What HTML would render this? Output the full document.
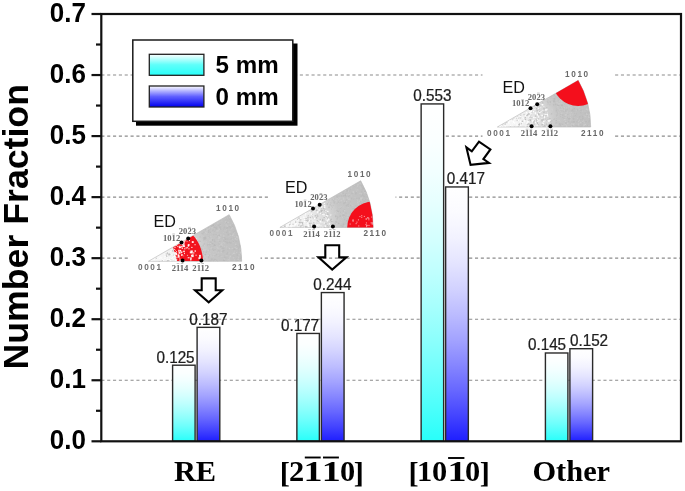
<!DOCTYPE html><html><head><meta charset="utf-8"><style>html,body{margin:0;padding:0;background:#fff;}svg{display:block;filter:blur(0.35px)}.s{font-family:"Liberation Sans",sans-serif}.r{font-family:"Liberation Serif",serif}</style></head><body>
<svg width="685" height="491" viewBox="0 0 685 491">
<defs><linearGradient id="gc" x1="0" y1="0" x2="0" y2="1"><stop offset="0.0" stop-color="rgb(255,255,255)"/><stop offset="0.1" stop-color="rgb(251,255,255)"/><stop offset="0.2" stop-color="rgb(242,255,255)"/><stop offset="0.3" stop-color="rgb(229,255,254)"/><stop offset="0.4" stop-color="rgb(212,255,254)"/><stop offset="0.5" stop-color="rgb(191,255,254)"/><stop offset="0.6" stop-color="rgb(167,255,253)"/><stop offset="0.7" stop-color="rgb(140,255,252)"/><stop offset="0.8" stop-color="rgb(110,255,252)"/><stop offset="0.9" stop-color="rgb(76,255,251)"/><stop offset="1.0" stop-color="rgb(40,255,250)"/></linearGradient><linearGradient id="gb" x1="0" y1="0" x2="0" y2="1"><stop offset="0.0" stop-color="rgb(255,255,255)"/><stop offset="0.1" stop-color="rgb(251,251,255)"/><stop offset="0.2" stop-color="rgb(242,242,255)"/><stop offset="0.3" stop-color="rgb(228,228,255)"/><stop offset="0.4" stop-color="rgb(210,210,255)"/><stop offset="0.5" stop-color="rgb(188,188,255)"/><stop offset="0.6" stop-color="rgb(163,163,255)"/><stop offset="0.7" stop-color="rgb(134,134,255)"/><stop offset="0.8" stop-color="rgb(103,103,255)"/><stop offset="0.9" stop-color="rgb(68,68,255)"/><stop offset="1.0" stop-color="rgb(30,30,255)"/></linearGradient><linearGradient id="lc" x1="0" y1="0" x2="0" y2="1"><stop offset="0" stop-color="#ffffff"/><stop offset="0.5" stop-color="#5ffffa"/><stop offset="1" stop-color="#28fffa"/></linearGradient><linearGradient id="lb" x1="0" y1="0" x2="0" y2="1"><stop offset="0" stop-color="#ffffff"/><stop offset="0.5" stop-color="#6060ff"/><stop offset="1" stop-color="#0000ee"/></linearGradient></defs>
<rect width="685" height="491" fill="#fff"/>
<line x1="101.35" y1="380.26" x2="680.0" y2="380.26" stroke="#8c8c8c" stroke-width="1.15" stroke-dasharray="3.1 2.738"/>
<line x1="101.35" y1="319.21" x2="680.0" y2="319.21" stroke="#8c8c8c" stroke-width="1.15" stroke-dasharray="3.1 2.738"/>
<line x1="101.35" y1="258.17" x2="680.0" y2="258.17" stroke="#8c8c8c" stroke-width="1.15" stroke-dasharray="3.1 2.738"/>
<line x1="101.35" y1="197.13" x2="680.0" y2="197.13" stroke="#8c8c8c" stroke-width="1.15" stroke-dasharray="3.1 2.738"/>
<line x1="101.35" y1="136.09" x2="680.0" y2="136.09" stroke="#8c8c8c" stroke-width="1.15" stroke-dasharray="3.1 2.738"/>
<line x1="101.35" y1="75.04" x2="680.0" y2="75.04" stroke="#8c8c8c" stroke-width="1.15" stroke-dasharray="3.1 2.738"/>
<rect x="128.5" y="203" width="132" height="72" fill="#fff"/>
<rect x="268" y="166" width="127.5" height="76" fill="#fff"/>
<rect x="482.5" y="66" width="131" height="76" fill="#fff"/>
<rect x="172.60" y="365.20" width="22.50" height="76.10" fill="url(#gc)" stroke="#2a2a2a" stroke-width="1.4"/>
<rect x="197.10" y="327.35" width="22.70" height="113.95" fill="url(#gb)" stroke="#2a2a2a" stroke-width="1.4"/>
<rect x="296.87" y="333.45" width="22.50" height="107.85" fill="url(#gc)" stroke="#2a2a2a" stroke-width="1.4"/>
<rect x="321.37" y="292.56" width="22.70" height="148.74" fill="url(#gb)" stroke="#2a2a2a" stroke-width="1.4"/>
<rect x="421.14" y="103.93" width="22.50" height="337.37" fill="url(#gc)" stroke="#2a2a2a" stroke-width="1.4"/>
<rect x="445.64" y="186.95" width="22.70" height="254.35" fill="url(#gb)" stroke="#2a2a2a" stroke-width="1.4"/>
<rect x="545.41" y="352.99" width="22.50" height="88.31" fill="url(#gc)" stroke="#2a2a2a" stroke-width="1.4"/>
<rect x="569.91" y="348.71" width="22.70" height="92.59" fill="url(#gb)" stroke="#2a2a2a" stroke-width="1.4"/>
<text class="s" transform="translate(175.50,362.50) scale(0.98,1)" font-size="15.6" text-anchor="middle" fill="#1e1e1e" stroke="#1e1e1e" stroke-width="0.25">0.125</text>
<text class="s" transform="translate(208.40,324.65) scale(0.98,1)" font-size="15.6" text-anchor="middle" fill="#1e1e1e" stroke="#1e1e1e" stroke-width="0.25">0.187</text>
<text class="s" transform="translate(300.00,330.75) scale(0.98,1)" font-size="15.6" text-anchor="middle" fill="#1e1e1e" stroke="#1e1e1e" stroke-width="0.25">0.177</text>
<text class="s" transform="translate(332.40,289.86) scale(0.98,1)" font-size="15.6" text-anchor="middle" fill="#1e1e1e" stroke="#1e1e1e" stroke-width="0.25">0.244</text>
<text class="s" transform="translate(432.35,101.23) scale(0.98,1)" font-size="15.6" text-anchor="middle" fill="#1e1e1e" stroke="#1e1e1e" stroke-width="0.25">0.553</text>
<text class="s" transform="translate(465.80,184.25) scale(0.98,1)" font-size="15.6" text-anchor="middle" fill="#1e1e1e" stroke="#1e1e1e" stroke-width="0.25">0.417</text>
<text class="s" transform="translate(547.00,350.29) scale(0.98,1)" font-size="15.6" text-anchor="middle" fill="#1e1e1e" stroke="#1e1e1e" stroke-width="0.25">0.145</text>
<text class="s" transform="translate(589.00,346.01) scale(0.98,1)" font-size="15.6" text-anchor="middle" fill="#1e1e1e" stroke="#1e1e1e" stroke-width="0.25">0.152</text>
<rect x="101.3" y="14.0" width="579.7" height="427.3" fill="none" stroke="#111" stroke-width="2.2"/>
<line x1="91.5" y1="441.30" x2="101.3" y2="441.30" stroke="#111" stroke-width="2.2"/>
<line x1="96" y1="410.78" x2="101.3" y2="410.78" stroke="#111" stroke-width="2.2"/>
<text class="s" transform="translate(85.9,448.90) scale(0.935,1)" font-size="27.8" font-weight="bold" text-anchor="end" fill="#000">0.0</text>
<line x1="91.5" y1="380.26" x2="101.3" y2="380.26" stroke="#111" stroke-width="2.2"/>
<line x1="96" y1="349.74" x2="101.3" y2="349.74" stroke="#111" stroke-width="2.2"/>
<text class="s" transform="translate(85.9,387.86) scale(0.935,1)" font-size="27.8" font-weight="bold" text-anchor="end" fill="#000">0.1</text>
<line x1="91.5" y1="319.21" x2="101.3" y2="319.21" stroke="#111" stroke-width="2.2"/>
<line x1="96" y1="288.69" x2="101.3" y2="288.69" stroke="#111" stroke-width="2.2"/>
<text class="s" transform="translate(85.9,326.81) scale(0.935,1)" font-size="27.8" font-weight="bold" text-anchor="end" fill="#000">0.2</text>
<line x1="91.5" y1="258.17" x2="101.3" y2="258.17" stroke="#111" stroke-width="2.2"/>
<line x1="96" y1="227.65" x2="101.3" y2="227.65" stroke="#111" stroke-width="2.2"/>
<text class="s" transform="translate(85.9,265.77) scale(0.935,1)" font-size="27.8" font-weight="bold" text-anchor="end" fill="#000">0.3</text>
<line x1="91.5" y1="197.13" x2="101.3" y2="197.13" stroke="#111" stroke-width="2.2"/>
<line x1="96" y1="166.61" x2="101.3" y2="166.61" stroke="#111" stroke-width="2.2"/>
<text class="s" transform="translate(85.9,204.73) scale(0.935,1)" font-size="27.8" font-weight="bold" text-anchor="end" fill="#000">0.4</text>
<line x1="91.5" y1="136.09" x2="101.3" y2="136.09" stroke="#111" stroke-width="2.2"/>
<line x1="96" y1="105.56" x2="101.3" y2="105.56" stroke="#111" stroke-width="2.2"/>
<text class="s" transform="translate(85.9,143.69) scale(0.935,1)" font-size="27.8" font-weight="bold" text-anchor="end" fill="#000">0.5</text>
<line x1="91.5" y1="75.04" x2="101.3" y2="75.04" stroke="#111" stroke-width="2.2"/>
<line x1="96" y1="44.52" x2="101.3" y2="44.52" stroke="#111" stroke-width="2.2"/>
<text class="s" transform="translate(85.9,82.64) scale(0.935,1)" font-size="27.8" font-weight="bold" text-anchor="end" fill="#000">0.6</text>
<line x1="91.5" y1="14.00" x2="101.3" y2="14.00" stroke="#111" stroke-width="2.2"/>
<text class="s" transform="translate(85.9,21.60) scale(0.935,1)" font-size="27.8" font-weight="bold" text-anchor="end" fill="#000">0.7</text>
<text class="s" transform="translate(27.7,226.8) rotate(-90)" x="0" y="0" font-size="35.7" font-weight="bold" text-anchor="middle" fill="#000">Number Fraction</text>
<text class="r" x="195" y="481.4" font-size="30.4" font-weight="bold" text-anchor="middle">RE</text>
<text class="r" x="284.8" y="482.7" font-size="30.4" font-weight="bold" text-anchor="middle">[</text>
<text class="r" x="296.5" y="481.4" font-size="30.4" font-weight="bold" text-anchor="middle">2</text>
<text class="r" transform="translate(313,481.4) scale(1.25,1)" font-size="30.4" font-weight="bold" text-anchor="middle">1</text>
<text class="r" transform="translate(331.2,481.4) scale(1.25,1)" font-size="30.4" font-weight="bold" text-anchor="middle">1</text>
<text class="r" x="347.5" y="481.4" font-size="30.4" font-weight="bold" text-anchor="middle">0</text>
<text class="r" x="358.7" y="482.7" font-size="30.4" font-weight="bold" text-anchor="middle">]</text>
<line x1="304.8" y1="457.5" x2="320.7" y2="457.5" stroke="#000" stroke-width="1.9"/>
<line x1="323" y1="457.5" x2="338.9" y2="457.5" stroke="#000" stroke-width="1.9"/>
<text class="r" x="413.5" y="482.7" font-size="30.4" font-weight="bold" text-anchor="middle">[</text>
<text class="r" x="424.5" y="481.4" font-size="30.4" font-weight="bold" text-anchor="middle">1</text>
<text class="r" x="439.7" y="481.4" font-size="30.4" font-weight="bold" text-anchor="middle">0</text>
<text class="r" transform="translate(457,481.4) scale(1.25,1)" font-size="30.4" font-weight="bold" text-anchor="middle">1</text>
<text class="r" x="472.7" y="481.4" font-size="30.4" font-weight="bold" text-anchor="middle">0</text>
<text class="r" x="484.7" y="482.7" font-size="30.4" font-weight="bold" text-anchor="middle">]</text>
<line x1="448.1" y1="458" x2="464.4" y2="458" stroke="#000" stroke-width="1.9"/>
<text class="r" x="571.3" y="481.4" font-size="30.4" font-weight="bold" text-anchor="middle">Other</text>
<rect x="136" y="43.5" width="161.5" height="82.2" fill="#000"/>
<rect x="132.8" y="40" width="160" height="81.3" fill="#fff" stroke="#1a1a1a" stroke-width="1.5"/>
<rect x="149.3" y="54.3" width="54.6" height="21" fill="url(#lc)" stroke="#222" stroke-width="1.3"/>
<rect x="149.3" y="86" width="54.6" height="21" fill="url(#lb)" stroke="#222" stroke-width="1.3"/>
<text class="s" transform="translate(215.6,73.3) scale(1.05,1)" font-size="23" font-weight="bold" word-spacing="0">5 mm</text>
<text class="s" transform="translate(215.6,104.8) scale(1.05,1)" font-size="23" font-weight="bold" word-spacing="0">0 mm</text>
<defs><radialGradient id="rg148" gradientUnits="userSpaceOnUse" cx="148.4" cy="261.3" r="93.3"><stop offset="0" stop-color="#fcfcfc"/><stop offset="0.32" stop-color="#eeeeee"/><stop offset="0.52" stop-color="#d8d8d8"/><stop offset="0.66" stop-color="#c6c6c6"/><stop offset="1" stop-color="#c0c0c0"/></radialGradient><clipPath id="cp148"><path d="M148.40,261.30 L241.70,261.30 A93.3,93.3 0 0 0 229.20,214.65 Z"/></clipPath></defs>
<path d="M148.40,261.30 L241.70,261.30 A93.3,93.3 0 0 0 229.20,214.65 Z" fill="url(#rg148)" stroke="#b4b4b4" stroke-width="0.6"/>
<g clip-path="url(#cp148)"><rect x="201.3" y="257.1" width="1.4" height="1.4" fill="#d0d0d0" opacity="0.6"/><rect x="232.8" y="257.1" width="1.4" height="1.4" fill="#d0d0d0" opacity="0.6"/><rect x="214.8" y="260.0" width="1.1" height="1.1" fill="#d0d0d0" opacity="0.6"/><rect x="192.3" y="248.3" width="0.8" height="0.8" fill="#bcbcbc" opacity="0.9"/><rect x="181.0" y="257.5" width="1.4" height="1.4" fill="#bcbcbc" opacity="0.9"/><rect x="170.5" y="254.3" width="0.8" height="0.8" fill="#bcbcbc" opacity="0.9"/><rect x="166.5" y="252.6" width="1.1" height="1.1" fill="#ffffff" opacity="0.9"/><rect x="214.0" y="241.1" width="1.4" height="1.4" fill="#b8b8b8" opacity="0.6"/><rect x="186.2" y="249.4" width="1.4" height="1.4" fill="#ffffff" opacity="0.9"/><rect x="175.5" y="250.7" width="1.4" height="1.4" fill="#ffffff" opacity="0.9"/><rect x="188.1" y="246.5" width="1.1" height="1.1" fill="#bcbcbc" opacity="0.9"/><rect x="204.8" y="231.7" width="1.1" height="1.1" fill="#d0d0d0" opacity="0.6"/><rect x="226.0" y="231.5" width="0.8" height="0.8" fill="#d0d0d0" opacity="0.6"/><rect x="197.8" y="248.2" width="1.1" height="1.1" fill="#bcbcbc" opacity="0.9"/><rect x="192.0" y="236.7" width="0.8" height="0.8" fill="#ffffff" opacity="0.9"/><rect x="185.7" y="254.5" width="1.1" height="1.1" fill="#ffffff" opacity="0.9"/><rect x="239.8" y="257.6" width="1.4" height="1.4" fill="#b8b8b8" opacity="0.6"/><rect x="234.5" y="247.0" width="1.4" height="1.4" fill="#d0d0d0" opacity="0.6"/><rect x="208.5" y="234.7" width="0.8" height="0.8" fill="#b8b8b8" opacity="0.6"/><rect x="236.3" y="239.0" width="1.4" height="1.4" fill="#d0d0d0" opacity="0.6"/><rect x="227.1" y="248.4" width="1.4" height="1.4" fill="#b8b8b8" opacity="0.6"/><rect x="232.0" y="248.7" width="1.1" height="1.1" fill="#b8b8b8" opacity="0.6"/><rect x="196.8" y="235.3" width="1.1" height="1.1" fill="#d0d0d0" opacity="0.6"/><rect x="180.3" y="260.3" width="1.1" height="1.1" fill="#ffffff" opacity="0.9"/><rect x="193.9" y="251.9" width="1.1" height="1.1" fill="#ffffff" opacity="0.9"/><rect x="208.4" y="243.6" width="0.8" height="0.8" fill="#b8b8b8" opacity="0.6"/><rect x="234.2" y="248.7" width="1.1" height="1.1" fill="#b8b8b8" opacity="0.6"/><rect x="224.0" y="246.0" width="0.8" height="0.8" fill="#d0d0d0" opacity="0.6"/><rect x="187.3" y="256.6" width="0.8" height="0.8" fill="#ffffff" opacity="0.9"/><rect x="233.1" y="253.2" width="1.1" height="1.1" fill="#d0d0d0" opacity="0.6"/><rect x="207.7" y="249.7" width="1.4" height="1.4" fill="#d0d0d0" opacity="0.6"/><rect x="178.2" y="246.9" width="1.4" height="1.4" fill="#bcbcbc" opacity="0.9"/><rect x="226.4" y="242.3" width="1.4" height="1.4" fill="#b8b8b8" opacity="0.6"/><rect x="205.6" y="249.2" width="0.8" height="0.8" fill="#d0d0d0" opacity="0.6"/><rect x="207.1" y="255.4" width="0.8" height="0.8" fill="#d0d0d0" opacity="0.6"/><rect x="177.8" y="251.7" width="0.8" height="0.8" fill="#ffffff" opacity="0.9"/><rect x="184.6" y="259.4" width="1.1" height="1.1" fill="#bcbcbc" opacity="0.9"/><rect x="173.0" y="258.6" width="1.1" height="1.1" fill="#ffffff" opacity="0.9"/><rect x="194.5" y="252.8" width="1.1" height="1.1" fill="#ffffff" opacity="0.9"/><rect x="179.1" y="253.3" width="1.1" height="1.1" fill="#ffffff" opacity="0.9"/><rect x="200.4" y="257.4" width="1.4" height="1.4" fill="#ffffff" opacity="0.9"/><rect x="192.0" y="241.1" width="0.8" height="0.8" fill="#ffffff" opacity="0.9"/><rect x="185.5" y="241.1" width="1.1" height="1.1" fill="#ffffff" opacity="0.9"/><rect x="217.2" y="260.3" width="1.4" height="1.4" fill="#d0d0d0" opacity="0.6"/><rect x="223.1" y="257.7" width="1.1" height="1.1" fill="#b8b8b8" opacity="0.6"/><rect x="235.8" y="244.8" width="0.8" height="0.8" fill="#b8b8b8" opacity="0.6"/><rect x="229.5" y="247.2" width="0.8" height="0.8" fill="#b8b8b8" opacity="0.6"/><rect x="224.8" y="229.3" width="0.8" height="0.8" fill="#b8b8b8" opacity="0.6"/><rect x="226.5" y="229.4" width="0.8" height="0.8" fill="#d0d0d0" opacity="0.6"/><rect x="209.2" y="236.8" width="0.8" height="0.8" fill="#b8b8b8" opacity="0.6"/><rect x="212.2" y="254.8" width="1.4" height="1.4" fill="#b8b8b8" opacity="0.6"/><rect x="203.4" y="231.9" width="1.1" height="1.1" fill="#b8b8b8" opacity="0.6"/><rect x="204.4" y="254.8" width="0.8" height="0.8" fill="#d0d0d0" opacity="0.6"/><rect x="200.9" y="247.7" width="1.4" height="1.4" fill="#b8b8b8" opacity="0.6"/><rect x="209.3" y="239.6" width="1.4" height="1.4" fill="#d0d0d0" opacity="0.6"/><rect x="215.8" y="226.5" width="1.4" height="1.4" fill="#b8b8b8" opacity="0.6"/><rect x="212.6" y="255.3" width="1.4" height="1.4" fill="#d0d0d0" opacity="0.6"/><rect x="221.3" y="220.6" width="1.1" height="1.1" fill="#d0d0d0" opacity="0.6"/><rect x="228.8" y="257.7" width="0.8" height="0.8" fill="#d0d0d0" opacity="0.6"/><rect x="181.6" y="258.7" width="1.1" height="1.1" fill="#bcbcbc" opacity="0.9"/><rect x="180.8" y="246.3" width="1.1" height="1.1" fill="#bcbcbc" opacity="0.9"/><rect x="201.4" y="245.7" width="0.8" height="0.8" fill="#d0d0d0" opacity="0.6"/><rect x="225.9" y="230.3" width="0.8" height="0.8" fill="#b8b8b8" opacity="0.6"/><rect x="236.2" y="241.0" width="0.8" height="0.8" fill="#b8b8b8" opacity="0.6"/><rect x="190.9" y="255.7" width="1.1" height="1.1" fill="#ffffff" opacity="0.9"/><rect x="228.7" y="247.5" width="1.4" height="1.4" fill="#d0d0d0" opacity="0.6"/><rect x="178.4" y="245.8" width="1.1" height="1.1" fill="#bcbcbc" opacity="0.9"/><rect x="217.5" y="229.9" width="1.4" height="1.4" fill="#d0d0d0" opacity="0.6"/><rect x="234.7" y="238.1" width="1.4" height="1.4" fill="#d0d0d0" opacity="0.6"/><rect x="208.2" y="231.9" width="0.8" height="0.8" fill="#b8b8b8" opacity="0.6"/><rect x="230.3" y="254.9" width="0.8" height="0.8" fill="#d0d0d0" opacity="0.6"/><rect x="224.5" y="238.5" width="1.1" height="1.1" fill="#b8b8b8" opacity="0.6"/><rect x="214.2" y="244.3" width="0.8" height="0.8" fill="#b8b8b8" opacity="0.6"/><rect x="170.5" y="259.1" width="0.8" height="0.8" fill="#bcbcbc" opacity="0.9"/><rect x="212.0" y="242.0" width="0.8" height="0.8" fill="#d0d0d0" opacity="0.6"/><rect x="218.9" y="242.2" width="1.4" height="1.4" fill="#d0d0d0" opacity="0.6"/><rect x="195.8" y="248.4" width="1.1" height="1.1" fill="#ffffff" opacity="0.9"/><rect x="193.1" y="248.7" width="1.1" height="1.1" fill="#bcbcbc" opacity="0.9"/><rect x="236.1" y="252.0" width="1.1" height="1.1" fill="#d0d0d0" opacity="0.6"/><rect x="180.1" y="253.8" width="0.8" height="0.8" fill="#bcbcbc" opacity="0.9"/><rect x="209.1" y="254.5" width="1.1" height="1.1" fill="#b8b8b8" opacity="0.6"/><rect x="236.5" y="254.2" width="1.4" height="1.4" fill="#b8b8b8" opacity="0.6"/><rect x="204.4" y="253.8" width="0.8" height="0.8" fill="#b8b8b8" opacity="0.6"/><rect x="186.8" y="240.4" width="1.1" height="1.1" fill="#bcbcbc" opacity="0.9"/><rect x="183.8" y="248.4" width="0.8" height="0.8" fill="#ffffff" opacity="0.9"/><rect x="207.5" y="245.0" width="1.1" height="1.1" fill="#d0d0d0" opacity="0.6"/><rect x="204.1" y="258.6" width="1.1" height="1.1" fill="#d0d0d0" opacity="0.6"/><rect x="216.0" y="245.4" width="0.8" height="0.8" fill="#d0d0d0" opacity="0.6"/><rect x="214.7" y="251.0" width="0.8" height="0.8" fill="#d0d0d0" opacity="0.6"/><rect x="237.2" y="250.6" width="0.8" height="0.8" fill="#d0d0d0" opacity="0.6"/><rect x="191.7" y="239.1" width="0.8" height="0.8" fill="#ffffff" opacity="0.9"/><rect x="181.2" y="253.9" width="1.4" height="1.4" fill="#bcbcbc" opacity="0.9"/><rect x="195.7" y="257.6" width="1.4" height="1.4" fill="#bcbcbc" opacity="0.9"/><rect x="226.4" y="257.6" width="0.8" height="0.8" fill="#b8b8b8" opacity="0.6"/><rect x="184.0" y="243.3" width="1.1" height="1.1" fill="#bcbcbc" opacity="0.9"/><rect x="216.3" y="231.0" width="0.8" height="0.8" fill="#b8b8b8" opacity="0.6"/><rect x="192.0" y="255.2" width="0.8" height="0.8" fill="#ffffff" opacity="0.9"/><rect x="200.5" y="245.8" width="1.1" height="1.1" fill="#b8b8b8" opacity="0.6"/><rect x="166.5" y="254.3" width="0.8" height="0.8" fill="#bcbcbc" opacity="0.9"/><rect x="195.9" y="256.8" width="1.1" height="1.1" fill="#bcbcbc" opacity="0.9"/><rect x="216.0" y="254.0" width="1.1" height="1.1" fill="#b8b8b8" opacity="0.6"/><rect x="187.1" y="254.2" width="0.8" height="0.8" fill="#bcbcbc" opacity="0.9"/><rect x="166.3" y="261.1" width="1.4" height="1.4" fill="#bcbcbc" opacity="0.9"/><rect x="187.8" y="251.3" width="1.1" height="1.1" fill="#ffffff" opacity="0.9"/><rect x="230.7" y="242.4" width="1.1" height="1.1" fill="#b8b8b8" opacity="0.6"/><rect x="225.2" y="218.5" width="1.1" height="1.1" fill="#b8b8b8" opacity="0.6"/><rect x="239.4" y="244.8" width="1.4" height="1.4" fill="#b8b8b8" opacity="0.6"/><rect x="178.7" y="244.0" width="0.8" height="0.8" fill="#bcbcbc" opacity="0.9"/><rect x="158.9" y="257.7" width="1.1" height="1.1" fill="#ffffff" opacity="0.9"/><rect x="169.0" y="253.8" width="1.1" height="1.1" fill="#bcbcbc" opacity="0.9"/><rect x="224.0" y="250.1" width="0.8" height="0.8" fill="#b8b8b8" opacity="0.6"/><rect x="168.2" y="259.4" width="1.1" height="1.1" fill="#ffffff" opacity="0.9"/><rect x="190.3" y="238.2" width="1.4" height="1.4" fill="#ffffff" opacity="0.9"/><rect x="163.9" y="253.6" width="0.8" height="0.8" fill="#ffffff" opacity="0.9"/><rect x="151.4" y="260.7" width="1.1" height="1.1" fill="#ffffff" opacity="0.9"/><rect x="223.3" y="251.5" width="0.8" height="0.8" fill="#d0d0d0" opacity="0.6"/><rect x="232.5" y="255.0" width="1.4" height="1.4" fill="#d0d0d0" opacity="0.6"/><rect x="162.2" y="259.1" width="0.8" height="0.8" fill="#ffffff" opacity="0.9"/><rect x="230.7" y="221.9" width="0.8" height="0.8" fill="#b8b8b8" opacity="0.6"/><rect x="219.1" y="226.2" width="1.1" height="1.1" fill="#b8b8b8" opacity="0.6"/><rect x="225.0" y="241.0" width="1.1" height="1.1" fill="#b8b8b8" opacity="0.6"/><rect x="223.2" y="259.6" width="1.4" height="1.4" fill="#b8b8b8" opacity="0.6"/><rect x="216.9" y="233.6" width="1.4" height="1.4" fill="#d0d0d0" opacity="0.6"/><rect x="213.6" y="243.7" width="0.8" height="0.8" fill="#b8b8b8" opacity="0.6"/><rect x="212.1" y="229.2" width="1.4" height="1.4" fill="#b8b8b8" opacity="0.6"/><rect x="223.1" y="258.0" width="0.8" height="0.8" fill="#d0d0d0" opacity="0.6"/><rect x="204.4" y="258.2" width="1.1" height="1.1" fill="#b8b8b8" opacity="0.6"/><rect x="218.4" y="237.5" width="1.4" height="1.4" fill="#d0d0d0" opacity="0.6"/><rect x="195.0" y="249.9" width="0.8" height="0.8" fill="#bcbcbc" opacity="0.9"/><rect x="212.0" y="243.0" width="1.4" height="1.4" fill="#b8b8b8" opacity="0.6"/><rect x="226.5" y="241.5" width="0.8" height="0.8" fill="#b8b8b8" opacity="0.6"/><rect x="190.1" y="243.9" width="0.8" height="0.8" fill="#bcbcbc" opacity="0.9"/><rect x="237.5" y="237.7" width="1.1" height="1.1" fill="#d0d0d0" opacity="0.6"/><rect x="236.4" y="248.0" width="0.8" height="0.8" fill="#b8b8b8" opacity="0.6"/><rect x="223.1" y="258.3" width="0.8" height="0.8" fill="#d0d0d0" opacity="0.6"/><rect x="218.8" y="234.6" width="1.4" height="1.4" fill="#b8b8b8" opacity="0.6"/><rect x="158.8" y="261.0" width="1.1" height="1.1" fill="#bcbcbc" opacity="0.9"/><rect x="177.6" y="258.0" width="1.1" height="1.1" fill="#ffffff" opacity="0.9"/><rect x="213.5" y="245.1" width="1.1" height="1.1" fill="#b8b8b8" opacity="0.6"/><rect x="237.6" y="234.9" width="1.1" height="1.1" fill="#b8b8b8" opacity="0.6"/><rect x="238.7" y="260.5" width="1.1" height="1.1" fill="#d0d0d0" opacity="0.6"/><rect x="206.0" y="228.3" width="1.1" height="1.1" fill="#d0d0d0" opacity="0.6"/><rect x="227.3" y="219.5" width="0.8" height="0.8" fill="#b8b8b8" opacity="0.6"/><rect x="182.2" y="251.8" width="1.1" height="1.1" fill="#ffffff" opacity="0.9"/><rect x="229.9" y="239.1" width="0.8" height="0.8" fill="#b8b8b8" opacity="0.6"/><rect x="188.4" y="241.0" width="1.1" height="1.1" fill="#ffffff" opacity="0.9"/><rect x="181.1" y="243.5" width="1.4" height="1.4" fill="#ffffff" opacity="0.9"/><rect x="199.5" y="257.5" width="1.1" height="1.1" fill="#ffffff" opacity="0.9"/><rect x="180.4" y="255.7" width="1.1" height="1.1" fill="#bcbcbc" opacity="0.9"/><rect x="233.7" y="255.9" width="0.8" height="0.8" fill="#b8b8b8" opacity="0.6"/><rect x="236.0" y="247.9" width="1.1" height="1.1" fill="#d0d0d0" opacity="0.6"/><rect x="200.7" y="235.7" width="0.8" height="0.8" fill="#d0d0d0" opacity="0.6"/><rect x="208.8" y="252.5" width="0.8" height="0.8" fill="#d0d0d0" opacity="0.6"/><rect x="168.3" y="254.1" width="1.4" height="1.4" fill="#bcbcbc" opacity="0.9"/><rect x="194.5" y="254.8" width="1.4" height="1.4" fill="#ffffff" opacity="0.9"/><rect x="223.6" y="228.5" width="1.1" height="1.1" fill="#b8b8b8" opacity="0.6"/><rect x="227.9" y="234.0" width="1.4" height="1.4" fill="#b8b8b8" opacity="0.6"/><rect x="227.5" y="259.2" width="1.4" height="1.4" fill="#d0d0d0" opacity="0.6"/><rect x="221.4" y="256.0" width="1.1" height="1.1" fill="#d0d0d0" opacity="0.6"/><rect x="233.8" y="236.0" width="0.8" height="0.8" fill="#d0d0d0" opacity="0.6"/><rect x="202.4" y="252.8" width="1.4" height="1.4" fill="#b8b8b8" opacity="0.6"/><rect x="222.1" y="245.4" width="0.8" height="0.8" fill="#d0d0d0" opacity="0.6"/><rect x="216.6" y="247.0" width="0.8" height="0.8" fill="#b8b8b8" opacity="0.6"/><rect x="173.1" y="254.7" width="1.1" height="1.1" fill="#bcbcbc" opacity="0.9"/><rect x="210.2" y="250.4" width="1.1" height="1.1" fill="#d0d0d0" opacity="0.6"/><rect x="216.9" y="252.5" width="0.8" height="0.8" fill="#d0d0d0" opacity="0.6"/><rect x="176.3" y="257.8" width="1.1" height="1.1" fill="#bcbcbc" opacity="0.9"/><rect x="190.3" y="260.9" width="1.1" height="1.1" fill="#ffffff" opacity="0.9"/><rect x="228.5" y="252.5" width="1.1" height="1.1" fill="#d0d0d0" opacity="0.6"/><rect x="171.4" y="257.9" width="1.1" height="1.1" fill="#ffffff" opacity="0.9"/><rect x="211.0" y="239.9" width="0.8" height="0.8" fill="#d0d0d0" opacity="0.6"/><rect x="235.0" y="243.6" width="1.4" height="1.4" fill="#d0d0d0" opacity="0.6"/><rect x="230.7" y="222.1" width="0.8" height="0.8" fill="#d0d0d0" opacity="0.6"/><rect x="204.4" y="237.6" width="1.1" height="1.1" fill="#b8b8b8" opacity="0.6"/><rect x="213.7" y="258.8" width="1.4" height="1.4" fill="#b8b8b8" opacity="0.6"/><rect x="239.6" y="249.4" width="0.8" height="0.8" fill="#d0d0d0" opacity="0.6"/><rect x="180.2" y="243.6" width="0.8" height="0.8" fill="#bcbcbc" opacity="0.9"/><rect x="223.2" y="234.9" width="1.1" height="1.1" fill="#d0d0d0" opacity="0.6"/><rect x="230.6" y="261.2" width="0.8" height="0.8" fill="#d0d0d0" opacity="0.6"/><rect x="232.8" y="231.6" width="1.1" height="1.1" fill="#b8b8b8" opacity="0.6"/><rect x="219.4" y="241.1" width="1.1" height="1.1" fill="#b8b8b8" opacity="0.6"/><rect x="179.6" y="260.1" width="1.4" height="1.4" fill="#bcbcbc" opacity="0.9"/><rect x="188.9" y="255.7" width="1.4" height="1.4" fill="#ffffff" opacity="0.9"/><rect x="207.7" y="227.2" width="1.1" height="1.1" fill="#b8b8b8" opacity="0.6"/><rect x="215.4" y="227.9" width="1.1" height="1.1" fill="#b8b8b8" opacity="0.6"/><rect x="217.4" y="260.2" width="1.1" height="1.1" fill="#b8b8b8" opacity="0.6"/><rect x="200.1" y="260.7" width="1.1" height="1.1" fill="#bcbcbc" opacity="0.9"/><rect x="223.4" y="258.1" width="0.8" height="0.8" fill="#b8b8b8" opacity="0.6"/><rect x="237.5" y="250.7" width="0.8" height="0.8" fill="#b8b8b8" opacity="0.6"/><rect x="226.1" y="246.4" width="1.1" height="1.1" fill="#d0d0d0" opacity="0.6"/><rect x="225.5" y="229.9" width="1.4" height="1.4" fill="#d0d0d0" opacity="0.6"/><rect x="213.7" y="254.4" width="0.8" height="0.8" fill="#d0d0d0" opacity="0.6"/><rect x="188.9" y="244.3" width="1.1" height="1.1" fill="#ffffff" opacity="0.9"/><rect x="218.3" y="238.2" width="0.8" height="0.8" fill="#d0d0d0" opacity="0.6"/><rect x="237.4" y="258.7" width="1.4" height="1.4" fill="#d0d0d0" opacity="0.6"/><rect x="206.6" y="254.8" width="1.4" height="1.4" fill="#d0d0d0" opacity="0.6"/><rect x="169.6" y="260.6" width="1.1" height="1.1" fill="#ffffff" opacity="0.9"/><rect x="226.1" y="248.4" width="0.8" height="0.8" fill="#b8b8b8" opacity="0.6"/><rect x="237.1" y="245.9" width="0.8" height="0.8" fill="#b8b8b8" opacity="0.6"/><rect x="214.0" y="244.9" width="1.1" height="1.1" fill="#b8b8b8" opacity="0.6"/><rect x="204.7" y="250.1" width="1.1" height="1.1" fill="#d0d0d0" opacity="0.6"/><rect x="179.2" y="260.0" width="0.8" height="0.8" fill="#ffffff" opacity="0.9"/><rect x="239.4" y="255.4" width="0.8" height="0.8" fill="#d0d0d0" opacity="0.6"/><rect x="229.1" y="248.1" width="1.1" height="1.1" fill="#d0d0d0" opacity="0.6"/><rect x="226.3" y="253.3" width="1.4" height="1.4" fill="#b8b8b8" opacity="0.6"/><rect x="188.6" y="253.5" width="1.1" height="1.1" fill="#ffffff" opacity="0.9"/><rect x="202.9" y="236.6" width="1.1" height="1.1" fill="#d0d0d0" opacity="0.6"/><rect x="165.8" y="260.7" width="0.8" height="0.8" fill="#ffffff" opacity="0.9"/><rect x="220.3" y="224.7" width="1.1" height="1.1" fill="#d0d0d0" opacity="0.6"/><rect x="195.8" y="235.4" width="0.8" height="0.8" fill="#d0d0d0" opacity="0.6"/><rect x="226.3" y="248.3" width="1.1" height="1.1" fill="#d0d0d0" opacity="0.6"/><rect x="223.8" y="237.0" width="1.4" height="1.4" fill="#b8b8b8" opacity="0.6"/><rect x="170.1" y="251.3" width="0.8" height="0.8" fill="#ffffff" opacity="0.9"/><rect x="228.5" y="217.6" width="1.1" height="1.1" fill="#b8b8b8" opacity="0.6"/><rect x="229.6" y="224.4" width="0.8" height="0.8" fill="#b8b8b8" opacity="0.6"/><rect x="184.8" y="245.0" width="1.4" height="1.4" fill="#ffffff" opacity="0.9"/><rect x="225.8" y="255.2" width="0.8" height="0.8" fill="#d0d0d0" opacity="0.6"/><rect x="200.2" y="251.4" width="1.4" height="1.4" fill="#d0d0d0" opacity="0.6"/><rect x="186.7" y="245.4" width="0.8" height="0.8" fill="#ffffff" opacity="0.9"/><rect x="221.2" y="242.5" width="1.4" height="1.4" fill="#d0d0d0" opacity="0.6"/><rect x="231.1" y="220.1" width="0.8" height="0.8" fill="#d0d0d0" opacity="0.6"/><rect x="175.4" y="259.9" width="1.1" height="1.1" fill="#bcbcbc" opacity="0.9"/><rect x="240.0" y="253.0" width="0.8" height="0.8" fill="#d0d0d0" opacity="0.6"/><rect x="217.4" y="235.9" width="1.4" height="1.4" fill="#b8b8b8" opacity="0.6"/><rect x="224.1" y="229.5" width="1.1" height="1.1" fill="#d0d0d0" opacity="0.6"/><rect x="217.3" y="247.7" width="1.4" height="1.4" fill="#d0d0d0" opacity="0.6"/><rect x="210.0" y="255.3" width="0.8" height="0.8" fill="#d0d0d0" opacity="0.6"/><rect x="232.1" y="235.1" width="1.1" height="1.1" fill="#d0d0d0" opacity="0.6"/><rect x="194.8" y="255.3" width="1.4" height="1.4" fill="#ffffff" opacity="0.9"/><rect x="227.4" y="233.2" width="0.8" height="0.8" fill="#d0d0d0" opacity="0.6"/><rect x="206.9" y="234.6" width="1.1" height="1.1" fill="#b8b8b8" opacity="0.6"/><rect x="166.9" y="258.4" width="0.8" height="0.8" fill="#ffffff" opacity="0.9"/><rect x="214.0" y="230.9" width="0.8" height="0.8" fill="#b8b8b8" opacity="0.6"/><rect x="199.6" y="236.4" width="1.1" height="1.1" fill="#b8b8b8" opacity="0.6"/><rect x="225.6" y="233.3" width="0.8" height="0.8" fill="#d0d0d0" opacity="0.6"/><rect x="216.7" y="238.3" width="0.8" height="0.8" fill="#d0d0d0" opacity="0.6"/><rect x="202.8" y="260.0" width="1.1" height="1.1" fill="#d0d0d0" opacity="0.6"/><rect x="219.3" y="224.5" width="0.8" height="0.8" fill="#b8b8b8" opacity="0.6"/><rect x="206.9" y="249.8" width="1.4" height="1.4" fill="#d0d0d0" opacity="0.6"/><rect x="186.9" y="244.3" width="1.4" height="1.4" fill="#ffffff" opacity="0.9"/><rect x="202.9" y="237.2" width="1.4" height="1.4" fill="#b8b8b8" opacity="0.6"/><rect x="222.9" y="257.7" width="0.8" height="0.8" fill="#d0d0d0" opacity="0.6"/><rect x="190.6" y="237.3" width="1.4" height="1.4" fill="#ffffff" opacity="0.9"/><rect x="238.3" y="246.5" width="1.4" height="1.4" fill="#b8b8b8" opacity="0.6"/><rect x="208.4" y="260.7" width="1.1" height="1.1" fill="#b8b8b8" opacity="0.6"/><rect x="205.4" y="249.0" width="0.8" height="0.8" fill="#d0d0d0" opacity="0.6"/><rect x="185.3" y="259.1" width="0.8" height="0.8" fill="#ffffff" opacity="0.9"/><rect x="233.5" y="240.3" width="0.8" height="0.8" fill="#d0d0d0" opacity="0.6"/><rect x="169.6" y="259.7" width="1.1" height="1.1" fill="#ffffff" opacity="0.9"/><rect x="220.6" y="247.1" width="1.4" height="1.4" fill="#d0d0d0" opacity="0.6"/><rect x="203.2" y="256.6" width="0.8" height="0.8" fill="#b8b8b8" opacity="0.6"/><rect x="178.2" y="253.5" width="0.8" height="0.8" fill="#ffffff" opacity="0.9"/><rect x="233.8" y="259.4" width="1.1" height="1.1" fill="#d0d0d0" opacity="0.6"/><rect x="217.1" y="237.5" width="0.8" height="0.8" fill="#b8b8b8" opacity="0.6"/><rect x="215.1" y="230.6" width="0.8" height="0.8" fill="#b8b8b8" opacity="0.6"/><rect x="230.2" y="233.7" width="1.4" height="1.4" fill="#b8b8b8" opacity="0.6"/><rect x="233.0" y="253.2" width="0.8" height="0.8" fill="#d0d0d0" opacity="0.6"/><rect x="238.5" y="253.9" width="1.1" height="1.1" fill="#d0d0d0" opacity="0.6"/><rect x="191.5" y="244.1" width="0.8" height="0.8" fill="#ffffff" opacity="0.9"/><rect x="212.9" y="234.3" width="0.8" height="0.8" fill="#b8b8b8" opacity="0.6"/><rect x="200.4" y="250.5" width="1.1" height="1.1" fill="#b8b8b8" opacity="0.6"/><rect x="221.3" y="249.5" width="1.1" height="1.1" fill="#d0d0d0" opacity="0.6"/><rect x="194.0" y="251.9" width="1.1" height="1.1" fill="#ffffff" opacity="0.9"/><rect x="210.2" y="260.5" width="1.4" height="1.4" fill="#b8b8b8" opacity="0.6"/><rect x="210.3" y="246.5" width="1.4" height="1.4" fill="#b8b8b8" opacity="0.6"/><rect x="211.3" y="255.4" width="1.1" height="1.1" fill="#d0d0d0" opacity="0.6"/><rect x="172.1" y="256.8" width="1.1" height="1.1" fill="#ffffff" opacity="0.9"/><rect x="208.2" y="244.9" width="0.8" height="0.8" fill="#d0d0d0" opacity="0.6"/><rect x="178.2" y="245.7" width="1.1" height="1.1" fill="#bcbcbc" opacity="0.9"/><rect x="215.1" y="259.4" width="1.4" height="1.4" fill="#b8b8b8" opacity="0.6"/><rect x="217.5" y="231.2" width="0.8" height="0.8" fill="#b8b8b8" opacity="0.6"/><rect x="234.8" y="226.5" width="0.8" height="0.8" fill="#d0d0d0" opacity="0.6"/><rect x="237.8" y="237.8" width="0.8" height="0.8" fill="#b8b8b8" opacity="0.6"/><rect x="227.1" y="252.1" width="1.1" height="1.1" fill="#b8b8b8" opacity="0.6"/><rect x="194.6" y="253.4" width="1.4" height="1.4" fill="#ffffff" opacity="0.9"/><rect x="232.4" y="255.0" width="1.4" height="1.4" fill="#b8b8b8" opacity="0.6"/><rect x="210.0" y="241.6" width="1.4" height="1.4" fill="#b8b8b8" opacity="0.6"/><rect x="201.1" y="260.3" width="0.8" height="0.8" fill="#d0d0d0" opacity="0.6"/><rect x="222.1" y="250.5" width="1.1" height="1.1" fill="#b8b8b8" opacity="0.6"/><rect x="183.5" y="246.0" width="0.8" height="0.8" fill="#bcbcbc" opacity="0.9"/><rect x="166.9" y="252.4" width="1.1" height="1.1" fill="#bcbcbc" opacity="0.9"/><rect x="212.0" y="229.6" width="0.8" height="0.8" fill="#d0d0d0" opacity="0.6"/><rect x="209.9" y="231.7" width="1.4" height="1.4" fill="#b8b8b8" opacity="0.6"/><rect x="190.1" y="237.5" width="1.4" height="1.4" fill="#ffffff" opacity="0.9"/><rect x="202.0" y="259.0" width="0.8" height="0.8" fill="#d0d0d0" opacity="0.6"/><rect x="228.8" y="259.3" width="1.4" height="1.4" fill="#d0d0d0" opacity="0.6"/><rect x="213.3" y="224.5" width="1.4" height="1.4" fill="#b8b8b8" opacity="0.6"/><rect x="230.3" y="228.2" width="1.4" height="1.4" fill="#d0d0d0" opacity="0.6"/><rect x="182.6" y="249.9" width="1.1" height="1.1" fill="#ffffff" opacity="0.9"/><rect x="204.7" y="259.9" width="1.1" height="1.1" fill="#d0d0d0" opacity="0.6"/><rect x="223.8" y="260.4" width="0.8" height="0.8" fill="#b8b8b8" opacity="0.6"/><rect x="197.9" y="247.4" width="1.4" height="1.4" fill="#ffffff" opacity="0.9"/><rect x="216.3" y="239.7" width="0.8" height="0.8" fill="#d0d0d0" opacity="0.6"/><rect x="233.0" y="254.3" width="0.8" height="0.8" fill="#b8b8b8" opacity="0.6"/><rect x="194.3" y="257.7" width="0.8" height="0.8" fill="#ffffff" opacity="0.9"/><rect x="181.8" y="249.2" width="1.1" height="1.1" fill="#ffffff" opacity="0.9"/><rect x="196.4" y="261.0" width="1.4" height="1.4" fill="#bcbcbc" opacity="0.9"/><rect x="232.3" y="234.3" width="1.4" height="1.4" fill="#d0d0d0" opacity="0.6"/><rect x="232.1" y="227.5" width="0.8" height="0.8" fill="#d0d0d0" opacity="0.6"/><rect x="150.3" y="261.2" width="0.8" height="0.8" fill="#ffffff" opacity="0.9"/><rect x="193.9" y="259.9" width="0.8" height="0.8" fill="#ffffff" opacity="0.9"/><rect x="209.4" y="228.5" width="0.8" height="0.8" fill="#d0d0d0" opacity="0.6"/><rect x="211.8" y="239.1" width="1.4" height="1.4" fill="#b8b8b8" opacity="0.6"/><rect x="232.2" y="253.6" width="1.1" height="1.1" fill="#d0d0d0" opacity="0.6"/><rect x="212.4" y="224.6" width="1.4" height="1.4" fill="#b8b8b8" opacity="0.6"/><rect x="227.3" y="261.0" width="1.1" height="1.1" fill="#b8b8b8" opacity="0.6"/><rect x="207.3" y="237.2" width="1.1" height="1.1" fill="#d0d0d0" opacity="0.6"/><rect x="240.7" y="248.6" width="1.4" height="1.4" fill="#d0d0d0" opacity="0.6"/><rect x="198.3" y="240.6" width="1.4" height="1.4" fill="#b8b8b8" opacity="0.6"/><rect x="196.3" y="260.0" width="1.4" height="1.4" fill="#bcbcbc" opacity="0.9"/><rect x="204.8" y="236.6" width="1.4" height="1.4" fill="#b8b8b8" opacity="0.6"/><rect x="193.2" y="237.6" width="0.8" height="0.8" fill="#ffffff" opacity="0.9"/><rect x="214.6" y="255.4" width="0.8" height="0.8" fill="#b8b8b8" opacity="0.6"/><rect x="190.3" y="257.8" width="1.1" height="1.1" fill="#ffffff" opacity="0.9"/><rect x="203.7" y="243.3" width="1.1" height="1.1" fill="#b8b8b8" opacity="0.6"/><rect x="217.7" y="235.0" width="1.4" height="1.4" fill="#b8b8b8" opacity="0.6"/><rect x="214.7" y="244.6" width="1.4" height="1.4" fill="#b8b8b8" opacity="0.6"/><rect x="232.5" y="241.7" width="1.4" height="1.4" fill="#d0d0d0" opacity="0.6"/><rect x="228.8" y="226.1" width="1.1" height="1.1" fill="#b8b8b8" opacity="0.6"/><rect x="171.5" y="249.4" width="0.8" height="0.8" fill="#ffffff" opacity="0.9"/><rect x="178.0" y="251.3" width="0.8" height="0.8" fill="#ffffff" opacity="0.9"/><rect x="183.5" y="260.8" width="0.8" height="0.8" fill="#ffffff" opacity="0.9"/><rect x="223.2" y="259.6" width="0.8" height="0.8" fill="#b8b8b8" opacity="0.6"/><rect x="171.2" y="254.0" width="1.1" height="1.1" fill="#ffffff" opacity="0.9"/><rect x="236.0" y="236.1" width="1.4" height="1.4" fill="#d0d0d0" opacity="0.6"/><rect x="225.5" y="221.3" width="1.1" height="1.1" fill="#d0d0d0" opacity="0.6"/><rect x="190.6" y="258.8" width="0.8" height="0.8" fill="#bcbcbc" opacity="0.9"/><rect x="230.6" y="227.1" width="0.8" height="0.8" fill="#b8b8b8" opacity="0.6"/><rect x="221.7" y="250.2" width="0.8" height="0.8" fill="#d0d0d0" opacity="0.6"/><rect x="226.7" y="233.7" width="1.1" height="1.1" fill="#d0d0d0" opacity="0.6"/><rect x="209.1" y="260.6" width="1.1" height="1.1" fill="#b8b8b8" opacity="0.6"/><rect x="167.3" y="253.3" width="1.1" height="1.1" fill="#bcbcbc" opacity="0.9"/><rect x="218.6" y="243.4" width="1.1" height="1.1" fill="#b8b8b8" opacity="0.6"/><rect x="164.4" y="257.8" width="1.1" height="1.1" fill="#ffffff" opacity="0.9"/><rect x="176.8" y="254.2" width="0.8" height="0.8" fill="#ffffff" opacity="0.9"/><rect x="187.5" y="242.4" width="0.8" height="0.8" fill="#bcbcbc" opacity="0.9"/><rect x="197.1" y="250.0" width="1.4" height="1.4" fill="#ffffff" opacity="0.9"/><rect x="219.4" y="221.4" width="0.8" height="0.8" fill="#d0d0d0" opacity="0.6"/><rect x="175.4" y="251.0" width="0.8" height="0.8" fill="#bcbcbc" opacity="0.9"/><rect x="211.4" y="226.8" width="1.4" height="1.4" fill="#d0d0d0" opacity="0.6"/><rect x="238.0" y="247.9" width="0.8" height="0.8" fill="#b8b8b8" opacity="0.6"/><rect x="193.1" y="257.4" width="1.4" height="1.4" fill="#bcbcbc" opacity="0.9"/><rect x="205.1" y="228.9" width="1.4" height="1.4" fill="#b8b8b8" opacity="0.6"/><rect x="221.1" y="247.6" width="1.1" height="1.1" fill="#b8b8b8" opacity="0.6"/><rect x="229.9" y="227.8" width="1.1" height="1.1" fill="#b8b8b8" opacity="0.6"/><rect x="163.1" y="259.7" width="1.1" height="1.1" fill="#ffffff" opacity="0.9"/><rect x="217.0" y="255.1" width="1.4" height="1.4" fill="#d0d0d0" opacity="0.6"/><rect x="209.3" y="243.9" width="1.4" height="1.4" fill="#b8b8b8" opacity="0.6"/><rect x="222.2" y="247.7" width="1.1" height="1.1" fill="#b8b8b8" opacity="0.6"/><rect x="232.9" y="241.0" width="1.4" height="1.4" fill="#b8b8b8" opacity="0.6"/><rect x="185.8" y="252.6" width="1.1" height="1.1" fill="#bcbcbc" opacity="0.9"/><rect x="180.6" y="253.4" width="1.4" height="1.4" fill="#ffffff" opacity="0.9"/><rect x="188.7" y="254.9" width="1.4" height="1.4" fill="#bcbcbc" opacity="0.9"/><rect x="216.5" y="234.2" width="0.8" height="0.8" fill="#b8b8b8" opacity="0.6"/><rect x="219.6" y="248.1" width="0.8" height="0.8" fill="#d0d0d0" opacity="0.6"/><rect x="183.8" y="241.5" width="1.4" height="1.4" fill="#bcbcbc" opacity="0.9"/><rect x="184.0" y="248.5" width="0.8" height="0.8" fill="#ffffff" opacity="0.9"/><rect x="233.0" y="223.9" width="1.4" height="1.4" fill="#d0d0d0" opacity="0.6"/><rect x="197.1" y="258.5" width="0.8" height="0.8" fill="#ffffff" opacity="0.9"/><rect x="233.6" y="240.2" width="0.8" height="0.8" fill="#d0d0d0" opacity="0.6"/><rect x="226.0" y="231.8" width="1.4" height="1.4" fill="#b8b8b8" opacity="0.6"/><rect x="199.2" y="260.7" width="1.1" height="1.1" fill="#bcbcbc" opacity="0.9"/><rect x="203.3" y="238.8" width="1.1" height="1.1" fill="#b8b8b8" opacity="0.6"/><rect x="215.8" y="237.5" width="0.8" height="0.8" fill="#b8b8b8" opacity="0.6"/><rect x="215.9" y="227.9" width="1.4" height="1.4" fill="#b8b8b8" opacity="0.6"/><rect x="229.1" y="231.3" width="1.4" height="1.4" fill="#d0d0d0" opacity="0.6"/><rect x="209.2" y="253.0" width="1.4" height="1.4" fill="#d0d0d0" opacity="0.6"/><rect x="203.8" y="237.2" width="1.4" height="1.4" fill="#b8b8b8" opacity="0.6"/><rect x="181.7" y="245.4" width="1.1" height="1.1" fill="#ffffff" opacity="0.9"/><rect x="220.3" y="245.7" width="1.4" height="1.4" fill="#b8b8b8" opacity="0.6"/><rect x="226.2" y="221.9" width="1.1" height="1.1" fill="#b8b8b8" opacity="0.6"/><rect x="204.7" y="246.5" width="0.8" height="0.8" fill="#d0d0d0" opacity="0.6"/><rect x="216.9" y="255.5" width="0.8" height="0.8" fill="#b8b8b8" opacity="0.6"/><rect x="176.7" y="252.5" width="1.4" height="1.4" fill="#ffffff" opacity="0.9"/><rect x="212.8" y="260.8" width="1.1" height="1.1" fill="#b8b8b8" opacity="0.6"/><rect x="201.0" y="232.8" width="0.8" height="0.8" fill="#b8b8b8" opacity="0.6"/><rect x="187.0" y="250.7" width="0.8" height="0.8" fill="#bcbcbc" opacity="0.9"/><rect x="217.5" y="237.3" width="1.1" height="1.1" fill="#d0d0d0" opacity="0.6"/><rect x="207.4" y="260.9" width="1.1" height="1.1" fill="#b8b8b8" opacity="0.6"/><rect x="217.8" y="235.7" width="1.4" height="1.4" fill="#d0d0d0" opacity="0.6"/><rect x="189.3" y="244.6" width="1.4" height="1.4" fill="#bcbcbc" opacity="0.9"/><rect x="229.9" y="216.4" width="1.1" height="1.1" fill="#d0d0d0" opacity="0.6"/><rect x="179.2" y="248.0" width="1.4" height="1.4" fill="#ffffff" opacity="0.9"/><rect x="217.9" y="233.8" width="0.8" height="0.8" fill="#d0d0d0" opacity="0.6"/><rect x="216.2" y="230.3" width="1.1" height="1.1" fill="#d0d0d0" opacity="0.6"/><rect x="196.9" y="247.0" width="0.8" height="0.8" fill="#bcbcbc" opacity="0.9"/><rect x="207.0" y="235.8" width="0.8" height="0.8" fill="#d0d0d0" opacity="0.6"/><rect x="205.1" y="253.7" width="1.1" height="1.1" fill="#b8b8b8" opacity="0.6"/><rect x="207.5" y="234.8" width="1.1" height="1.1" fill="#d0d0d0" opacity="0.6"/><rect x="222.8" y="248.7" width="1.1" height="1.1" fill="#d0d0d0" opacity="0.6"/><rect x="218.5" y="236.1" width="1.1" height="1.1" fill="#d0d0d0" opacity="0.6"/><rect x="198.7" y="251.0" width="0.8" height="0.8" fill="#bcbcbc" opacity="0.9"/><rect x="229.8" y="225.9" width="0.8" height="0.8" fill="#b8b8b8" opacity="0.6"/><rect x="200.7" y="244.8" width="1.4" height="1.4" fill="#d0d0d0" opacity="0.6"/><rect x="234.1" y="230.6" width="1.1" height="1.1" fill="#b8b8b8" opacity="0.6"/><rect x="212.4" y="230.6" width="0.8" height="0.8" fill="#b8b8b8" opacity="0.6"/><rect x="203.1" y="256.9" width="1.1" height="1.1" fill="#b8b8b8" opacity="0.6"/><rect x="182.5" y="244.1" width="1.4" height="1.4" fill="#bcbcbc" opacity="0.9"/><rect x="173.4" y="248.5" width="1.4" height="1.4" fill="#bcbcbc" opacity="0.9"/><rect x="233.4" y="252.5" width="1.4" height="1.4" fill="#d0d0d0" opacity="0.6"/><rect x="172.1" y="250.2" width="1.4" height="1.4" fill="#bcbcbc" opacity="0.9"/><rect x="217.2" y="251.7" width="0.8" height="0.8" fill="#b8b8b8" opacity="0.6"/><rect x="209.9" y="242.8" width="1.1" height="1.1" fill="#d0d0d0" opacity="0.6"/><rect x="182.7" y="252.3" width="1.1" height="1.1" fill="#ffffff" opacity="0.9"/><rect x="215.4" y="234.2" width="0.8" height="0.8" fill="#b8b8b8" opacity="0.6"/><rect x="209.5" y="242.8" width="1.4" height="1.4" fill="#d0d0d0" opacity="0.6"/><rect x="210.5" y="247.2" width="1.4" height="1.4" fill="#d0d0d0" opacity="0.6"/><rect x="218.8" y="237.0" width="0.8" height="0.8" fill="#d0d0d0" opacity="0.6"/><rect x="166.9" y="253.8" width="1.1" height="1.1" fill="#bcbcbc" opacity="0.9"/><rect x="176.1" y="254.1" width="0.8" height="0.8" fill="#ffffff" opacity="0.9"/><rect x="223.3" y="235.9" width="1.1" height="1.1" fill="#d0d0d0" opacity="0.6"/><rect x="222.9" y="247.8" width="1.4" height="1.4" fill="#b8b8b8" opacity="0.6"/><rect x="236.5" y="248.1" width="1.1" height="1.1" fill="#d0d0d0" opacity="0.6"/><rect x="211.4" y="232.2" width="1.1" height="1.1" fill="#d0d0d0" opacity="0.6"/><rect x="213.0" y="249.9" width="1.1" height="1.1" fill="#b8b8b8" opacity="0.6"/><rect x="202.9" y="255.5" width="1.1" height="1.1" fill="#b8b8b8" opacity="0.6"/><rect x="201.3" y="252.4" width="1.1" height="1.1" fill="#d0d0d0" opacity="0.6"/><rect x="240.3" y="257.1" width="0.8" height="0.8" fill="#d0d0d0" opacity="0.6"/><rect x="216.3" y="246.6" width="1.4" height="1.4" fill="#d0d0d0" opacity="0.6"/><rect x="199.5" y="261.1" width="0.8" height="0.8" fill="#bcbcbc" opacity="0.9"/><rect x="207.6" y="236.2" width="0.8" height="0.8" fill="#b8b8b8" opacity="0.6"/><rect x="232.9" y="233.3" width="1.4" height="1.4" fill="#d0d0d0" opacity="0.6"/><rect x="220.0" y="234.3" width="1.4" height="1.4" fill="#d0d0d0" opacity="0.6"/><rect x="165.9" y="255.3" width="1.4" height="1.4" fill="#bcbcbc" opacity="0.9"/><rect x="178.0" y="258.5" width="0.8" height="0.8" fill="#ffffff" opacity="0.9"/><rect x="174.5" y="247.4" width="0.8" height="0.8" fill="#ffffff" opacity="0.9"/><rect x="225.9" y="227.4" width="1.4" height="1.4" fill="#b8b8b8" opacity="0.6"/><rect x="234.6" y="252.9" width="0.8" height="0.8" fill="#d0d0d0" opacity="0.6"/><rect x="206.2" y="241.1" width="0.8" height="0.8" fill="#d0d0d0" opacity="0.6"/><rect x="209.6" y="233.1" width="1.1" height="1.1" fill="#b8b8b8" opacity="0.6"/><rect x="235.4" y="240.6" width="0.8" height="0.8" fill="#b8b8b8" opacity="0.6"/><rect x="210.8" y="225.6" width="1.4" height="1.4" fill="#b8b8b8" opacity="0.6"/><rect x="211.2" y="247.5" width="0.8" height="0.8" fill="#d0d0d0" opacity="0.6"/><rect x="205.6" y="232.3" width="1.4" height="1.4" fill="#d0d0d0" opacity="0.6"/><rect x="154.4" y="259.0" width="0.8" height="0.8" fill="#bcbcbc" opacity="0.9"/><rect x="234.3" y="251.4" width="0.8" height="0.8" fill="#d0d0d0" opacity="0.6"/><rect x="160.0" y="256.7" width="0.8" height="0.8" fill="#ffffff" opacity="0.9"/><rect x="219.7" y="223.9" width="1.1" height="1.1" fill="#b8b8b8" opacity="0.6"/><rect x="219.4" y="227.2" width="1.4" height="1.4" fill="#b8b8b8" opacity="0.6"/><rect x="196.8" y="246.8" width="1.1" height="1.1" fill="#ffffff" opacity="0.9"/><rect x="237.7" y="249.4" width="0.8" height="0.8" fill="#b8b8b8" opacity="0.6"/><rect x="158.4" y="261.2" width="1.4" height="1.4" fill="#bcbcbc" opacity="0.9"/><rect x="220.2" y="246.5" width="1.1" height="1.1" fill="#b8b8b8" opacity="0.6"/><rect x="182.6" y="244.7" width="1.1" height="1.1" fill="#bcbcbc" opacity="0.9"/><rect x="194.5" y="236.3" width="1.4" height="1.4" fill="#d0d0d0" opacity="0.6"/><rect x="224.9" y="255.5" width="0.8" height="0.8" fill="#d0d0d0" opacity="0.6"/><rect x="219.3" y="237.0" width="1.1" height="1.1" fill="#d0d0d0" opacity="0.6"/><rect x="228.4" y="242.0" width="1.1" height="1.1" fill="#b8b8b8" opacity="0.6"/><rect x="217.8" y="250.6" width="0.8" height="0.8" fill="#b8b8b8" opacity="0.6"/><rect x="217.1" y="230.6" width="1.4" height="1.4" fill="#d0d0d0" opacity="0.6"/><rect x="211.7" y="225.7" width="0.8" height="0.8" fill="#b8b8b8" opacity="0.6"/><rect x="198.9" y="249.8" width="0.8" height="0.8" fill="#ffffff" opacity="0.9"/><rect x="221.8" y="237.4" width="0.8" height="0.8" fill="#b8b8b8" opacity="0.6"/><rect x="198.1" y="261.3" width="1.1" height="1.1" fill="#ffffff" opacity="0.9"/><rect x="181.2" y="244.1" width="0.8" height="0.8" fill="#ffffff" opacity="0.9"/><rect x="179.7" y="245.6" width="1.4" height="1.4" fill="#ffffff" opacity="0.9"/><rect x="232.6" y="223.9" width="1.4" height="1.4" fill="#b8b8b8" opacity="0.6"/><rect x="236.1" y="245.2" width="0.8" height="0.8" fill="#b8b8b8" opacity="0.6"/><rect x="212.1" y="248.4" width="1.4" height="1.4" fill="#b8b8b8" opacity="0.6"/><rect x="191.3" y="247.2" width="1.4" height="1.4" fill="#ffffff" opacity="0.9"/><rect x="217.9" y="224.7" width="1.4" height="1.4" fill="#b8b8b8" opacity="0.6"/><rect x="229.0" y="241.5" width="0.8" height="0.8" fill="#b8b8b8" opacity="0.6"/><rect x="204.0" y="259.5" width="1.1" height="1.1" fill="#b8b8b8" opacity="0.6"/><rect x="227.4" y="221.8" width="1.4" height="1.4" fill="#d0d0d0" opacity="0.6"/><rect x="214.4" y="254.3" width="0.8" height="0.8" fill="#d0d0d0" opacity="0.6"/><rect x="185.4" y="247.1" width="1.1" height="1.1" fill="#bcbcbc" opacity="0.9"/><rect x="199.7" y="239.1" width="0.8" height="0.8" fill="#d0d0d0" opacity="0.6"/><rect x="235.0" y="238.4" width="0.8" height="0.8" fill="#d0d0d0" opacity="0.6"/><rect x="211.9" y="258.6" width="1.1" height="1.1" fill="#b8b8b8" opacity="0.6"/><rect x="201.2" y="246.6" width="0.8" height="0.8" fill="#d0d0d0" opacity="0.6"/><rect x="186.3" y="242.7" width="1.4" height="1.4" fill="#ffffff" opacity="0.9"/><rect x="218.0" y="251.7" width="1.1" height="1.1" fill="#d0d0d0" opacity="0.6"/><rect x="231.9" y="225.8" width="1.4" height="1.4" fill="#b8b8b8" opacity="0.6"/><rect x="195.4" y="260.4" width="0.8" height="0.8" fill="#bcbcbc" opacity="0.9"/><rect x="205.8" y="260.5" width="0.8" height="0.8" fill="#b8b8b8" opacity="0.6"/><rect x="233.0" y="240.6" width="0.8" height="0.8" fill="#b8b8b8" opacity="0.6"/><rect x="214.5" y="226.6" width="1.4" height="1.4" fill="#b8b8b8" opacity="0.6"/><rect x="193.7" y="247.5" width="1.4" height="1.4" fill="#ffffff" opacity="0.9"/><rect x="234.8" y="237.8" width="0.8" height="0.8" fill="#d0d0d0" opacity="0.6"/><rect x="181.0" y="243.2" width="1.4" height="1.4" fill="#ffffff" opacity="0.9"/><rect x="166.6" y="258.9" width="1.1" height="1.1" fill="#ffffff" opacity="0.9"/><rect x="217.8" y="260.3" width="0.8" height="0.8" fill="#d0d0d0" opacity="0.6"/><rect x="210.3" y="236.1" width="1.1" height="1.1" fill="#d0d0d0" opacity="0.6"/><rect x="181.2" y="247.6" width="0.8" height="0.8" fill="#bcbcbc" opacity="0.9"/><rect x="197.0" y="245.8" width="1.4" height="1.4" fill="#ffffff" opacity="0.9"/><rect x="201.0" y="254.2" width="0.8" height="0.8" fill="#d0d0d0" opacity="0.6"/><rect x="204.4" y="248.1" width="0.8" height="0.8" fill="#b8b8b8" opacity="0.6"/><rect x="233.9" y="239.9" width="0.8" height="0.8" fill="#b8b8b8" opacity="0.6"/><rect x="181.9" y="245.7" width="0.8" height="0.8" fill="#bcbcbc" opacity="0.9"/><rect x="226.0" y="222.3" width="0.8" height="0.8" fill="#b8b8b8" opacity="0.6"/><rect x="229.2" y="218.7" width="1.1" height="1.1" fill="#b8b8b8" opacity="0.6"/><rect x="220.3" y="243.9" width="1.1" height="1.1" fill="#d0d0d0" opacity="0.6"/><rect x="193.4" y="258.6" width="1.1" height="1.1" fill="#ffffff" opacity="0.9"/><rect x="192.3" y="260.0" width="1.4" height="1.4" fill="#ffffff" opacity="0.9"/><rect x="234.1" y="241.3" width="0.8" height="0.8" fill="#d0d0d0" opacity="0.6"/><rect x="208.1" y="256.4" width="1.1" height="1.1" fill="#b8b8b8" opacity="0.6"/><rect x="194.8" y="240.5" width="1.1" height="1.1" fill="#ffffff" opacity="0.9"/><rect x="195.2" y="237.3" width="0.8" height="0.8" fill="#d0d0d0" opacity="0.6"/><rect x="211.6" y="239.6" width="1.4" height="1.4" fill="#b8b8b8" opacity="0.6"/><rect x="211.6" y="231.7" width="0.8" height="0.8" fill="#d0d0d0" opacity="0.6"/><rect x="189.5" y="253.4" width="1.1" height="1.1" fill="#bcbcbc" opacity="0.9"/><rect x="238.0" y="256.7" width="1.1" height="1.1" fill="#d0d0d0" opacity="0.6"/><rect x="182.5" y="245.4" width="1.1" height="1.1" fill="#ffffff" opacity="0.9"/><rect x="221.0" y="244.2" width="1.4" height="1.4" fill="#d0d0d0" opacity="0.6"/><rect x="183.3" y="261.3" width="1.4" height="1.4" fill="#ffffff" opacity="0.9"/><rect x="204.4" y="260.1" width="1.1" height="1.1" fill="#d0d0d0" opacity="0.6"/><rect x="218.7" y="256.2" width="0.8" height="0.8" fill="#b8b8b8" opacity="0.6"/><rect x="193.0" y="257.2" width="1.4" height="1.4" fill="#ffffff" opacity="0.9"/><rect x="174.6" y="252.7" width="1.1" height="1.1" fill="#bcbcbc" opacity="0.9"/><rect x="187.4" y="258.5" width="1.4" height="1.4" fill="#bcbcbc" opacity="0.9"/><rect x="228.6" y="236.0" width="0.8" height="0.8" fill="#d0d0d0" opacity="0.6"/><rect x="223.2" y="240.4" width="1.4" height="1.4" fill="#b8b8b8" opacity="0.6"/><rect x="214.5" y="249.1" width="1.1" height="1.1" fill="#b8b8b8" opacity="0.6"/><rect x="232.3" y="239.2" width="0.8" height="0.8" fill="#d0d0d0" opacity="0.6"/><rect x="229.7" y="255.6" width="1.4" height="1.4" fill="#d0d0d0" opacity="0.6"/><rect x="184.9" y="244.3" width="1.1" height="1.1" fill="#ffffff" opacity="0.9"/><rect x="223.1" y="238.1" width="0.8" height="0.8" fill="#d0d0d0" opacity="0.6"/><rect x="227.1" y="217.5" width="0.8" height="0.8" fill="#d0d0d0" opacity="0.6"/><rect x="220.2" y="228.6" width="1.1" height="1.1" fill="#b8b8b8" opacity="0.6"/><rect x="231.4" y="235.5" width="0.8" height="0.8" fill="#d0d0d0" opacity="0.6"/><rect x="176.8" y="249.9" width="1.1" height="1.1" fill="#ffffff" opacity="0.9"/><rect x="213.7" y="242.4" width="0.8" height="0.8" fill="#d0d0d0" opacity="0.6"/><rect x="174.7" y="252.5" width="0.8" height="0.8" fill="#ffffff" opacity="0.9"/><rect x="190.9" y="241.9" width="0.8" height="0.8" fill="#ffffff" opacity="0.9"/><rect x="231.6" y="227.4" width="1.1" height="1.1" fill="#d0d0d0" opacity="0.6"/><rect x="217.4" y="239.8" width="1.4" height="1.4" fill="#d0d0d0" opacity="0.6"/><rect x="209.5" y="249.9" width="0.8" height="0.8" fill="#b8b8b8" opacity="0.6"/><rect x="168.2" y="260.0" width="1.1" height="1.1" fill="#bcbcbc" opacity="0.9"/><rect x="229.7" y="256.6" width="0.8" height="0.8" fill="#d0d0d0" opacity="0.6"/><rect x="181.3" y="250.8" width="0.8" height="0.8" fill="#ffffff" opacity="0.9"/><rect x="213.7" y="234.4" width="0.8" height="0.8" fill="#b8b8b8" opacity="0.6"/><rect x="160.4" y="257.2" width="1.4" height="1.4" fill="#ffffff" opacity="0.9"/><rect x="230.7" y="238.1" width="1.1" height="1.1" fill="#b8b8b8" opacity="0.6"/><rect x="169.3" y="257.3" width="1.1" height="1.1" fill="#ffffff" opacity="0.9"/><rect x="201.0" y="249.1" width="1.4" height="1.4" fill="#b8b8b8" opacity="0.6"/><rect x="229.5" y="224.4" width="1.4" height="1.4" fill="#d0d0d0" opacity="0.6"/><rect x="207.2" y="229.0" width="1.1" height="1.1" fill="#d0d0d0" opacity="0.6"/><rect x="205.7" y="241.6" width="1.1" height="1.1" fill="#d0d0d0" opacity="0.6"/><rect x="188.2" y="254.5" width="0.8" height="0.8" fill="#ffffff" opacity="0.9"/><rect x="161.8" y="260.3" width="1.1" height="1.1" fill="#bcbcbc" opacity="0.9"/><rect x="233.8" y="231.9" width="0.8" height="0.8" fill="#d0d0d0" opacity="0.6"/><rect x="222.4" y="250.9" width="1.4" height="1.4" fill="#b8b8b8" opacity="0.6"/><rect x="215.9" y="231.0" width="0.8" height="0.8" fill="#b8b8b8" opacity="0.6"/><rect x="193.4" y="248.7" width="1.1" height="1.1" fill="#ffffff" opacity="0.9"/><rect x="166.9" y="260.2" width="1.1" height="1.1" fill="#bcbcbc" opacity="0.9"/><rect x="179.2" y="251.4" width="1.4" height="1.4" fill="#bcbcbc" opacity="0.9"/><rect x="174.2" y="253.1" width="0.8" height="0.8" fill="#ffffff" opacity="0.9"/><rect x="208.1" y="231.5" width="1.1" height="1.1" fill="#b8b8b8" opacity="0.6"/><rect x="193.7" y="242.9" width="1.4" height="1.4" fill="#ffffff" opacity="0.9"/><rect x="229.6" y="234.5" width="1.4" height="1.4" fill="#d0d0d0" opacity="0.6"/><rect x="204.0" y="244.9" width="1.1" height="1.1" fill="#d0d0d0" opacity="0.6"/><rect x="213.9" y="239.5" width="1.1" height="1.1" fill="#b8b8b8" opacity="0.6"/><rect x="164.6" y="258.4" width="0.8" height="0.8" fill="#ffffff" opacity="0.9"/><rect x="203.5" y="243.9" width="0.8" height="0.8" fill="#b8b8b8" opacity="0.6"/><rect x="181.4" y="243.3" width="1.1" height="1.1" fill="#bcbcbc" opacity="0.9"/><rect x="213.1" y="251.6" width="0.8" height="0.8" fill="#d0d0d0" opacity="0.6"/><rect x="230.1" y="254.5" width="0.8" height="0.8" fill="#b8b8b8" opacity="0.6"/><rect x="200.2" y="242.7" width="1.4" height="1.4" fill="#d0d0d0" opacity="0.6"/><rect x="205.7" y="238.1" width="0.8" height="0.8" fill="#b8b8b8" opacity="0.6"/><rect x="235.4" y="229.1" width="0.8" height="0.8" fill="#d0d0d0" opacity="0.6"/><rect x="224.5" y="255.7" width="0.8" height="0.8" fill="#b8b8b8" opacity="0.6"/><rect x="226.6" y="225.4" width="1.4" height="1.4" fill="#d0d0d0" opacity="0.6"/><rect x="224.9" y="221.2" width="1.1" height="1.1" fill="#d0d0d0" opacity="0.6"/><rect x="218.5" y="237.2" width="1.4" height="1.4" fill="#d0d0d0" opacity="0.6"/><rect x="235.5" y="261.1" width="1.4" height="1.4" fill="#b8b8b8" opacity="0.6"/><rect x="206.0" y="229.5" width="1.4" height="1.4" fill="#d0d0d0" opacity="0.6"/><rect x="233.5" y="248.8" width="1.4" height="1.4" fill="#b8b8b8" opacity="0.6"/><rect x="204.3" y="247.8" width="1.1" height="1.1" fill="#d0d0d0" opacity="0.6"/><rect x="202.9" y="251.1" width="1.4" height="1.4" fill="#b8b8b8" opacity="0.6"/><rect x="205.4" y="251.6" width="1.4" height="1.4" fill="#b8b8b8" opacity="0.6"/><rect x="212.6" y="246.1" width="0.8" height="0.8" fill="#b8b8b8" opacity="0.6"/><rect x="229.8" y="242.4" width="1.1" height="1.1" fill="#b8b8b8" opacity="0.6"/><rect x="172.9" y="248.5" width="1.1" height="1.1" fill="#bcbcbc" opacity="0.9"/><rect x="220.6" y="252.1" width="1.1" height="1.1" fill="#d0d0d0" opacity="0.6"/><rect x="202.5" y="233.3" width="0.8" height="0.8" fill="#d0d0d0" opacity="0.6"/><rect x="190.6" y="239.9" width="1.1" height="1.1" fill="#bcbcbc" opacity="0.9"/><rect x="227.2" y="238.5" width="1.1" height="1.1" fill="#b8b8b8" opacity="0.6"/><rect x="211.2" y="237.7" width="1.1" height="1.1" fill="#d0d0d0" opacity="0.6"/><rect x="166.1" y="254.8" width="1.1" height="1.1" fill="#bcbcbc" opacity="0.9"/><rect x="222.3" y="240.5" width="0.8" height="0.8" fill="#d0d0d0" opacity="0.6"/><rect x="210.7" y="239.3" width="1.4" height="1.4" fill="#d0d0d0" opacity="0.6"/><rect x="187.9" y="252.4" width="1.1" height="1.1" fill="#ffffff" opacity="0.9"/><rect x="212.3" y="224.6" width="1.1" height="1.1" fill="#b8b8b8" opacity="0.6"/><rect x="228.9" y="257.4" width="1.1" height="1.1" fill="#d0d0d0" opacity="0.6"/><rect x="232.2" y="222.6" width="1.4" height="1.4" fill="#d0d0d0" opacity="0.6"/><rect x="223.1" y="249.7" width="1.1" height="1.1" fill="#b8b8b8" opacity="0.6"/><rect x="231.4" y="219.7" width="1.1" height="1.1" fill="#b8b8b8" opacity="0.6"/><rect x="209.9" y="233.3" width="0.8" height="0.8" fill="#b8b8b8" opacity="0.6"/><rect x="188.7" y="257.4" width="1.4" height="1.4" fill="#bcbcbc" opacity="0.9"/><rect x="177.5" y="252.3" width="1.4" height="1.4" fill="#bcbcbc" opacity="0.9"/><rect x="167.1" y="257.2" width="0.8" height="0.8" fill="#ffffff" opacity="0.9"/><rect x="225.9" y="261.1" width="1.1" height="1.1" fill="#d0d0d0" opacity="0.6"/><rect x="177.7" y="261.1" width="0.8" height="0.8" fill="#ffffff" opacity="0.9"/><rect x="211.5" y="242.5" width="1.1" height="1.1" fill="#b8b8b8" opacity="0.6"/><rect x="233.5" y="237.8" width="0.8" height="0.8" fill="#b8b8b8" opacity="0.6"/><rect x="208.1" y="257.5" width="0.8" height="0.8" fill="#b8b8b8" opacity="0.6"/><rect x="215.0" y="260.3" width="0.8" height="0.8" fill="#d0d0d0" opacity="0.6"/><rect x="209.7" y="233.1" width="1.4" height="1.4" fill="#d0d0d0" opacity="0.6"/><rect x="227.1" y="233.4" width="1.4" height="1.4" fill="#b8b8b8" opacity="0.6"/><rect x="197.7" y="241.9" width="1.1" height="1.1" fill="#d0d0d0" opacity="0.6"/><rect x="164.4" y="255.8" width="1.4" height="1.4" fill="#ffffff" opacity="0.9"/><rect x="187.1" y="248.2" width="0.8" height="0.8" fill="#ffffff" opacity="0.9"/><rect x="232.4" y="234.9" width="0.8" height="0.8" fill="#d0d0d0" opacity="0.6"/><rect x="221.2" y="251.7" width="0.8" height="0.8" fill="#d0d0d0" opacity="0.6"/><rect x="219.6" y="254.8" width="0.8" height="0.8" fill="#b8b8b8" opacity="0.6"/><rect x="231.6" y="248.0" width="1.4" height="1.4" fill="#d0d0d0" opacity="0.6"/><rect x="225.0" y="218.2" width="0.8" height="0.8" fill="#d0d0d0" opacity="0.6"/><rect x="202.6" y="239.9" width="0.8" height="0.8" fill="#d0d0d0" opacity="0.6"/><rect x="203.3" y="239.9" width="0.8" height="0.8" fill="#b8b8b8" opacity="0.6"/><rect x="194.2" y="257.1" width="1.1" height="1.1" fill="#ffffff" opacity="0.9"/><rect x="155.7" y="257.7" width="1.1" height="1.1" fill="#bcbcbc" opacity="0.9"/><rect x="178.8" y="252.6" width="1.1" height="1.1" fill="#ffffff" opacity="0.9"/><rect x="214.4" y="225.0" width="1.1" height="1.1" fill="#b8b8b8" opacity="0.6"/><rect x="203.2" y="254.2" width="0.8" height="0.8" fill="#d0d0d0" opacity="0.6"/><rect x="201.7" y="248.9" width="1.1" height="1.1" fill="#b8b8b8" opacity="0.6"/><rect x="202.7" y="256.9" width="1.4" height="1.4" fill="#d0d0d0" opacity="0.6"/><rect x="188.1" y="249.7" width="0.8" height="0.8" fill="#bcbcbc" opacity="0.9"/><rect x="206.7" y="235.5" width="0.8" height="0.8" fill="#d0d0d0" opacity="0.6"/><rect x="199.9" y="240.8" width="1.1" height="1.1" fill="#b8b8b8" opacity="0.6"/><rect x="218.6" y="250.3" width="1.1" height="1.1" fill="#b8b8b8" opacity="0.6"/><rect x="191.6" y="250.9" width="0.8" height="0.8" fill="#bcbcbc" opacity="0.9"/><rect x="237.1" y="232.7" width="1.1" height="1.1" fill="#b8b8b8" opacity="0.6"/><rect x="204.5" y="254.0" width="1.4" height="1.4" fill="#b8b8b8" opacity="0.6"/><rect x="178.9" y="248.6" width="1.4" height="1.4" fill="#ffffff" opacity="0.9"/><rect x="216.4" y="251.6" width="1.1" height="1.1" fill="#d0d0d0" opacity="0.6"/><rect x="227.2" y="255.3" width="0.8" height="0.8" fill="#d0d0d0" opacity="0.6"/><rect x="175.6" y="258.8" width="0.8" height="0.8" fill="#ffffff" opacity="0.9"/><rect x="224.2" y="257.0" width="1.4" height="1.4" fill="#b8b8b8" opacity="0.6"/><rect x="225.6" y="228.9" width="0.8" height="0.8" fill="#d0d0d0" opacity="0.6"/><rect x="200.1" y="255.1" width="0.8" height="0.8" fill="#bcbcbc" opacity="0.9"/><rect x="206.3" y="250.4" width="1.1" height="1.1" fill="#b8b8b8" opacity="0.6"/><rect x="227.3" y="223.1" width="0.8" height="0.8" fill="#b8b8b8" opacity="0.6"/><rect x="186.9" y="253.8" width="1.4" height="1.4" fill="#bcbcbc" opacity="0.9"/><rect x="236.8" y="260.1" width="1.4" height="1.4" fill="#b8b8b8" opacity="0.6"/><rect x="190.4" y="241.4" width="1.1" height="1.1" fill="#bcbcbc" opacity="0.9"/><rect x="177.2" y="256.9" width="1.1" height="1.1" fill="#bcbcbc" opacity="0.9"/><rect x="222.8" y="232.2" width="0.8" height="0.8" fill="#d0d0d0" opacity="0.6"/><rect x="219.3" y="245.0" width="1.1" height="1.1" fill="#d0d0d0" opacity="0.6"/><rect x="225.2" y="238.4" width="1.4" height="1.4" fill="#b8b8b8" opacity="0.6"/><rect x="184.2" y="244.5" width="1.4" height="1.4" fill="#ffffff" opacity="0.9"/><rect x="208.0" y="229.9" width="1.4" height="1.4" fill="#b8b8b8" opacity="0.6"/><rect x="203.5" y="261.3" width="1.4" height="1.4" fill="#d0d0d0" opacity="0.6"/><rect x="165.8" y="252.9" width="1.4" height="1.4" fill="#bcbcbc" opacity="0.9"/><rect x="234.7" y="229.2" width="0.8" height="0.8" fill="#b8b8b8" opacity="0.6"/><rect x="186.4" y="241.6" width="1.4" height="1.4" fill="#bcbcbc" opacity="0.9"/><rect x="204.2" y="238.4" width="1.4" height="1.4" fill="#b8b8b8" opacity="0.6"/><rect x="190.6" y="249.3" width="1.1" height="1.1" fill="#bcbcbc" opacity="0.9"/><rect x="202.1" y="232.9" width="1.4" height="1.4" fill="#b8b8b8" opacity="0.6"/><rect x="218.5" y="228.4" width="1.4" height="1.4" fill="#d0d0d0" opacity="0.6"/><rect x="168.7" y="253.5" width="1.1" height="1.1" fill="#bcbcbc" opacity="0.9"/><rect x="227.2" y="227.3" width="1.1" height="1.1" fill="#b8b8b8" opacity="0.6"/><rect x="166.6" y="254.3" width="1.4" height="1.4" fill="#ffffff" opacity="0.9"/><rect x="208.7" y="227.8" width="1.4" height="1.4" fill="#d0d0d0" opacity="0.6"/><rect x="190.1" y="238.3" width="0.8" height="0.8" fill="#ffffff" opacity="0.9"/><rect x="207.9" y="255.0" width="1.1" height="1.1" fill="#d0d0d0" opacity="0.6"/><rect x="223.2" y="241.8" width="1.1" height="1.1" fill="#d0d0d0" opacity="0.6"/><rect x="192.6" y="249.1" width="1.1" height="1.1" fill="#ffffff" opacity="0.9"/><rect x="218.2" y="234.6" width="0.8" height="0.8" fill="#b8b8b8" opacity="0.6"/><rect x="182.0" y="251.1" width="1.1" height="1.1" fill="#bcbcbc" opacity="0.9"/><rect x="179.7" y="254.2" width="0.8" height="0.8" fill="#bcbcbc" opacity="0.9"/><rect x="180.4" y="243.3" width="1.1" height="1.1" fill="#bcbcbc" opacity="0.9"/><rect x="179.6" y="256.5" width="1.1" height="1.1" fill="#ffffff" opacity="0.9"/><rect x="165.7" y="252.5" width="1.1" height="1.1" fill="#ffffff" opacity="0.9"/><rect x="224.4" y="243.1" width="0.8" height="0.8" fill="#d0d0d0" opacity="0.6"/><rect x="207.9" y="243.0" width="1.1" height="1.1" fill="#d0d0d0" opacity="0.6"/><rect x="173.4" y="261.2" width="1.1" height="1.1" fill="#ffffff" opacity="0.9"/><rect x="217.2" y="222.5" width="1.4" height="1.4" fill="#d0d0d0" opacity="0.6"/><rect x="214.1" y="225.3" width="1.1" height="1.1" fill="#d0d0d0" opacity="0.6"/><rect x="217.2" y="261.0" width="0.8" height="0.8" fill="#b8b8b8" opacity="0.6"/><rect x="213.6" y="226.5" width="1.4" height="1.4" fill="#b8b8b8" opacity="0.6"/><rect x="223.7" y="258.2" width="1.4" height="1.4" fill="#d0d0d0" opacity="0.6"/><rect x="222.7" y="226.4" width="1.1" height="1.1" fill="#d0d0d0" opacity="0.6"/><rect x="236.5" y="236.4" width="1.4" height="1.4" fill="#d0d0d0" opacity="0.6"/><rect x="223.4" y="226.5" width="1.4" height="1.4" fill="#b8b8b8" opacity="0.6"/><rect x="202.6" y="242.2" width="1.1" height="1.1" fill="#d0d0d0" opacity="0.6"/><rect x="202.7" y="245.2" width="1.1" height="1.1" fill="#b8b8b8" opacity="0.6"/><rect x="195.4" y="259.9" width="0.8" height="0.8" fill="#bcbcbc" opacity="0.9"/><rect x="215.6" y="230.5" width="1.4" height="1.4" fill="#d0d0d0" opacity="0.6"/><rect x="169.2" y="258.9" width="1.1" height="1.1" fill="#ffffff" opacity="0.9"/><rect x="185.0" y="255.5" width="1.4" height="1.4" fill="#bcbcbc" opacity="0.9"/><rect x="183.3" y="257.1" width="0.8" height="0.8" fill="#ffffff" opacity="0.9"/><rect x="240.2" y="257.0" width="0.8" height="0.8" fill="#b8b8b8" opacity="0.6"/><rect x="212.6" y="253.9" width="1.1" height="1.1" fill="#d0d0d0" opacity="0.6"/><rect x="225.5" y="224.3" width="1.4" height="1.4" fill="#d0d0d0" opacity="0.6"/><rect x="195.1" y="244.4" width="1.4" height="1.4" fill="#bcbcbc" opacity="0.9"/><rect x="236.4" y="258.4" width="0.8" height="0.8" fill="#b8b8b8" opacity="0.6"/><rect x="223.9" y="222.6" width="0.8" height="0.8" fill="#d0d0d0" opacity="0.6"/><rect x="153.9" y="258.8" width="1.4" height="1.4" fill="#ffffff" opacity="0.9"/><rect x="189.6" y="259.5" width="1.1" height="1.1" fill="#ffffff" opacity="0.9"/><rect x="207.1" y="244.4" width="1.4" height="1.4" fill="#b8b8b8" opacity="0.6"/><rect x="229.1" y="216.9" width="1.4" height="1.4" fill="#d0d0d0" opacity="0.6"/><rect x="226.4" y="230.3" width="1.1" height="1.1" fill="#b8b8b8" opacity="0.6"/><rect x="197.0" y="246.3" width="1.1" height="1.1" fill="#ffffff" opacity="0.9"/><rect x="222.5" y="249.6" width="1.1" height="1.1" fill="#b8b8b8" opacity="0.6"/><rect x="215.5" y="229.4" width="0.8" height="0.8" fill="#b8b8b8" opacity="0.6"/><rect x="210.7" y="258.5" width="1.4" height="1.4" fill="#b8b8b8" opacity="0.6"/><rect x="209.6" y="228.4" width="1.1" height="1.1" fill="#b8b8b8" opacity="0.6"/><rect x="217.0" y="246.9" width="0.8" height="0.8" fill="#d0d0d0" opacity="0.6"/><rect x="239.7" y="251.6" width="1.4" height="1.4" fill="#d0d0d0" opacity="0.6"/><rect x="234.3" y="249.8" width="0.8" height="0.8" fill="#d0d0d0" opacity="0.6"/><path d="M173.1,247.0 L193.1,235.5 C198.9,241.3 202.9,251.3 203.1,261.3 L177.2,261.3 C175.4,255.3 174.4,251.3 173.1,247.0 Z" fill="#f2141e"/><rect x="187.1" y="247.2" width="0.9" height="0.9" fill="#fff" opacity="0.9"/><rect x="188.5" y="248.1" width="0.9" height="1.3" fill="#fff" opacity="0.9"/><rect x="194.6" y="250.2" width="1.2" height="1.7" fill="#fff" opacity="0.9"/><rect x="176.8" y="242.4" width="1.5" height="2.1" fill="#fff" opacity="0.9"/><rect x="173.7" y="254.7" width="1.5" height="2.1" fill="#fff" opacity="0.9"/><rect x="184.1" y="252.8" width="0.9" height="1.3" fill="#fff" opacity="0.9"/><rect x="180.7" y="252.1" width="0.9" height="1.3" fill="#fff" opacity="0.9"/><rect x="186.6" y="240.7" width="0.9" height="0.9" fill="#fff" opacity="0.9"/><rect x="179.0" y="246.9" width="1.9" height="1.1" fill="#fff" opacity="0.9"/><rect x="191.0" y="254.8" width="1.5" height="1.5" fill="#fff" opacity="0.9"/><rect x="173.8" y="252.4" width="1.9" height="1.1" fill="#fff" opacity="0.9"/><rect x="187.7" y="257.2" width="1.9" height="1.1" fill="#fff" opacity="0.9"/><rect x="183.3" y="255.7" width="0.9" height="0.5" fill="#fff" opacity="0.9"/><rect x="178.5" y="251.9" width="1.9" height="1.9" fill="#fff" opacity="0.9"/><rect x="175.3" y="235.5" width="1.2" height="1.7" fill="#fff" opacity="0.9"/><rect x="174.4" y="246.7" width="1.2" height="1.2" fill="#fff" opacity="0.9"/><rect x="181.8" y="240.6" width="1.2" height="1.7" fill="#fff" opacity="0.9"/><rect x="175.6" y="236.3" width="1.5" height="2.1" fill="#fff" opacity="0.9"/><rect x="199.0" y="254.9" width="1.9" height="1.9" fill="#fff" opacity="0.9"/><rect x="175.2" y="252.5" width="1.9" height="2.7" fill="#fff" opacity="0.9"/><rect x="175.4" y="253.5" width="1.5" height="0.9" fill="#fff" opacity="0.9"/><rect x="178.8" y="246.2" width="1.5" height="2.1" fill="#fff" opacity="0.9"/><rect x="181.4" y="243.0" width="1.9" height="1.9" fill="#fff" opacity="0.9"/><rect x="179.4" y="245.6" width="0.9" height="0.5" fill="#fff" opacity="0.9"/><rect x="174.9" y="259.4" width="1.5" height="2.1" fill="#fff" opacity="0.9"/><rect x="177.5" y="256.4" width="0.9" height="1.3" fill="#fff" opacity="0.9"/><rect x="183.1" y="260.6" width="0.9" height="1.3" fill="#fff" opacity="0.9"/><rect x="188.0" y="245.4" width="1.2" height="0.7" fill="#fff" opacity="0.9"/><rect x="191.8" y="241.1" width="1.9" height="1.9" fill="#fff" opacity="0.9"/><rect x="182.9" y="244.3" width="1.9" height="2.7" fill="#fff" opacity="0.9"/><rect x="174.0" y="255.8" width="0.9" height="0.9" fill="#fff" opacity="0.9"/><rect x="191.1" y="246.9" width="1.5" height="0.9" fill="#fff" opacity="0.9"/><rect x="195.6" y="254.6" width="0.9" height="1.3" fill="#fff" opacity="0.9"/><rect x="182.7" y="241.2" width="1.9" height="2.7" fill="#fff" opacity="0.9"/><rect x="181.7" y="247.7" width="1.2" height="1.2" fill="#fff" opacity="0.9"/><rect x="173.7" y="248.9" width="1.5" height="0.9" fill="#fff" opacity="0.9"/><rect x="176.1" y="260.6" width="0.9" height="1.3" fill="#fff" opacity="0.9"/><rect x="178.7" y="242.1" width="1.2" height="1.7" fill="#fff" opacity="0.9"/><rect x="174.3" y="241.1" width="1.9" height="1.1" fill="#fff" opacity="0.9"/><rect x="192.5" y="252.4" width="1.9" height="1.1" fill="#fff" opacity="0.9"/><rect x="190.3" y="250.6" width="1.2" height="0.7" fill="#fff" opacity="0.9"/><rect x="181.0" y="254.5" width="1.2" height="1.2" fill="#fff" opacity="0.9"/><rect x="179.5" y="241.6" width="1.5" height="1.5" fill="#fff" opacity="0.9"/><rect x="179.9" y="246.5" width="1.5" height="0.9" fill="#fff" opacity="0.9"/><rect x="199.3" y="256.6" width="1.5" height="2.1" fill="#fff" opacity="0.9"/><rect x="174.1" y="258.4" width="0.9" height="0.5" fill="#fff" opacity="0.9"/><rect x="176.3" y="256.9" width="0.9" height="0.9" fill="#fff" opacity="0.9"/><rect x="183.6" y="237.4" width="1.5" height="0.9" fill="#fff" opacity="0.9"/><rect x="191.0" y="256.1" width="0.9" height="0.5" fill="#fff" opacity="0.9"/><rect x="177.4" y="245.8" width="0.9" height="1.3" fill="#fff" opacity="0.9"/><rect x="174.0" y="235.5" width="0.9" height="0.5" fill="#fff" opacity="0.9"/><rect x="173.5" y="255.5" width="0.9" height="1.3" fill="#fff" opacity="0.9"/><rect x="184.0" y="248.4" width="1.5" height="0.9" fill="#fff" opacity="0.9"/><rect x="181.5" y="236.2" width="0.9" height="0.9" fill="#fff" opacity="0.9"/><rect x="183.2" y="260.2" width="1.5" height="2.1" fill="#fff" opacity="0.9"/><rect x="183.3" y="250.6" width="1.5" height="1.5" fill="#fff" opacity="0.9"/><rect x="186.1" y="247.3" width="1.2" height="1.2" fill="#fff" opacity="0.9"/><rect x="196.2" y="238.4" width="0.9" height="0.5" fill="#fff" opacity="0.9"/><rect x="179.4" y="258.3" width="0.9" height="1.3" fill="#fff" opacity="0.9"/><rect x="174.9" y="243.3" width="1.9" height="2.7" fill="#fff" opacity="0.9"/><rect x="187.6" y="244.5" width="1.5" height="2.1" fill="#fff" opacity="0.9"/><rect x="189.8" y="251.4" width="1.9" height="1.9" fill="#fff" opacity="0.9"/><rect x="191.8" y="254.4" width="1.9" height="2.7" fill="#fff" opacity="0.9"/><rect x="183.8" y="246.0" width="1.2" height="0.7" fill="#fff" opacity="0.9"/><rect x="178.6" y="239.9" width="0.9" height="0.9" fill="#fff" opacity="0.9"/><rect x="184.8" y="239.7" width="0.9" height="0.9" fill="#fff" opacity="0.9"/><rect x="178.0" y="254.8" width="1.5" height="2.1" fill="#fff" opacity="0.9"/><rect x="176.0" y="251.0" width="0.9" height="0.9" fill="#fff" opacity="0.9"/><rect x="188.1" y="244.1" width="1.5" height="1.5" fill="#fff" opacity="0.9"/><rect x="181.2" y="245.9" width="1.5" height="1.5" fill="#fff" opacity="0.9"/><rect x="181.1" y="254.4" width="1.9" height="1.1" fill="#fff" opacity="0.9"/><rect x="179.5" y="250.3" width="1.5" height="0.9" fill="#fff" opacity="0.9"/><rect x="175.3" y="256.0" width="0.9" height="0.9" fill="#fff" opacity="0.9"/><rect x="184.8" y="247.6" width="0.9" height="0.5" fill="#fff" opacity="0.9"/><rect x="188.8" y="239.9" width="1.2" height="1.2" fill="#fff" opacity="0.9"/><rect x="183.3" y="251.2" width="0.9" height="0.5" fill="#fff" opacity="0.9"/><rect x="183.5" y="238.9" width="1.9" height="2.7" fill="#fff" opacity="0.9"/><rect x="180.9" y="251.4" width="1.5" height="1.5" fill="#fff" opacity="0.9"/><rect x="179.5" y="259.9" width="1.5" height="1.5" fill="#fff" opacity="0.9"/><rect x="194.6" y="244.0" width="0.9" height="1.3" fill="#fff" opacity="0.9"/><rect x="175.4" y="236.6" width="0.9" height="0.9" fill="#fff" opacity="0.9"/><rect x="180.0" y="249.9" width="1.2" height="1.7" fill="#fff" opacity="0.9"/><rect x="191.7" y="250.7" width="1.2" height="0.7" fill="#fff" opacity="0.9"/><rect x="175.1" y="250.0" width="0.9" height="0.5" fill="#fff" opacity="0.9"/><rect x="178.8" y="237.3" width="1.2" height="1.2" fill="#fff" opacity="0.9"/><rect x="180.0" y="242.6" width="1.2" height="1.7" fill="#fff" opacity="0.9"/><rect x="198.5" y="257.5" width="1.2" height="1.7" fill="#fff" opacity="0.9"/><rect x="176.4" y="258.8" width="0.9" height="0.9" fill="#fff" opacity="0.9"/><rect x="180.1" y="239.6" width="1.9" height="2.7" fill="#fff" opacity="0.9"/><rect x="186.1" y="238.7" width="1.2" height="0.7" fill="#fff" opacity="0.9"/><rect x="178.2" y="249.7" width="1.5" height="2.1" fill="#fff" opacity="0.9"/><rect x="190.2" y="257.3" width="1.5" height="2.1" fill="#fff" opacity="0.9"/><rect x="198.6" y="257.4" width="1.2" height="1.2" fill="#fff" opacity="0.9"/><rect x="182.1" y="244.3" width="1.2" height="1.2" fill="#fff" opacity="0.9"/><rect x="177.9" y="256.5" width="1.9" height="1.1" fill="#fff" opacity="0.9"/><rect x="174.6" y="252.2" width="1.2" height="1.7" fill="#fff" opacity="0.9"/><rect x="183.8" y="241.8" width="0.9" height="0.5" fill="#fff" opacity="0.9"/><rect x="187.9" y="238.8" width="0.9" height="0.5" fill="#fff" opacity="0.9"/><rect x="177.6" y="254.2" width="1.2" height="1.7" fill="#fff" opacity="0.9"/><rect x="186.9" y="254.9" width="1.2" height="0.7" fill="#fff" opacity="0.9"/><rect x="190.2" y="258.8" width="1.2" height="1.7" fill="#fff" opacity="0.9"/><rect x="190.8" y="250.6" width="1.9" height="2.7" fill="#fff" opacity="0.9"/></g>
<circle cx="181.5" cy="242.5" r="2.0" fill="#000"/>
<circle cx="188.2" cy="238.6" r="2.0" fill="#000"/>
<circle cx="182.6" cy="260.5" r="2.0" fill="#000"/>
<circle cx="201.4" cy="260.5" r="2.0" fill="#000"/>
<text class="s" x="150.3" y="269.9" font-size="8.2" font-weight="bold" letter-spacing="1.6" text-anchor="middle" fill="#707070">0001</text>
<text class="s" x="244.0" y="269.9" font-size="8.2" font-weight="bold" letter-spacing="1.6" text-anchor="middle" fill="#666">2110</text>
<text class="s" x="228.4" y="211.3" font-size="8.2" font-weight="bold" letter-spacing="1.6" text-anchor="middle" fill="#6a6a6a">1010</text>
<text class="r" x="180.0" y="270.7" font-size="8.6" font-weight="bold" text-anchor="middle" fill="#666">2114</text>
<text class="r" x="200.7" y="270.7" font-size="8.6" font-weight="bold" text-anchor="middle" fill="#666">2112</text>
<text class="r" x="171.6" y="240.7" font-size="8.6" font-weight="bold" text-anchor="middle" fill="#666">1012</text>
<text class="r" x="187.4" y="234.1" font-size="8.6" font-weight="bold" text-anchor="middle" fill="#666">2023</text>
<line x1="176.7" y1="263.5" x2="179.3" y2="263.5" stroke="#999" stroke-width="0.6"/>
<line x1="180.7" y1="263.5" x2="183.3" y2="263.5" stroke="#999" stroke-width="0.6"/>
<line x1="197.4" y1="263.5" x2="200.0" y2="263.5" stroke="#999" stroke-width="0.6"/>
<line x1="201.4" y1="263.5" x2="204.0" y2="263.5" stroke="#999" stroke-width="0.6"/>
<line x1="172.3" y1="234.0" x2="174.9" y2="234.0" stroke="#999" stroke-width="0.6"/>
<line x1="188.1" y1="227.4" x2="190.7" y2="227.4" stroke="#999" stroke-width="0.6"/>
<text class="s" transform="translate(153.6,227.1) scale(0.95,1)" font-size="17" fill="#111">ED</text>
<defs><radialGradient id="rg279" gradientUnits="userSpaceOnUse" cx="279.9" cy="227.4" r="93.3"><stop offset="0" stop-color="#fcfcfc"/><stop offset="0.32" stop-color="#eeeeee"/><stop offset="0.52" stop-color="#d8d8d8"/><stop offset="0.66" stop-color="#c6c6c6"/><stop offset="1" stop-color="#c0c0c0"/></radialGradient><clipPath id="cp279"><path d="M279.90,227.40 L373.20,227.40 A93.3,93.3 0 0 0 360.70,180.75 Z"/></clipPath></defs>
<path d="M279.90,227.40 L373.20,227.40 A93.3,93.3 0 0 0 360.70,180.75 Z" fill="url(#rg279)" stroke="#b4b4b4" stroke-width="0.6"/>
<g clip-path="url(#cp279)"><rect x="358.4" y="212.4" width="1.4" height="1.4" fill="#b8b8b8" opacity="0.6"/><rect x="328.5" y="204.5" width="1.1" height="1.1" fill="#d0d0d0" opacity="0.6"/><rect x="327.5" y="224.7" width="0.8" height="0.8" fill="#ffffff" opacity="0.9"/><rect x="343.0" y="209.2" width="0.8" height="0.8" fill="#d0d0d0" opacity="0.6"/><rect x="324.1" y="213.8" width="0.8" height="0.8" fill="#ffffff" opacity="0.9"/><rect x="336.1" y="221.6" width="1.1" height="1.1" fill="#b8b8b8" opacity="0.6"/><rect x="362.3" y="184.9" width="1.4" height="1.4" fill="#b8b8b8" opacity="0.6"/><rect x="338.9" y="197.7" width="0.8" height="0.8" fill="#d0d0d0" opacity="0.6"/><rect x="299.7" y="218.7" width="1.4" height="1.4" fill="#bcbcbc" opacity="0.9"/><rect x="356.8" y="218.1" width="0.8" height="0.8" fill="#d0d0d0" opacity="0.6"/><rect x="327.8" y="226.6" width="1.1" height="1.1" fill="#bcbcbc" opacity="0.9"/><rect x="309.4" y="218.3" width="0.8" height="0.8" fill="#ffffff" opacity="0.9"/><rect x="350.3" y="218.7" width="1.4" height="1.4" fill="#b8b8b8" opacity="0.6"/><rect x="340.7" y="199.6" width="0.8" height="0.8" fill="#d0d0d0" opacity="0.6"/><rect x="334.0" y="224.6" width="0.8" height="0.8" fill="#b8b8b8" opacity="0.6"/><rect x="350.6" y="195.3" width="1.1" height="1.1" fill="#d0d0d0" opacity="0.6"/><rect x="357.3" y="202.6" width="0.8" height="0.8" fill="#d0d0d0" opacity="0.6"/><rect x="368.3" y="208.0" width="1.1" height="1.1" fill="#d0d0d0" opacity="0.6"/><rect x="362.5" y="221.0" width="1.4" height="1.4" fill="#b8b8b8" opacity="0.6"/><rect x="315.6" y="220.9" width="0.8" height="0.8" fill="#ffffff" opacity="0.9"/><rect x="363.9" y="195.9" width="1.4" height="1.4" fill="#b8b8b8" opacity="0.6"/><rect x="365.2" y="189.9" width="1.1" height="1.1" fill="#d0d0d0" opacity="0.6"/><rect x="346.5" y="215.8" width="0.8" height="0.8" fill="#b8b8b8" opacity="0.6"/><rect x="353.9" y="219.7" width="1.4" height="1.4" fill="#d0d0d0" opacity="0.6"/><rect x="335.0" y="215.3" width="1.4" height="1.4" fill="#b8b8b8" opacity="0.6"/><rect x="334.8" y="222.7" width="1.1" height="1.1" fill="#b8b8b8" opacity="0.6"/><rect x="360.3" y="221.7" width="1.4" height="1.4" fill="#b8b8b8" opacity="0.6"/><rect x="362.0" y="193.7" width="1.4" height="1.4" fill="#b8b8b8" opacity="0.6"/><rect x="335.8" y="201.6" width="1.4" height="1.4" fill="#d0d0d0" opacity="0.6"/><rect x="367.8" y="202.3" width="1.4" height="1.4" fill="#d0d0d0" opacity="0.6"/><rect x="364.0" y="190.6" width="1.1" height="1.1" fill="#b8b8b8" opacity="0.6"/><rect x="365.1" y="216.6" width="1.4" height="1.4" fill="#d0d0d0" opacity="0.6"/><rect x="323.8" y="215.8" width="1.4" height="1.4" fill="#bcbcbc" opacity="0.9"/><rect x="299.6" y="220.3" width="1.1" height="1.1" fill="#bcbcbc" opacity="0.9"/><rect x="347.8" y="190.9" width="1.1" height="1.1" fill="#d0d0d0" opacity="0.6"/><rect x="305.8" y="218.2" width="1.1" height="1.1" fill="#bcbcbc" opacity="0.9"/><rect x="366.4" y="207.7" width="1.1" height="1.1" fill="#d0d0d0" opacity="0.6"/><rect x="345.1" y="226.8" width="0.8" height="0.8" fill="#b8b8b8" opacity="0.6"/><rect x="342.7" y="213.7" width="1.1" height="1.1" fill="#d0d0d0" opacity="0.6"/><rect x="333.6" y="221.4" width="1.1" height="1.1" fill="#d0d0d0" opacity="0.6"/><rect x="343.6" y="226.3" width="1.1" height="1.1" fill="#d0d0d0" opacity="0.6"/><rect x="325.2" y="210.0" width="1.1" height="1.1" fill="#ffffff" opacity="0.9"/><rect x="347.8" y="218.8" width="0.8" height="0.8" fill="#b8b8b8" opacity="0.6"/><rect x="297.2" y="219.5" width="0.8" height="0.8" fill="#ffffff" opacity="0.9"/><rect x="333.5" y="223.2" width="0.8" height="0.8" fill="#d0d0d0" opacity="0.6"/><rect x="363.5" y="199.8" width="1.1" height="1.1" fill="#d0d0d0" opacity="0.6"/><rect x="327.1" y="204.1" width="1.4" height="1.4" fill="#d0d0d0" opacity="0.6"/><rect x="364.6" y="220.2" width="1.4" height="1.4" fill="#d0d0d0" opacity="0.6"/><rect x="366.0" y="222.7" width="0.8" height="0.8" fill="#d0d0d0" opacity="0.6"/><rect x="363.1" y="216.4" width="1.1" height="1.1" fill="#b8b8b8" opacity="0.6"/><rect x="365.7" y="192.7" width="1.4" height="1.4" fill="#b8b8b8" opacity="0.6"/><rect x="311.6" y="214.2" width="1.1" height="1.1" fill="#bcbcbc" opacity="0.9"/><rect x="304.2" y="219.2" width="1.1" height="1.1" fill="#ffffff" opacity="0.9"/><rect x="330.0" y="219.3" width="1.4" height="1.4" fill="#bcbcbc" opacity="0.9"/><rect x="335.0" y="212.0" width="1.4" height="1.4" fill="#d0d0d0" opacity="0.6"/><rect x="352.9" y="208.1" width="1.4" height="1.4" fill="#b8b8b8" opacity="0.6"/><rect x="300.1" y="218.0" width="1.4" height="1.4" fill="#ffffff" opacity="0.9"/><rect x="336.4" y="218.1" width="1.4" height="1.4" fill="#b8b8b8" opacity="0.6"/><rect x="353.5" y="196.9" width="0.8" height="0.8" fill="#b8b8b8" opacity="0.6"/><rect x="344.7" y="227.2" width="1.1" height="1.1" fill="#d0d0d0" opacity="0.6"/><rect x="348.2" y="206.1" width="0.8" height="0.8" fill="#b8b8b8" opacity="0.6"/><rect x="316.9" y="215.6" width="1.1" height="1.1" fill="#bcbcbc" opacity="0.9"/><rect x="322.1" y="209.3" width="0.8" height="0.8" fill="#ffffff" opacity="0.9"/><rect x="366.9" y="196.7" width="1.4" height="1.4" fill="#b8b8b8" opacity="0.6"/><rect x="337.1" y="195.4" width="1.1" height="1.1" fill="#b8b8b8" opacity="0.6"/><rect x="328.9" y="223.2" width="1.4" height="1.4" fill="#ffffff" opacity="0.9"/><rect x="299.6" y="221.8" width="0.8" height="0.8" fill="#ffffff" opacity="0.9"/><rect x="363.7" y="224.7" width="1.1" height="1.1" fill="#b8b8b8" opacity="0.6"/><rect x="317.9" y="221.1" width="0.8" height="0.8" fill="#bcbcbc" opacity="0.9"/><rect x="364.4" y="191.0" width="1.1" height="1.1" fill="#b8b8b8" opacity="0.6"/><rect x="319.7" y="220.9" width="1.1" height="1.1" fill="#ffffff" opacity="0.9"/><rect x="331.4" y="215.4" width="0.8" height="0.8" fill="#b8b8b8" opacity="0.6"/><rect x="335.2" y="218.1" width="1.1" height="1.1" fill="#d0d0d0" opacity="0.6"/><rect x="317.4" y="208.1" width="1.1" height="1.1" fill="#ffffff" opacity="0.9"/><rect x="339.3" y="222.4" width="1.1" height="1.1" fill="#d0d0d0" opacity="0.6"/><rect x="327.2" y="213.8" width="1.4" height="1.4" fill="#bcbcbc" opacity="0.9"/><rect x="350.4" y="198.1" width="1.1" height="1.1" fill="#d0d0d0" opacity="0.6"/><rect x="357.2" y="211.2" width="1.1" height="1.1" fill="#b8b8b8" opacity="0.6"/><rect x="311.5" y="219.8" width="0.8" height="0.8" fill="#ffffff" opacity="0.9"/><rect x="361.0" y="202.6" width="1.1" height="1.1" fill="#b8b8b8" opacity="0.6"/><rect x="328.7" y="199.9" width="0.8" height="0.8" fill="#b8b8b8" opacity="0.6"/><rect x="307.4" y="218.4" width="1.1" height="1.1" fill="#bcbcbc" opacity="0.9"/><rect x="349.5" y="190.6" width="0.8" height="0.8" fill="#b8b8b8" opacity="0.6"/><rect x="366.7" y="197.5" width="1.4" height="1.4" fill="#d0d0d0" opacity="0.6"/><rect x="333.5" y="202.1" width="1.4" height="1.4" fill="#b8b8b8" opacity="0.6"/><rect x="336.9" y="212.1" width="1.1" height="1.1" fill="#d0d0d0" opacity="0.6"/><rect x="316.0" y="209.7" width="1.4" height="1.4" fill="#bcbcbc" opacity="0.9"/><rect x="333.0" y="199.4" width="1.1" height="1.1" fill="#d0d0d0" opacity="0.6"/><rect x="334.2" y="225.5" width="1.1" height="1.1" fill="#d0d0d0" opacity="0.6"/><rect x="284.9" y="225.9" width="0.8" height="0.8" fill="#bcbcbc" opacity="0.9"/><rect x="336.5" y="209.9" width="1.1" height="1.1" fill="#b8b8b8" opacity="0.6"/><rect x="349.3" y="194.2" width="0.8" height="0.8" fill="#d0d0d0" opacity="0.6"/><rect x="350.5" y="198.0" width="1.4" height="1.4" fill="#d0d0d0" opacity="0.6"/><rect x="329.5" y="226.5" width="1.4" height="1.4" fill="#ffffff" opacity="0.9"/><rect x="327.1" y="210.8" width="1.4" height="1.4" fill="#ffffff" opacity="0.9"/><rect x="362.2" y="195.2" width="1.4" height="1.4" fill="#b8b8b8" opacity="0.6"/><rect x="343.1" y="206.6" width="0.8" height="0.8" fill="#d0d0d0" opacity="0.6"/><rect x="333.4" y="211.0" width="0.8" height="0.8" fill="#d0d0d0" opacity="0.6"/><rect x="357.9" y="224.5" width="1.1" height="1.1" fill="#d0d0d0" opacity="0.6"/><rect x="338.0" y="202.8" width="1.1" height="1.1" fill="#d0d0d0" opacity="0.6"/><rect x="302.0" y="222.2" width="1.4" height="1.4" fill="#bcbcbc" opacity="0.9"/><rect x="296.0" y="222.7" width="1.1" height="1.1" fill="#ffffff" opacity="0.9"/><rect x="321.7" y="213.1" width="1.1" height="1.1" fill="#bcbcbc" opacity="0.9"/><rect x="347.4" y="219.2" width="1.4" height="1.4" fill="#b8b8b8" opacity="0.6"/><rect x="318.5" y="209.3" width="1.4" height="1.4" fill="#ffffff" opacity="0.9"/><rect x="294.9" y="220.9" width="0.8" height="0.8" fill="#bcbcbc" opacity="0.9"/><rect x="327.3" y="218.0" width="1.4" height="1.4" fill="#ffffff" opacity="0.9"/><rect x="307.8" y="225.8" width="1.1" height="1.1" fill="#ffffff" opacity="0.9"/><rect x="351.0" y="218.9" width="0.8" height="0.8" fill="#b8b8b8" opacity="0.6"/><rect x="370.0" y="211.7" width="1.1" height="1.1" fill="#d0d0d0" opacity="0.6"/><rect x="344.2" y="222.9" width="1.1" height="1.1" fill="#b8b8b8" opacity="0.6"/><rect x="362.9" y="199.6" width="0.8" height="0.8" fill="#d0d0d0" opacity="0.6"/><rect x="319.7" y="218.9" width="1.1" height="1.1" fill="#bcbcbc" opacity="0.9"/><rect x="302.9" y="215.7" width="0.8" height="0.8" fill="#ffffff" opacity="0.9"/><rect x="318.6" y="212.5" width="0.8" height="0.8" fill="#bcbcbc" opacity="0.9"/><rect x="318.5" y="211.3" width="1.1" height="1.1" fill="#bcbcbc" opacity="0.9"/><rect x="360.4" y="185.3" width="1.4" height="1.4" fill="#b8b8b8" opacity="0.6"/><rect x="291.4" y="225.2" width="1.1" height="1.1" fill="#ffffff" opacity="0.9"/><rect x="360.5" y="195.4" width="1.4" height="1.4" fill="#b8b8b8" opacity="0.6"/><rect x="345.9" y="204.9" width="1.4" height="1.4" fill="#b8b8b8" opacity="0.6"/><rect x="371.6" y="212.6" width="0.8" height="0.8" fill="#b8b8b8" opacity="0.6"/><rect x="355.6" y="210.4" width="0.8" height="0.8" fill="#b8b8b8" opacity="0.6"/><rect x="342.7" y="224.0" width="0.8" height="0.8" fill="#b8b8b8" opacity="0.6"/><rect x="330.3" y="202.3" width="1.1" height="1.1" fill="#b8b8b8" opacity="0.6"/><rect x="361.4" y="191.4" width="1.1" height="1.1" fill="#b8b8b8" opacity="0.6"/><rect x="363.1" y="187.7" width="1.4" height="1.4" fill="#b8b8b8" opacity="0.6"/><rect x="346.0" y="220.1" width="1.1" height="1.1" fill="#b8b8b8" opacity="0.6"/><rect x="369.8" y="218.3" width="1.1" height="1.1" fill="#b8b8b8" opacity="0.6"/><rect x="369.9" y="206.5" width="1.4" height="1.4" fill="#b8b8b8" opacity="0.6"/><rect x="313.3" y="210.5" width="1.1" height="1.1" fill="#ffffff" opacity="0.9"/><rect x="290.4" y="226.2" width="1.4" height="1.4" fill="#ffffff" opacity="0.9"/><rect x="294.0" y="221.0" width="0.8" height="0.8" fill="#ffffff" opacity="0.9"/><rect x="297.2" y="218.7" width="1.4" height="1.4" fill="#bcbcbc" opacity="0.9"/><rect x="365.0" y="212.2" width="1.4" height="1.4" fill="#b8b8b8" opacity="0.6"/><rect x="341.2" y="206.1" width="0.8" height="0.8" fill="#d0d0d0" opacity="0.6"/><rect x="321.4" y="219.6" width="0.8" height="0.8" fill="#ffffff" opacity="0.9"/><rect x="356.8" y="185.9" width="1.1" height="1.1" fill="#d0d0d0" opacity="0.6"/><rect x="347.4" y="204.0" width="1.4" height="1.4" fill="#b8b8b8" opacity="0.6"/><rect x="357.7" y="203.5" width="1.4" height="1.4" fill="#d0d0d0" opacity="0.6"/><rect x="342.5" y="214.1" width="1.4" height="1.4" fill="#b8b8b8" opacity="0.6"/><rect x="366.3" y="193.4" width="1.1" height="1.1" fill="#b8b8b8" opacity="0.6"/><rect x="343.8" y="222.6" width="1.1" height="1.1" fill="#b8b8b8" opacity="0.6"/><rect x="303.1" y="224.5" width="0.8" height="0.8" fill="#ffffff" opacity="0.9"/><rect x="344.8" y="200.7" width="0.8" height="0.8" fill="#b8b8b8" opacity="0.6"/><rect x="360.2" y="225.8" width="0.8" height="0.8" fill="#b8b8b8" opacity="0.6"/><rect x="321.6" y="227.4" width="1.1" height="1.1" fill="#ffffff" opacity="0.9"/><rect x="320.3" y="206.0" width="0.8" height="0.8" fill="#bcbcbc" opacity="0.9"/><rect x="298.7" y="221.8" width="1.4" height="1.4" fill="#bcbcbc" opacity="0.9"/><rect x="327.6" y="223.6" width="0.8" height="0.8" fill="#ffffff" opacity="0.9"/><rect x="364.0" y="192.1" width="1.4" height="1.4" fill="#d0d0d0" opacity="0.6"/><rect x="313.9" y="217.7" width="1.4" height="1.4" fill="#ffffff" opacity="0.9"/><rect x="307.7" y="215.2" width="1.1" height="1.1" fill="#bcbcbc" opacity="0.9"/><rect x="283.9" y="225.5" width="1.4" height="1.4" fill="#bcbcbc" opacity="0.9"/><rect x="306.0" y="219.5" width="1.4" height="1.4" fill="#bcbcbc" opacity="0.9"/><rect x="363.3" y="224.0" width="0.8" height="0.8" fill="#b8b8b8" opacity="0.6"/><rect x="351.0" y="210.1" width="1.4" height="1.4" fill="#d0d0d0" opacity="0.6"/><rect x="360.4" y="226.4" width="1.4" height="1.4" fill="#b8b8b8" opacity="0.6"/><rect x="342.9" y="223.4" width="1.4" height="1.4" fill="#b8b8b8" opacity="0.6"/><rect x="346.5" y="189.7" width="1.4" height="1.4" fill="#b8b8b8" opacity="0.6"/><rect x="347.7" y="214.7" width="0.8" height="0.8" fill="#d0d0d0" opacity="0.6"/><rect x="320.7" y="207.1" width="0.8" height="0.8" fill="#ffffff" opacity="0.9"/><rect x="328.1" y="219.5" width="1.1" height="1.1" fill="#ffffff" opacity="0.9"/><rect x="343.2" y="191.8" width="0.8" height="0.8" fill="#d0d0d0" opacity="0.6"/><rect x="305.4" y="225.9" width="1.4" height="1.4" fill="#bcbcbc" opacity="0.9"/><rect x="322.2" y="218.8" width="1.1" height="1.1" fill="#bcbcbc" opacity="0.9"/><rect x="350.2" y="219.6" width="1.4" height="1.4" fill="#b8b8b8" opacity="0.6"/><rect x="306.3" y="227.1" width="0.8" height="0.8" fill="#bcbcbc" opacity="0.9"/><rect x="295.2" y="221.7" width="1.1" height="1.1" fill="#bcbcbc" opacity="0.9"/><rect x="300.6" y="220.4" width="1.1" height="1.1" fill="#ffffff" opacity="0.9"/><rect x="357.6" y="217.1" width="1.1" height="1.1" fill="#b8b8b8" opacity="0.6"/><rect x="295.3" y="224.3" width="0.8" height="0.8" fill="#ffffff" opacity="0.9"/><rect x="366.9" y="196.4" width="1.1" height="1.1" fill="#b8b8b8" opacity="0.6"/><rect x="353.9" y="184.9" width="1.1" height="1.1" fill="#d0d0d0" opacity="0.6"/><rect x="325.4" y="217.4" width="0.8" height="0.8" fill="#ffffff" opacity="0.9"/><rect x="347.5" y="214.6" width="1.1" height="1.1" fill="#d0d0d0" opacity="0.6"/><rect x="361.2" y="217.2" width="1.1" height="1.1" fill="#b8b8b8" opacity="0.6"/><rect x="347.8" y="223.7" width="1.1" height="1.1" fill="#d0d0d0" opacity="0.6"/><rect x="334.0" y="225.6" width="0.8" height="0.8" fill="#b8b8b8" opacity="0.6"/><rect x="315.9" y="217.1" width="1.4" height="1.4" fill="#bcbcbc" opacity="0.9"/><rect x="320.9" y="206.1" width="1.4" height="1.4" fill="#bcbcbc" opacity="0.9"/><rect x="371.6" y="223.1" width="0.8" height="0.8" fill="#d0d0d0" opacity="0.6"/><rect x="352.4" y="191.1" width="1.4" height="1.4" fill="#d0d0d0" opacity="0.6"/><rect x="348.5" y="188.3" width="0.8" height="0.8" fill="#b8b8b8" opacity="0.6"/><rect x="352.7" y="221.0" width="1.4" height="1.4" fill="#d0d0d0" opacity="0.6"/><rect x="337.3" y="217.0" width="0.8" height="0.8" fill="#d0d0d0" opacity="0.6"/><rect x="361.9" y="198.8" width="1.4" height="1.4" fill="#b8b8b8" opacity="0.6"/><rect x="351.2" y="204.6" width="1.4" height="1.4" fill="#d0d0d0" opacity="0.6"/><rect x="303.7" y="222.5" width="0.8" height="0.8" fill="#ffffff" opacity="0.9"/><rect x="304.0" y="227.2" width="1.1" height="1.1" fill="#ffffff" opacity="0.9"/><rect x="344.6" y="201.7" width="1.4" height="1.4" fill="#b8b8b8" opacity="0.6"/><rect x="356.5" y="216.4" width="1.1" height="1.1" fill="#d0d0d0" opacity="0.6"/><rect x="309.0" y="222.7" width="1.1" height="1.1" fill="#bcbcbc" opacity="0.9"/><rect x="313.6" y="208.2" width="0.8" height="0.8" fill="#bcbcbc" opacity="0.9"/><rect x="342.3" y="216.8" width="0.8" height="0.8" fill="#d0d0d0" opacity="0.6"/><rect x="364.2" y="217.4" width="0.8" height="0.8" fill="#b8b8b8" opacity="0.6"/><rect x="355.5" y="216.3" width="0.8" height="0.8" fill="#b8b8b8" opacity="0.6"/><rect x="305.0" y="226.2" width="1.4" height="1.4" fill="#bcbcbc" opacity="0.9"/><rect x="331.5" y="220.2" width="0.8" height="0.8" fill="#ffffff" opacity="0.9"/><rect x="305.2" y="213.1" width="1.1" height="1.1" fill="#ffffff" opacity="0.9"/><rect x="306.4" y="219.0" width="0.8" height="0.8" fill="#ffffff" opacity="0.9"/><rect x="290.1" y="222.5" width="0.8" height="0.8" fill="#bcbcbc" opacity="0.9"/><rect x="333.3" y="211.8" width="0.8" height="0.8" fill="#d0d0d0" opacity="0.6"/><rect x="362.0" y="216.5" width="1.1" height="1.1" fill="#d0d0d0" opacity="0.6"/><rect x="348.1" y="193.9" width="0.8" height="0.8" fill="#d0d0d0" opacity="0.6"/><rect x="332.9" y="205.0" width="0.8" height="0.8" fill="#b8b8b8" opacity="0.6"/><rect x="360.8" y="193.2" width="1.1" height="1.1" fill="#d0d0d0" opacity="0.6"/><rect x="367.2" y="215.3" width="0.8" height="0.8" fill="#d0d0d0" opacity="0.6"/><rect x="348.7" y="195.2" width="0.8" height="0.8" fill="#d0d0d0" opacity="0.6"/><rect x="342.0" y="211.2" width="0.8" height="0.8" fill="#d0d0d0" opacity="0.6"/><rect x="358.5" y="223.5" width="0.8" height="0.8" fill="#d0d0d0" opacity="0.6"/><rect x="359.6" y="186.3" width="1.1" height="1.1" fill="#d0d0d0" opacity="0.6"/><rect x="312.0" y="226.3" width="1.1" height="1.1" fill="#ffffff" opacity="0.9"/><rect x="324.8" y="219.4" width="0.8" height="0.8" fill="#ffffff" opacity="0.9"/><rect x="320.6" y="210.7" width="1.4" height="1.4" fill="#bcbcbc" opacity="0.9"/><rect x="362.4" y="183.8" width="1.1" height="1.1" fill="#d0d0d0" opacity="0.6"/><rect x="367.1" y="202.8" width="0.8" height="0.8" fill="#b8b8b8" opacity="0.6"/><rect x="345.6" y="216.4" width="0.8" height="0.8" fill="#d0d0d0" opacity="0.6"/><rect x="322.4" y="205.0" width="1.1" height="1.1" fill="#bcbcbc" opacity="0.9"/><rect x="310.8" y="213.5" width="1.4" height="1.4" fill="#ffffff" opacity="0.9"/><rect x="319.7" y="213.0" width="1.1" height="1.1" fill="#ffffff" opacity="0.9"/><rect x="355.7" y="208.1" width="1.1" height="1.1" fill="#d0d0d0" opacity="0.6"/><rect x="289.1" y="224.1" width="1.4" height="1.4" fill="#bcbcbc" opacity="0.9"/><rect x="350.0" y="201.1" width="0.8" height="0.8" fill="#b8b8b8" opacity="0.6"/><rect x="323.5" y="215.7" width="1.4" height="1.4" fill="#ffffff" opacity="0.9"/><rect x="335.1" y="216.1" width="1.1" height="1.1" fill="#b8b8b8" opacity="0.6"/><rect x="364.7" y="210.9" width="1.4" height="1.4" fill="#d0d0d0" opacity="0.6"/><rect x="322.2" y="213.7" width="1.4" height="1.4" fill="#ffffff" opacity="0.9"/><rect x="323.4" y="226.6" width="1.1" height="1.1" fill="#bcbcbc" opacity="0.9"/><rect x="364.3" y="213.8" width="1.1" height="1.1" fill="#b8b8b8" opacity="0.6"/><rect x="368.3" y="208.5" width="1.4" height="1.4" fill="#d0d0d0" opacity="0.6"/><rect x="334.1" y="213.4" width="0.8" height="0.8" fill="#d0d0d0" opacity="0.6"/><rect x="338.6" y="195.6" width="1.1" height="1.1" fill="#b8b8b8" opacity="0.6"/><rect x="318.1" y="207.8" width="0.8" height="0.8" fill="#bcbcbc" opacity="0.9"/><rect x="316.2" y="206.4" width="1.1" height="1.1" fill="#ffffff" opacity="0.9"/><rect x="364.9" y="191.9" width="0.8" height="0.8" fill="#d0d0d0" opacity="0.6"/><rect x="331.2" y="208.7" width="0.8" height="0.8" fill="#b8b8b8" opacity="0.6"/><rect x="361.1" y="217.2" width="0.8" height="0.8" fill="#d0d0d0" opacity="0.6"/><rect x="359.8" y="201.1" width="1.1" height="1.1" fill="#b8b8b8" opacity="0.6"/><rect x="358.4" y="221.7" width="0.8" height="0.8" fill="#b8b8b8" opacity="0.6"/><rect x="327.6" y="216.8" width="0.8" height="0.8" fill="#bcbcbc" opacity="0.9"/><rect x="313.7" y="221.7" width="0.8" height="0.8" fill="#ffffff" opacity="0.9"/><rect x="340.5" y="224.9" width="1.1" height="1.1" fill="#b8b8b8" opacity="0.6"/><rect x="324.8" y="213.6" width="0.8" height="0.8" fill="#bcbcbc" opacity="0.9"/><rect x="370.3" y="214.6" width="1.4" height="1.4" fill="#d0d0d0" opacity="0.6"/><rect x="298.7" y="217.6" width="0.8" height="0.8" fill="#bcbcbc" opacity="0.9"/><rect x="368.5" y="224.1" width="0.8" height="0.8" fill="#b8b8b8" opacity="0.6"/><rect x="338.1" y="210.9" width="1.1" height="1.1" fill="#b8b8b8" opacity="0.6"/><rect x="352.6" y="207.4" width="0.8" height="0.8" fill="#d0d0d0" opacity="0.6"/><rect x="343.3" y="209.3" width="1.4" height="1.4" fill="#b8b8b8" opacity="0.6"/><rect x="357.4" y="184.7" width="0.8" height="0.8" fill="#d0d0d0" opacity="0.6"/><rect x="351.1" y="217.9" width="1.1" height="1.1" fill="#d0d0d0" opacity="0.6"/><rect x="356.8" y="217.0" width="0.8" height="0.8" fill="#d0d0d0" opacity="0.6"/><rect x="370.3" y="215.1" width="0.8" height="0.8" fill="#b8b8b8" opacity="0.6"/><rect x="300.8" y="219.6" width="0.8" height="0.8" fill="#bcbcbc" opacity="0.9"/><rect x="363.3" y="227.0" width="1.1" height="1.1" fill="#d0d0d0" opacity="0.6"/><rect x="351.3" y="188.3" width="0.8" height="0.8" fill="#d0d0d0" opacity="0.6"/><rect x="326.3" y="201.5" width="1.1" height="1.1" fill="#d0d0d0" opacity="0.6"/><rect x="368.2" y="201.6" width="1.1" height="1.1" fill="#b8b8b8" opacity="0.6"/><rect x="367.8" y="216.7" width="1.4" height="1.4" fill="#b8b8b8" opacity="0.6"/><rect x="335.5" y="212.7" width="1.1" height="1.1" fill="#d0d0d0" opacity="0.6"/><rect x="323.6" y="222.5" width="1.1" height="1.1" fill="#ffffff" opacity="0.9"/><rect x="339.5" y="197.6" width="1.4" height="1.4" fill="#d0d0d0" opacity="0.6"/><rect x="304.7" y="219.6" width="1.1" height="1.1" fill="#bcbcbc" opacity="0.9"/><rect x="331.8" y="207.3" width="1.1" height="1.1" fill="#d0d0d0" opacity="0.6"/><rect x="358.5" y="197.6" width="1.4" height="1.4" fill="#b8b8b8" opacity="0.6"/><rect x="316.6" y="220.2" width="1.4" height="1.4" fill="#bcbcbc" opacity="0.9"/><rect x="360.4" y="199.3" width="1.4" height="1.4" fill="#d0d0d0" opacity="0.6"/><rect x="346.0" y="199.3" width="1.1" height="1.1" fill="#b8b8b8" opacity="0.6"/><rect x="330.6" y="220.6" width="0.8" height="0.8" fill="#bcbcbc" opacity="0.9"/><rect x="357.0" y="189.4" width="1.4" height="1.4" fill="#d0d0d0" opacity="0.6"/><rect x="364.0" y="200.3" width="1.1" height="1.1" fill="#b8b8b8" opacity="0.6"/><rect x="328.6" y="225.6" width="0.8" height="0.8" fill="#bcbcbc" opacity="0.9"/><rect x="307.0" y="223.8" width="0.8" height="0.8" fill="#ffffff" opacity="0.9"/><rect x="324.6" y="209.9" width="0.8" height="0.8" fill="#ffffff" opacity="0.9"/><rect x="307.7" y="212.6" width="0.8" height="0.8" fill="#ffffff" opacity="0.9"/><rect x="331.9" y="212.8" width="1.1" height="1.1" fill="#d0d0d0" opacity="0.6"/><rect x="352.3" y="191.7" width="1.1" height="1.1" fill="#d0d0d0" opacity="0.6"/><rect x="306.8" y="225.1" width="0.8" height="0.8" fill="#ffffff" opacity="0.9"/><rect x="298.5" y="217.0" width="0.8" height="0.8" fill="#bcbcbc" opacity="0.9"/><rect x="358.3" y="213.2" width="1.1" height="1.1" fill="#d0d0d0" opacity="0.6"/><rect x="343.0" y="191.5" width="0.8" height="0.8" fill="#b8b8b8" opacity="0.6"/><rect x="363.3" y="208.6" width="1.1" height="1.1" fill="#b8b8b8" opacity="0.6"/><rect x="320.8" y="209.3" width="1.1" height="1.1" fill="#ffffff" opacity="0.9"/><rect x="351.0" y="220.3" width="1.4" height="1.4" fill="#d0d0d0" opacity="0.6"/><rect x="338.0" y="201.0" width="1.4" height="1.4" fill="#d0d0d0" opacity="0.6"/><rect x="352.6" y="205.2" width="0.8" height="0.8" fill="#d0d0d0" opacity="0.6"/><rect x="369.5" y="217.2" width="1.4" height="1.4" fill="#d0d0d0" opacity="0.6"/><rect x="358.0" y="206.4" width="1.4" height="1.4" fill="#b8b8b8" opacity="0.6"/><rect x="359.3" y="226.1" width="1.4" height="1.4" fill="#d0d0d0" opacity="0.6"/><rect x="346.3" y="220.0" width="1.4" height="1.4" fill="#b8b8b8" opacity="0.6"/><rect x="345.0" y="194.1" width="0.8" height="0.8" fill="#b8b8b8" opacity="0.6"/><rect x="362.9" y="185.2" width="0.8" height="0.8" fill="#d0d0d0" opacity="0.6"/><rect x="320.7" y="210.0" width="1.4" height="1.4" fill="#bcbcbc" opacity="0.9"/><rect x="363.5" y="190.5" width="1.1" height="1.1" fill="#d0d0d0" opacity="0.6"/><rect x="346.5" y="216.6" width="1.4" height="1.4" fill="#d0d0d0" opacity="0.6"/><rect x="329.7" y="218.8" width="0.8" height="0.8" fill="#ffffff" opacity="0.9"/><rect x="360.6" y="187.5" width="1.1" height="1.1" fill="#d0d0d0" opacity="0.6"/><rect x="328.3" y="206.3" width="1.4" height="1.4" fill="#b8b8b8" opacity="0.6"/><rect x="332.2" y="206.8" width="1.4" height="1.4" fill="#d0d0d0" opacity="0.6"/><rect x="303.9" y="218.8" width="1.4" height="1.4" fill="#ffffff" opacity="0.9"/><rect x="344.2" y="218.8" width="1.4" height="1.4" fill="#b8b8b8" opacity="0.6"/><rect x="336.3" y="200.4" width="1.4" height="1.4" fill="#d0d0d0" opacity="0.6"/><rect x="355.2" y="205.7" width="1.4" height="1.4" fill="#b8b8b8" opacity="0.6"/><rect x="353.2" y="223.4" width="1.1" height="1.1" fill="#d0d0d0" opacity="0.6"/><rect x="369.3" y="221.2" width="1.4" height="1.4" fill="#d0d0d0" opacity="0.6"/><rect x="340.3" y="207.1" width="1.1" height="1.1" fill="#b8b8b8" opacity="0.6"/><rect x="360.9" y="198.2" width="1.1" height="1.1" fill="#d0d0d0" opacity="0.6"/><rect x="306.6" y="221.8" width="0.8" height="0.8" fill="#bcbcbc" opacity="0.9"/><rect x="359.9" y="226.1" width="1.4" height="1.4" fill="#d0d0d0" opacity="0.6"/><rect x="310.3" y="226.3" width="0.8" height="0.8" fill="#bcbcbc" opacity="0.9"/><rect x="350.8" y="212.1" width="0.8" height="0.8" fill="#d0d0d0" opacity="0.6"/><rect x="359.5" y="209.4" width="1.1" height="1.1" fill="#d0d0d0" opacity="0.6"/><rect x="365.5" y="206.5" width="1.4" height="1.4" fill="#d0d0d0" opacity="0.6"/><rect x="323.9" y="209.4" width="1.4" height="1.4" fill="#bcbcbc" opacity="0.9"/><rect x="336.2" y="196.6" width="1.4" height="1.4" fill="#b8b8b8" opacity="0.6"/><rect x="359.5" y="210.8" width="0.8" height="0.8" fill="#b8b8b8" opacity="0.6"/><rect x="313.3" y="224.0" width="1.1" height="1.1" fill="#ffffff" opacity="0.9"/><rect x="362.7" y="212.5" width="0.8" height="0.8" fill="#d0d0d0" opacity="0.6"/><rect x="340.7" y="199.8" width="1.4" height="1.4" fill="#d0d0d0" opacity="0.6"/><rect x="364.9" y="213.0" width="0.8" height="0.8" fill="#b8b8b8" opacity="0.6"/><rect x="360.4" y="197.3" width="1.4" height="1.4" fill="#d0d0d0" opacity="0.6"/><rect x="356.0" y="190.5" width="1.4" height="1.4" fill="#d0d0d0" opacity="0.6"/><rect x="362.0" y="216.4" width="0.8" height="0.8" fill="#b8b8b8" opacity="0.6"/><rect x="369.6" y="211.9" width="1.1" height="1.1" fill="#b8b8b8" opacity="0.6"/><rect x="327.1" y="218.2" width="1.1" height="1.1" fill="#bcbcbc" opacity="0.9"/><rect x="337.8" y="218.7" width="0.8" height="0.8" fill="#d0d0d0" opacity="0.6"/><rect x="350.7" y="197.8" width="1.4" height="1.4" fill="#b8b8b8" opacity="0.6"/><rect x="320.8" y="206.0" width="0.8" height="0.8" fill="#bcbcbc" opacity="0.9"/><rect x="353.4" y="196.7" width="1.1" height="1.1" fill="#d0d0d0" opacity="0.6"/><rect x="354.0" y="212.4" width="1.1" height="1.1" fill="#d0d0d0" opacity="0.6"/><rect x="347.3" y="215.4" width="0.8" height="0.8" fill="#d0d0d0" opacity="0.6"/><rect x="357.3" y="190.6" width="0.8" height="0.8" fill="#b8b8b8" opacity="0.6"/><rect x="361.7" y="187.2" width="1.4" height="1.4" fill="#b8b8b8" opacity="0.6"/><rect x="298.3" y="218.4" width="1.4" height="1.4" fill="#bcbcbc" opacity="0.9"/><rect x="367.9" y="205.3" width="1.1" height="1.1" fill="#b8b8b8" opacity="0.6"/><rect x="366.4" y="217.7" width="1.1" height="1.1" fill="#d0d0d0" opacity="0.6"/><rect x="303.5" y="225.9" width="0.8" height="0.8" fill="#bcbcbc" opacity="0.9"/><rect x="294.5" y="224.5" width="1.4" height="1.4" fill="#ffffff" opacity="0.9"/><rect x="359.8" y="219.1" width="1.1" height="1.1" fill="#b8b8b8" opacity="0.6"/><rect x="330.3" y="214.5" width="1.1" height="1.1" fill="#ffffff" opacity="0.9"/><rect x="346.1" y="193.9" width="1.1" height="1.1" fill="#d0d0d0" opacity="0.6"/><rect x="329.5" y="204.1" width="1.4" height="1.4" fill="#b8b8b8" opacity="0.6"/><rect x="350.4" y="223.5" width="1.4" height="1.4" fill="#b8b8b8" opacity="0.6"/><rect x="368.2" y="224.2" width="1.1" height="1.1" fill="#d0d0d0" opacity="0.6"/><rect x="362.2" y="197.5" width="0.8" height="0.8" fill="#d0d0d0" opacity="0.6"/><rect x="340.7" y="195.3" width="1.4" height="1.4" fill="#b8b8b8" opacity="0.6"/><rect x="309.2" y="212.2" width="0.8" height="0.8" fill="#ffffff" opacity="0.9"/><rect x="350.3" y="226.5" width="0.8" height="0.8" fill="#d0d0d0" opacity="0.6"/><rect x="307.2" y="219.7" width="1.4" height="1.4" fill="#bcbcbc" opacity="0.9"/><rect x="335.2" y="220.9" width="1.4" height="1.4" fill="#b8b8b8" opacity="0.6"/><rect x="301.9" y="223.1" width="1.4" height="1.4" fill="#ffffff" opacity="0.9"/><rect x="333.5" y="206.5" width="1.1" height="1.1" fill="#d0d0d0" opacity="0.6"/><rect x="330.4" y="218.6" width="1.4" height="1.4" fill="#bcbcbc" opacity="0.9"/><rect x="340.3" y="202.3" width="0.8" height="0.8" fill="#b8b8b8" opacity="0.6"/><rect x="310.9" y="210.4" width="1.4" height="1.4" fill="#bcbcbc" opacity="0.9"/><rect x="317.7" y="227.1" width="1.4" height="1.4" fill="#bcbcbc" opacity="0.9"/><rect x="352.9" y="191.7" width="1.1" height="1.1" fill="#d0d0d0" opacity="0.6"/><rect x="301.1" y="221.7" width="1.4" height="1.4" fill="#bcbcbc" opacity="0.9"/><rect x="353.3" y="198.7" width="0.8" height="0.8" fill="#b8b8b8" opacity="0.6"/><rect x="366.2" y="201.4" width="0.8" height="0.8" fill="#d0d0d0" opacity="0.6"/><rect x="341.7" y="226.4" width="0.8" height="0.8" fill="#b8b8b8" opacity="0.6"/><rect x="326.9" y="220.6" width="1.1" height="1.1" fill="#ffffff" opacity="0.9"/><rect x="353.8" y="225.3" width="0.8" height="0.8" fill="#b8b8b8" opacity="0.6"/><rect x="368.2" y="219.7" width="0.8" height="0.8" fill="#b8b8b8" opacity="0.6"/><rect x="320.7" y="208.6" width="0.8" height="0.8" fill="#bcbcbc" opacity="0.9"/><rect x="368.1" y="218.0" width="1.4" height="1.4" fill="#b8b8b8" opacity="0.6"/><rect x="309.9" y="220.0" width="1.4" height="1.4" fill="#bcbcbc" opacity="0.9"/><rect x="324.0" y="206.7" width="1.4" height="1.4" fill="#ffffff" opacity="0.9"/><rect x="368.1" y="206.6" width="0.8" height="0.8" fill="#b8b8b8" opacity="0.6"/><rect x="364.5" y="201.9" width="1.1" height="1.1" fill="#d0d0d0" opacity="0.6"/><rect x="339.7" y="206.6" width="1.4" height="1.4" fill="#d0d0d0" opacity="0.6"/><rect x="360.9" y="216.9" width="0.8" height="0.8" fill="#d0d0d0" opacity="0.6"/><rect x="365.4" y="211.3" width="1.1" height="1.1" fill="#d0d0d0" opacity="0.6"/><rect x="317.2" y="223.1" width="0.8" height="0.8" fill="#ffffff" opacity="0.9"/><rect x="351.4" y="222.7" width="1.1" height="1.1" fill="#d0d0d0" opacity="0.6"/><rect x="342.8" y="212.6" width="1.4" height="1.4" fill="#d0d0d0" opacity="0.6"/><rect x="367.8" y="205.2" width="0.8" height="0.8" fill="#d0d0d0" opacity="0.6"/><rect x="344.2" y="210.2" width="0.8" height="0.8" fill="#d0d0d0" opacity="0.6"/><rect x="348.2" y="189.5" width="1.1" height="1.1" fill="#d0d0d0" opacity="0.6"/><rect x="358.6" y="213.4" width="1.4" height="1.4" fill="#b8b8b8" opacity="0.6"/><rect x="338.1" y="222.7" width="1.4" height="1.4" fill="#b8b8b8" opacity="0.6"/><rect x="297.4" y="219.8" width="1.1" height="1.1" fill="#ffffff" opacity="0.9"/><rect x="345.5" y="193.1" width="1.1" height="1.1" fill="#b8b8b8" opacity="0.6"/><rect x="353.1" y="221.4" width="1.4" height="1.4" fill="#b8b8b8" opacity="0.6"/><rect x="350.2" y="189.3" width="0.8" height="0.8" fill="#b8b8b8" opacity="0.6"/><rect x="355.0" y="211.5" width="1.1" height="1.1" fill="#b8b8b8" opacity="0.6"/><rect x="355.5" y="213.8" width="0.8" height="0.8" fill="#b8b8b8" opacity="0.6"/><rect x="338.8" y="221.8" width="0.8" height="0.8" fill="#d0d0d0" opacity="0.6"/><rect x="357.3" y="184.0" width="1.4" height="1.4" fill="#d0d0d0" opacity="0.6"/><rect x="342.4" y="210.8" width="1.1" height="1.1" fill="#b8b8b8" opacity="0.6"/><rect x="292.5" y="223.7" width="1.1" height="1.1" fill="#bcbcbc" opacity="0.9"/><rect x="343.4" y="216.2" width="1.1" height="1.1" fill="#b8b8b8" opacity="0.6"/><rect x="343.1" y="197.0" width="0.8" height="0.8" fill="#d0d0d0" opacity="0.6"/><rect x="336.9" y="216.4" width="1.4" height="1.4" fill="#b8b8b8" opacity="0.6"/><rect x="328.2" y="218.9" width="1.1" height="1.1" fill="#ffffff" opacity="0.9"/><rect x="357.4" y="226.5" width="0.8" height="0.8" fill="#d0d0d0" opacity="0.6"/><rect x="359.8" y="221.5" width="1.1" height="1.1" fill="#d0d0d0" opacity="0.6"/><rect x="302.1" y="224.3" width="1.4" height="1.4" fill="#bcbcbc" opacity="0.9"/><rect x="368.6" y="222.4" width="0.8" height="0.8" fill="#b8b8b8" opacity="0.6"/><rect x="369.4" y="223.2" width="0.8" height="0.8" fill="#d0d0d0" opacity="0.6"/><rect x="317.8" y="211.8" width="1.4" height="1.4" fill="#ffffff" opacity="0.9"/><rect x="305.5" y="214.8" width="0.8" height="0.8" fill="#bcbcbc" opacity="0.9"/><rect x="372.1" y="225.6" width="0.8" height="0.8" fill="#d0d0d0" opacity="0.6"/><rect x="298.1" y="224.3" width="1.4" height="1.4" fill="#bcbcbc" opacity="0.9"/><rect x="311.1" y="224.8" width="0.8" height="0.8" fill="#ffffff" opacity="0.9"/><rect x="329.1" y="201.0" width="0.8" height="0.8" fill="#d0d0d0" opacity="0.6"/><rect x="369.8" y="206.6" width="1.1" height="1.1" fill="#d0d0d0" opacity="0.6"/><rect x="340.2" y="211.8" width="0.8" height="0.8" fill="#b8b8b8" opacity="0.6"/><rect x="358.0" y="220.2" width="0.8" height="0.8" fill="#b8b8b8" opacity="0.6"/><rect x="358.6" y="200.6" width="1.4" height="1.4" fill="#d0d0d0" opacity="0.6"/><rect x="343.6" y="203.7" width="0.8" height="0.8" fill="#b8b8b8" opacity="0.6"/><rect x="341.7" y="196.6" width="0.8" height="0.8" fill="#d0d0d0" opacity="0.6"/><rect x="363.2" y="200.3" width="1.1" height="1.1" fill="#b8b8b8" opacity="0.6"/><rect x="346.4" y="222.3" width="0.8" height="0.8" fill="#b8b8b8" opacity="0.6"/><rect x="349.6" y="222.2" width="0.8" height="0.8" fill="#b8b8b8" opacity="0.6"/><rect x="314.7" y="215.1" width="1.4" height="1.4" fill="#bcbcbc" opacity="0.9"/><rect x="359.6" y="205.4" width="0.8" height="0.8" fill="#b8b8b8" opacity="0.6"/><rect x="332.2" y="207.1" width="0.8" height="0.8" fill="#b8b8b8" opacity="0.6"/><rect x="357.7" y="210.5" width="1.1" height="1.1" fill="#b8b8b8" opacity="0.6"/><rect x="365.2" y="198.9" width="1.1" height="1.1" fill="#b8b8b8" opacity="0.6"/><rect x="315.3" y="207.1" width="0.8" height="0.8" fill="#bcbcbc" opacity="0.9"/><rect x="355.2" y="192.9" width="1.4" height="1.4" fill="#b8b8b8" opacity="0.6"/><rect x="328.4" y="207.1" width="1.1" height="1.1" fill="#b8b8b8" opacity="0.6"/><rect x="331.6" y="211.4" width="1.4" height="1.4" fill="#d0d0d0" opacity="0.6"/><rect x="323.2" y="204.7" width="0.8" height="0.8" fill="#ffffff" opacity="0.9"/><rect x="364.8" y="225.3" width="1.1" height="1.1" fill="#b8b8b8" opacity="0.6"/><rect x="342.7" y="195.1" width="1.4" height="1.4" fill="#b8b8b8" opacity="0.6"/><rect x="358.2" y="227.2" width="1.4" height="1.4" fill="#b8b8b8" opacity="0.6"/><rect x="309.5" y="223.1" width="0.8" height="0.8" fill="#bcbcbc" opacity="0.9"/><rect x="335.0" y="200.0" width="1.1" height="1.1" fill="#d0d0d0" opacity="0.6"/><rect x="341.3" y="215.4" width="0.8" height="0.8" fill="#d0d0d0" opacity="0.6"/><rect x="358.7" y="218.5" width="1.4" height="1.4" fill="#d0d0d0" opacity="0.6"/><rect x="361.9" y="218.5" width="1.4" height="1.4" fill="#b8b8b8" opacity="0.6"/><rect x="370.8" y="206.7" width="1.4" height="1.4" fill="#b8b8b8" opacity="0.6"/><rect x="354.2" y="216.5" width="1.4" height="1.4" fill="#b8b8b8" opacity="0.6"/><rect x="331.8" y="199.2" width="1.1" height="1.1" fill="#b8b8b8" opacity="0.6"/><rect x="298.1" y="218.9" width="1.4" height="1.4" fill="#ffffff" opacity="0.9"/><rect x="345.0" y="195.7" width="1.4" height="1.4" fill="#b8b8b8" opacity="0.6"/><rect x="311.8" y="216.3" width="1.1" height="1.1" fill="#bcbcbc" opacity="0.9"/><rect x="325.8" y="214.9" width="1.1" height="1.1" fill="#ffffff" opacity="0.9"/><rect x="304.7" y="215.5" width="0.8" height="0.8" fill="#ffffff" opacity="0.9"/><rect x="344.7" y="195.4" width="0.8" height="0.8" fill="#b8b8b8" opacity="0.6"/><rect x="328.2" y="201.8" width="0.8" height="0.8" fill="#b8b8b8" opacity="0.6"/><rect x="349.0" y="198.4" width="1.4" height="1.4" fill="#d0d0d0" opacity="0.6"/><rect x="344.9" y="215.8" width="0.8" height="0.8" fill="#b8b8b8" opacity="0.6"/><rect x="319.6" y="208.3" width="0.8" height="0.8" fill="#ffffff" opacity="0.9"/><rect x="368.4" y="217.1" width="1.4" height="1.4" fill="#d0d0d0" opacity="0.6"/><rect x="372.8" y="224.3" width="1.1" height="1.1" fill="#b8b8b8" opacity="0.6"/><rect x="363.8" y="207.5" width="0.8" height="0.8" fill="#d0d0d0" opacity="0.6"/><rect x="343.0" y="217.0" width="0.8" height="0.8" fill="#b8b8b8" opacity="0.6"/><rect x="323.5" y="216.6" width="1.4" height="1.4" fill="#bcbcbc" opacity="0.9"/><rect x="369.2" y="219.9" width="1.4" height="1.4" fill="#d0d0d0" opacity="0.6"/><rect x="326.9" y="203.8" width="0.8" height="0.8" fill="#b8b8b8" opacity="0.6"/><rect x="336.4" y="197.4" width="1.4" height="1.4" fill="#d0d0d0" opacity="0.6"/><rect x="343.9" y="200.4" width="1.4" height="1.4" fill="#d0d0d0" opacity="0.6"/><rect x="334.5" y="224.7" width="1.1" height="1.1" fill="#b8b8b8" opacity="0.6"/><rect x="372.1" y="220.6" width="1.4" height="1.4" fill="#d0d0d0" opacity="0.6"/><rect x="331.1" y="211.4" width="0.8" height="0.8" fill="#d0d0d0" opacity="0.6"/><rect x="295.6" y="225.7" width="0.8" height="0.8" fill="#bcbcbc" opacity="0.9"/><rect x="341.7" y="215.3" width="1.4" height="1.4" fill="#b8b8b8" opacity="0.6"/><rect x="337.1" y="197.1" width="0.8" height="0.8" fill="#b8b8b8" opacity="0.6"/><rect x="361.3" y="197.6" width="1.1" height="1.1" fill="#d0d0d0" opacity="0.6"/><rect x="320.1" y="221.2" width="1.4" height="1.4" fill="#ffffff" opacity="0.9"/><rect x="371.9" y="224.3" width="0.8" height="0.8" fill="#d0d0d0" opacity="0.6"/><rect x="303.8" y="220.8" width="1.4" height="1.4" fill="#ffffff" opacity="0.9"/><rect x="360.1" y="198.1" width="1.4" height="1.4" fill="#d0d0d0" opacity="0.6"/><rect x="309.4" y="224.4" width="1.4" height="1.4" fill="#bcbcbc" opacity="0.9"/><rect x="283.8" y="227.3" width="1.1" height="1.1" fill="#ffffff" opacity="0.9"/><rect x="324.0" y="205.1" width="1.4" height="1.4" fill="#ffffff" opacity="0.9"/><rect x="333.5" y="200.0" width="1.4" height="1.4" fill="#b8b8b8" opacity="0.6"/><rect x="317.8" y="215.7" width="0.8" height="0.8" fill="#bcbcbc" opacity="0.9"/><rect x="323.8" y="222.5" width="0.8" height="0.8" fill="#ffffff" opacity="0.9"/><rect x="364.3" y="204.1" width="1.1" height="1.1" fill="#b8b8b8" opacity="0.6"/><rect x="330.1" y="198.7" width="0.8" height="0.8" fill="#d0d0d0" opacity="0.6"/><rect x="353.9" y="185.6" width="0.8" height="0.8" fill="#b8b8b8" opacity="0.6"/><rect x="364.9" y="203.9" width="1.1" height="1.1" fill="#d0d0d0" opacity="0.6"/><rect x="346.5" y="191.1" width="0.8" height="0.8" fill="#b8b8b8" opacity="0.6"/><rect x="349.3" y="202.7" width="0.8" height="0.8" fill="#d0d0d0" opacity="0.6"/><rect x="336.2" y="223.5" width="1.1" height="1.1" fill="#d0d0d0" opacity="0.6"/><rect x="314.9" y="224.5" width="0.8" height="0.8" fill="#ffffff" opacity="0.9"/><rect x="363.0" y="222.0" width="1.1" height="1.1" fill="#b8b8b8" opacity="0.6"/><rect x="347.6" y="206.9" width="1.1" height="1.1" fill="#d0d0d0" opacity="0.6"/><rect x="354.9" y="197.4" width="0.8" height="0.8" fill="#d0d0d0" opacity="0.6"/><rect x="321.8" y="209.9" width="0.8" height="0.8" fill="#bcbcbc" opacity="0.9"/><rect x="331.2" y="205.4" width="1.1" height="1.1" fill="#b8b8b8" opacity="0.6"/><rect x="339.1" y="212.3" width="0.8" height="0.8" fill="#d0d0d0" opacity="0.6"/><rect x="349.1" y="195.1" width="1.1" height="1.1" fill="#b8b8b8" opacity="0.6"/><rect x="325.5" y="226.5" width="0.8" height="0.8" fill="#ffffff" opacity="0.9"/><rect x="323.6" y="208.7" width="0.8" height="0.8" fill="#ffffff" opacity="0.9"/><rect x="304.1" y="217.3" width="0.8" height="0.8" fill="#ffffff" opacity="0.9"/><rect x="369.5" y="215.9" width="0.8" height="0.8" fill="#d0d0d0" opacity="0.6"/><rect x="334.1" y="198.7" width="0.8" height="0.8" fill="#b8b8b8" opacity="0.6"/><rect x="340.8" y="222.1" width="0.8" height="0.8" fill="#d0d0d0" opacity="0.6"/><rect x="365.9" y="192.6" width="1.4" height="1.4" fill="#d0d0d0" opacity="0.6"/><rect x="353.6" y="225.1" width="1.4" height="1.4" fill="#d0d0d0" opacity="0.6"/><rect x="299.5" y="221.9" width="1.4" height="1.4" fill="#bcbcbc" opacity="0.9"/><rect x="346.3" y="221.5" width="1.4" height="1.4" fill="#d0d0d0" opacity="0.6"/><rect x="326.0" y="216.2" width="0.8" height="0.8" fill="#bcbcbc" opacity="0.9"/><rect x="285.4" y="226.8" width="1.1" height="1.1" fill="#ffffff" opacity="0.9"/><rect x="337.2" y="210.9" width="1.1" height="1.1" fill="#b8b8b8" opacity="0.6"/><rect x="333.4" y="219.9" width="1.4" height="1.4" fill="#d0d0d0" opacity="0.6"/><rect x="297.6" y="223.5" width="1.1" height="1.1" fill="#ffffff" opacity="0.9"/><rect x="307.1" y="226.6" width="0.8" height="0.8" fill="#bcbcbc" opacity="0.9"/><rect x="369.3" y="222.7" width="1.4" height="1.4" fill="#b8b8b8" opacity="0.6"/><rect x="326.8" y="225.0" width="1.1" height="1.1" fill="#bcbcbc" opacity="0.9"/><rect x="342.3" y="225.3" width="1.4" height="1.4" fill="#b8b8b8" opacity="0.6"/><rect x="343.9" y="222.7" width="1.1" height="1.1" fill="#d0d0d0" opacity="0.6"/><rect x="355.7" y="226.4" width="0.8" height="0.8" fill="#b8b8b8" opacity="0.6"/><rect x="372.1" y="225.2" width="1.4" height="1.4" fill="#b8b8b8" opacity="0.6"/><rect x="303.2" y="217.0" width="0.8" height="0.8" fill="#ffffff" opacity="0.9"/><rect x="346.1" y="201.1" width="1.1" height="1.1" fill="#d0d0d0" opacity="0.6"/><rect x="363.0" y="209.4" width="1.1" height="1.1" fill="#d0d0d0" opacity="0.6"/><rect x="341.4" y="221.6" width="0.8" height="0.8" fill="#d0d0d0" opacity="0.6"/><rect x="351.4" y="192.6" width="1.4" height="1.4" fill="#b8b8b8" opacity="0.6"/><rect x="354.9" y="217.1" width="0.8" height="0.8" fill="#d0d0d0" opacity="0.6"/><rect x="333.9" y="207.6" width="0.8" height="0.8" fill="#d0d0d0" opacity="0.6"/><rect x="367.0" y="223.6" width="1.1" height="1.1" fill="#b8b8b8" opacity="0.6"/><rect x="326.7" y="203.3" width="1.4" height="1.4" fill="#b8b8b8" opacity="0.6"/><rect x="342.4" y="192.6" width="1.4" height="1.4" fill="#b8b8b8" opacity="0.6"/><rect x="362.1" y="203.8" width="1.1" height="1.1" fill="#b8b8b8" opacity="0.6"/><rect x="343.7" y="216.0" width="1.1" height="1.1" fill="#d0d0d0" opacity="0.6"/><rect x="340.5" y="192.8" width="1.4" height="1.4" fill="#d0d0d0" opacity="0.6"/><rect x="343.8" y="210.1" width="1.1" height="1.1" fill="#d0d0d0" opacity="0.6"/><rect x="352.0" y="225.8" width="1.1" height="1.1" fill="#d0d0d0" opacity="0.6"/><rect x="356.3" y="197.9" width="1.1" height="1.1" fill="#b8b8b8" opacity="0.6"/><rect x="321.1" y="205.7" width="1.4" height="1.4" fill="#ffffff" opacity="0.9"/><rect x="347.9" y="216.9" width="1.4" height="1.4" fill="#d0d0d0" opacity="0.6"/><rect x="326.5" y="219.5" width="1.4" height="1.4" fill="#ffffff" opacity="0.9"/><rect x="341.5" y="215.7" width="1.1" height="1.1" fill="#d0d0d0" opacity="0.6"/><rect x="306.8" y="222.3" width="1.4" height="1.4" fill="#ffffff" opacity="0.9"/><rect x="321.3" y="209.4" width="1.4" height="1.4" fill="#bcbcbc" opacity="0.9"/><rect x="326.2" y="218.4" width="0.8" height="0.8" fill="#ffffff" opacity="0.9"/><rect x="302.5" y="223.1" width="0.8" height="0.8" fill="#ffffff" opacity="0.9"/><rect x="344.9" y="194.7" width="1.1" height="1.1" fill="#b8b8b8" opacity="0.6"/><rect x="323.9" y="219.6" width="0.8" height="0.8" fill="#bcbcbc" opacity="0.9"/><rect x="359.6" y="219.6" width="0.8" height="0.8" fill="#d0d0d0" opacity="0.6"/><rect x="326.8" y="215.2" width="1.4" height="1.4" fill="#ffffff" opacity="0.9"/><rect x="332.9" y="215.5" width="1.1" height="1.1" fill="#d0d0d0" opacity="0.6"/><rect x="316.6" y="224.4" width="1.4" height="1.4" fill="#ffffff" opacity="0.9"/><rect x="316.6" y="222.0" width="1.4" height="1.4" fill="#bcbcbc" opacity="0.9"/><rect x="328.4" y="204.2" width="0.8" height="0.8" fill="#d0d0d0" opacity="0.6"/><rect x="317.5" y="211.3" width="1.1" height="1.1" fill="#ffffff" opacity="0.9"/><rect x="310.7" y="223.0" width="1.4" height="1.4" fill="#ffffff" opacity="0.9"/><rect x="351.2" y="217.8" width="0.8" height="0.8" fill="#d0d0d0" opacity="0.6"/><rect x="316.8" y="211.4" width="1.4" height="1.4" fill="#ffffff" opacity="0.9"/><rect x="360.1" y="213.3" width="1.4" height="1.4" fill="#d0d0d0" opacity="0.6"/><rect x="358.4" y="218.9" width="1.4" height="1.4" fill="#b8b8b8" opacity="0.6"/><rect x="352.0" y="216.2" width="0.8" height="0.8" fill="#b8b8b8" opacity="0.6"/><rect x="365.2" y="216.6" width="1.1" height="1.1" fill="#b8b8b8" opacity="0.6"/><rect x="349.6" y="215.5" width="0.8" height="0.8" fill="#b8b8b8" opacity="0.6"/><rect x="340.4" y="198.5" width="0.8" height="0.8" fill="#b8b8b8" opacity="0.6"/><rect x="312.3" y="223.8" width="1.1" height="1.1" fill="#bcbcbc" opacity="0.9"/><rect x="369.2" y="226.7" width="0.8" height="0.8" fill="#d0d0d0" opacity="0.6"/><rect x="371.8" y="215.8" width="1.1" height="1.1" fill="#d0d0d0" opacity="0.6"/><rect x="350.0" y="213.4" width="0.8" height="0.8" fill="#b8b8b8" opacity="0.6"/><rect x="348.2" y="216.4" width="1.1" height="1.1" fill="#b8b8b8" opacity="0.6"/><rect x="336.0" y="195.5" width="0.8" height="0.8" fill="#b8b8b8" opacity="0.6"/><rect x="340.2" y="207.8" width="0.8" height="0.8" fill="#b8b8b8" opacity="0.6"/><rect x="362.0" y="203.2" width="1.1" height="1.1" fill="#d0d0d0" opacity="0.6"/><rect x="359.4" y="182.7" width="1.4" height="1.4" fill="#d0d0d0" opacity="0.6"/><rect x="372.8" y="223.0" width="1.1" height="1.1" fill="#b8b8b8" opacity="0.6"/><rect x="357.5" y="224.7" width="0.8" height="0.8" fill="#d0d0d0" opacity="0.6"/><rect x="286.2" y="226.0" width="1.1" height="1.1" fill="#ffffff" opacity="0.9"/><rect x="355.2" y="206.5" width="1.4" height="1.4" fill="#d0d0d0" opacity="0.6"/><rect x="344.4" y="210.4" width="1.1" height="1.1" fill="#d0d0d0" opacity="0.6"/><rect x="348.1" y="219.5" width="1.1" height="1.1" fill="#d0d0d0" opacity="0.6"/><rect x="331.2" y="210.3" width="1.4" height="1.4" fill="#d0d0d0" opacity="0.6"/><rect x="357.1" y="201.5" width="1.4" height="1.4" fill="#d0d0d0" opacity="0.6"/><rect x="309.6" y="216.8" width="1.4" height="1.4" fill="#bcbcbc" opacity="0.9"/><rect x="312.4" y="215.4" width="0.8" height="0.8" fill="#ffffff" opacity="0.9"/><rect x="332.8" y="198.4" width="1.1" height="1.1" fill="#d0d0d0" opacity="0.6"/><rect x="284.8" y="224.6" width="0.8" height="0.8" fill="#bcbcbc" opacity="0.9"/><rect x="340.8" y="214.3" width="0.8" height="0.8" fill="#d0d0d0" opacity="0.6"/><rect x="357.9" y="220.7" width="1.1" height="1.1" fill="#b8b8b8" opacity="0.6"/><rect x="302.0" y="223.0" width="1.1" height="1.1" fill="#bcbcbc" opacity="0.9"/><rect x="354.0" y="207.7" width="1.1" height="1.1" fill="#b8b8b8" opacity="0.6"/><rect x="348.5" y="225.0" width="0.8" height="0.8" fill="#b8b8b8" opacity="0.6"/><rect x="324.7" y="211.7" width="0.8" height="0.8" fill="#bcbcbc" opacity="0.9"/><rect x="357.0" y="199.7" width="1.1" height="1.1" fill="#d0d0d0" opacity="0.6"/><rect x="343.3" y="202.4" width="1.4" height="1.4" fill="#b8b8b8" opacity="0.6"/><rect x="313.7" y="221.9" width="1.4" height="1.4" fill="#ffffff" opacity="0.9"/><rect x="364.2" y="190.5" width="1.4" height="1.4" fill="#b8b8b8" opacity="0.6"/><rect x="350.7" y="198.4" width="1.1" height="1.1" fill="#b8b8b8" opacity="0.6"/><rect x="359.4" y="212.1" width="1.1" height="1.1" fill="#b8b8b8" opacity="0.6"/><rect x="317.7" y="226.2" width="0.8" height="0.8" fill="#ffffff" opacity="0.9"/><rect x="350.1" y="204.9" width="1.4" height="1.4" fill="#b8b8b8" opacity="0.6"/><rect x="358.7" y="216.3" width="0.8" height="0.8" fill="#d0d0d0" opacity="0.6"/><rect x="361.7" y="204.5" width="0.8" height="0.8" fill="#b8b8b8" opacity="0.6"/><rect x="324.6" y="225.4" width="1.4" height="1.4" fill="#ffffff" opacity="0.9"/><rect x="325.3" y="223.1" width="1.1" height="1.1" fill="#bcbcbc" opacity="0.9"/><rect x="334.2" y="226.7" width="1.1" height="1.1" fill="#d0d0d0" opacity="0.6"/><rect x="368.9" y="226.4" width="1.4" height="1.4" fill="#d0d0d0" opacity="0.6"/><rect x="316.7" y="221.7" width="1.1" height="1.1" fill="#ffffff" opacity="0.9"/><rect x="359.8" y="223.7" width="0.8" height="0.8" fill="#b8b8b8" opacity="0.6"/><rect x="336.5" y="202.3" width="1.1" height="1.1" fill="#b8b8b8" opacity="0.6"/><rect x="286.8" y="227.2" width="1.1" height="1.1" fill="#ffffff" opacity="0.9"/><rect x="304.9" y="214.3" width="1.4" height="1.4" fill="#ffffff" opacity="0.9"/><rect x="344.6" y="195.1" width="1.1" height="1.1" fill="#b8b8b8" opacity="0.6"/><rect x="338.1" y="202.0" width="1.1" height="1.1" fill="#b8b8b8" opacity="0.6"/><rect x="369.7" y="217.0" width="1.1" height="1.1" fill="#b8b8b8" opacity="0.6"/><rect x="364.2" y="216.4" width="1.4" height="1.4" fill="#d0d0d0" opacity="0.6"/><rect x="299.8" y="226.4" width="1.1" height="1.1" fill="#bcbcbc" opacity="0.9"/><rect x="334.5" y="212.5" width="1.4" height="1.4" fill="#d0d0d0" opacity="0.6"/><rect x="347.8" y="198.6" width="1.4" height="1.4" fill="#d0d0d0" opacity="0.6"/><rect x="321.9" y="219.7" width="1.4" height="1.4" fill="#bcbcbc" opacity="0.9"/><rect x="369.7" y="220.0" width="0.8" height="0.8" fill="#d0d0d0" opacity="0.6"/><rect x="314.9" y="207.9" width="0.8" height="0.8" fill="#bcbcbc" opacity="0.9"/><rect x="318.5" y="212.1" width="1.1" height="1.1" fill="#bcbcbc" opacity="0.9"/><rect x="367.6" y="215.2" width="1.1" height="1.1" fill="#b8b8b8" opacity="0.6"/><rect x="343.4" y="214.7" width="1.4" height="1.4" fill="#b8b8b8" opacity="0.6"/><rect x="327.7" y="205.9" width="1.1" height="1.1" fill="#d0d0d0" opacity="0.6"/><rect x="361.4" y="203.2" width="1.4" height="1.4" fill="#b8b8b8" opacity="0.6"/><rect x="362.4" y="195.7" width="0.8" height="0.8" fill="#d0d0d0" opacity="0.6"/><rect x="359.3" y="192.7" width="1.4" height="1.4" fill="#d0d0d0" opacity="0.6"/><rect x="337.7" y="200.4" width="1.4" height="1.4" fill="#b8b8b8" opacity="0.6"/><rect x="320.4" y="225.3" width="1.1" height="1.1" fill="#ffffff" opacity="0.9"/><rect x="367.0" y="212.8" width="1.4" height="1.4" fill="#b8b8b8" opacity="0.6"/><rect x="337.8" y="222.9" width="0.8" height="0.8" fill="#b8b8b8" opacity="0.6"/><rect x="365.1" y="220.2" width="1.4" height="1.4" fill="#b8b8b8" opacity="0.6"/><rect x="339.6" y="211.3" width="0.8" height="0.8" fill="#d0d0d0" opacity="0.6"/><rect x="369.4" y="218.0" width="0.8" height="0.8" fill="#b8b8b8" opacity="0.6"/><rect x="354.8" y="223.4" width="1.1" height="1.1" fill="#d0d0d0" opacity="0.6"/><rect x="361.3" y="214.2" width="1.4" height="1.4" fill="#b8b8b8" opacity="0.6"/><rect x="370.0" y="219.3" width="1.1" height="1.1" fill="#d0d0d0" opacity="0.6"/><rect x="344.5" y="225.2" width="1.4" height="1.4" fill="#d0d0d0" opacity="0.6"/><rect x="331.1" y="220.6" width="1.4" height="1.4" fill="#bcbcbc" opacity="0.9"/><rect x="301.7" y="220.7" width="0.8" height="0.8" fill="#ffffff" opacity="0.9"/><rect x="321.8" y="221.8" width="0.8" height="0.8" fill="#ffffff" opacity="0.9"/><rect x="319.7" y="227.4" width="1.1" height="1.1" fill="#ffffff" opacity="0.9"/><rect x="321.1" y="207.0" width="1.1" height="1.1" fill="#ffffff" opacity="0.9"/><rect x="324.0" y="227.2" width="1.1" height="1.1" fill="#bcbcbc" opacity="0.9"/><rect x="340.6" y="211.5" width="0.8" height="0.8" fill="#b8b8b8" opacity="0.6"/><rect x="322.5" y="226.6" width="1.1" height="1.1" fill="#ffffff" opacity="0.9"/><rect x="368.0" y="209.0" width="1.1" height="1.1" fill="#d0d0d0" opacity="0.6"/><rect x="346.8" y="197.3" width="1.4" height="1.4" fill="#d0d0d0" opacity="0.6"/><rect x="336.7" y="203.2" width="1.1" height="1.1" fill="#d0d0d0" opacity="0.6"/><rect x="355.4" y="188.6" width="1.1" height="1.1" fill="#d0d0d0" opacity="0.6"/><rect x="300.4" y="225.1" width="1.4" height="1.4" fill="#bcbcbc" opacity="0.9"/><rect x="369.7" y="202.9" width="0.8" height="0.8" fill="#d0d0d0" opacity="0.6"/><rect x="330.7" y="202.2" width="0.8" height="0.8" fill="#d0d0d0" opacity="0.6"/><rect x="349.8" y="203.4" width="0.8" height="0.8" fill="#d0d0d0" opacity="0.6"/><rect x="313.2" y="222.1" width="1.4" height="1.4" fill="#bcbcbc" opacity="0.9"/><rect x="369.8" y="220.7" width="1.1" height="1.1" fill="#b8b8b8" opacity="0.6"/><rect x="355.6" y="226.5" width="1.1" height="1.1" fill="#b8b8b8" opacity="0.6"/><rect x="346.7" y="219.3" width="0.8" height="0.8" fill="#d0d0d0" opacity="0.6"/><rect x="355.4" y="216.0" width="1.1" height="1.1" fill="#d0d0d0" opacity="0.6"/><rect x="342.8" y="199.1" width="0.8" height="0.8" fill="#d0d0d0" opacity="0.6"/><rect x="344.7" y="190.2" width="1.1" height="1.1" fill="#d0d0d0" opacity="0.6"/><rect x="357.8" y="212.2" width="0.8" height="0.8" fill="#b8b8b8" opacity="0.6"/><rect x="348.8" y="199.3" width="0.8" height="0.8" fill="#d0d0d0" opacity="0.6"/><rect x="341.4" y="211.4" width="1.1" height="1.1" fill="#d0d0d0" opacity="0.6"/><rect x="341.0" y="220.1" width="0.8" height="0.8" fill="#d0d0d0" opacity="0.6"/><rect x="347.9" y="195.7" width="1.1" height="1.1" fill="#b8b8b8" opacity="0.6"/><rect x="342.9" y="198.0" width="1.4" height="1.4" fill="#d0d0d0" opacity="0.6"/><rect x="336.0" y="199.8" width="0.8" height="0.8" fill="#d0d0d0" opacity="0.6"/><rect x="335.2" y="209.1" width="1.1" height="1.1" fill="#d0d0d0" opacity="0.6"/><rect x="345.5" y="212.5" width="1.1" height="1.1" fill="#b8b8b8" opacity="0.6"/><rect x="323.5" y="214.2" width="1.1" height="1.1" fill="#ffffff" opacity="0.9"/><rect x="348.6" y="202.5" width="1.1" height="1.1" fill="#b8b8b8" opacity="0.6"/><rect x="336.9" y="203.3" width="0.8" height="0.8" fill="#b8b8b8" opacity="0.6"/><rect x="310.3" y="222.6" width="1.4" height="1.4" fill="#bcbcbc" opacity="0.9"/><rect x="362.4" y="211.5" width="1.1" height="1.1" fill="#d0d0d0" opacity="0.6"/><rect x="294.7" y="223.4" width="1.4" height="1.4" fill="#ffffff" opacity="0.9"/><rect x="307.8" y="224.5" width="1.4" height="1.4" fill="#ffffff" opacity="0.9"/><rect x="323.8" y="203.0" width="1.1" height="1.1" fill="#ffffff" opacity="0.9"/><rect x="321.3" y="207.9" width="0.8" height="0.8" fill="#bcbcbc" opacity="0.9"/><rect x="368.4" y="201.5" width="1.4" height="1.4" fill="#d0d0d0" opacity="0.6"/><rect x="344.8" y="195.9" width="0.8" height="0.8" fill="#d0d0d0" opacity="0.6"/><rect x="350.0" y="219.5" width="1.4" height="1.4" fill="#b8b8b8" opacity="0.6"/><rect x="355.8" y="215.8" width="1.4" height="1.4" fill="#d0d0d0" opacity="0.6"/><rect x="327.1" y="212.5" width="1.1" height="1.1" fill="#bcbcbc" opacity="0.9"/><rect x="351.8" y="207.8" width="0.8" height="0.8" fill="#b8b8b8" opacity="0.6"/><rect x="345.1" y="219.5" width="0.8" height="0.8" fill="#d0d0d0" opacity="0.6"/><rect x="364.0" y="214.5" width="1.1" height="1.1" fill="#d0d0d0" opacity="0.6"/><rect x="333.4" y="200.4" width="1.1" height="1.1" fill="#b8b8b8" opacity="0.6"/><rect x="351.5" y="218.3" width="1.1" height="1.1" fill="#b8b8b8" opacity="0.6"/><rect x="323.0" y="207.8" width="1.4" height="1.4" fill="#bcbcbc" opacity="0.9"/><rect x="312.8" y="217.7" width="0.8" height="0.8" fill="#bcbcbc" opacity="0.9"/><rect x="349.5" y="224.5" width="1.4" height="1.4" fill="#d0d0d0" opacity="0.6"/><rect x="324.9" y="212.3" width="0.8" height="0.8" fill="#ffffff" opacity="0.9"/><rect x="316.6" y="214.4" width="1.1" height="1.1" fill="#bcbcbc" opacity="0.9"/><rect x="309.1" y="220.0" width="1.4" height="1.4" fill="#ffffff" opacity="0.9"/><rect x="333.8" y="200.1" width="1.1" height="1.1" fill="#d0d0d0" opacity="0.6"/><rect x="339.5" y="215.5" width="1.4" height="1.4" fill="#b8b8b8" opacity="0.6"/><rect x="371.1" y="213.7" width="1.4" height="1.4" fill="#b8b8b8" opacity="0.6"/><rect x="346.6" y="220.8" width="0.8" height="0.8" fill="#b8b8b8" opacity="0.6"/><rect x="351.3" y="186.5" width="1.1" height="1.1" fill="#d0d0d0" opacity="0.6"/><rect x="304.9" y="218.1" width="0.8" height="0.8" fill="#bcbcbc" opacity="0.9"/><rect x="361.8" y="189.2" width="1.1" height="1.1" fill="#b8b8b8" opacity="0.6"/><rect x="342.2" y="216.5" width="1.4" height="1.4" fill="#d0d0d0" opacity="0.6"/><rect x="355.3" y="191.8" width="1.4" height="1.4" fill="#b8b8b8" opacity="0.6"/><rect x="318.3" y="224.3" width="1.4" height="1.4" fill="#ffffff" opacity="0.9"/><rect x="337.9" y="199.2" width="1.4" height="1.4" fill="#d0d0d0" opacity="0.6"/><rect x="358.4" y="218.2" width="1.1" height="1.1" fill="#b8b8b8" opacity="0.6"/><rect x="330.0" y="225.2" width="0.8" height="0.8" fill="#ffffff" opacity="0.9"/><rect x="289.9" y="225.1" width="1.1" height="1.1" fill="#ffffff" opacity="0.9"/><rect x="338.5" y="207.3" width="0.8" height="0.8" fill="#d0d0d0" opacity="0.6"/><rect x="368.6" y="208.4" width="0.8" height="0.8" fill="#d0d0d0" opacity="0.6"/><rect x="307.3" y="216.7" width="1.4" height="1.4" fill="#bcbcbc" opacity="0.9"/><rect x="307.2" y="220.9" width="0.8" height="0.8" fill="#bcbcbc" opacity="0.9"/><circle cx="373.20" cy="227.40" r="26" fill="#f40f1c"/><rect x="352.5" y="219.2" width="1.1" height="1.1" fill="#fff" opacity="0.55"/><rect x="371.7" y="222.5" width="1.1" height="1.1" fill="#fff" opacity="0.55"/><rect x="371.7" y="223.7" width="1.1" height="1.1" fill="#fff" opacity="0.55"/><rect x="363.8" y="215.9" width="1.1" height="1.1" fill="#fff" opacity="0.55"/><rect x="365.6" y="218.6" width="1.1" height="1.1" fill="#fff" opacity="0.55"/><rect x="370.6" y="222.3" width="1.1" height="1.1" fill="#fff" opacity="0.55"/><rect x="365.9" y="222.4" width="1.1" height="1.1" fill="#fff" opacity="0.55"/><rect x="365.4" y="224.0" width="1.1" height="1.1" fill="#fff" opacity="0.55"/><rect x="365.7" y="218.3" width="1.1" height="1.1" fill="#fff" opacity="0.55"/><rect x="367.1" y="217.3" width="1.1" height="1.1" fill="#fff" opacity="0.55"/><rect x="359.4" y="216.0" width="1.1" height="1.1" fill="#fff" opacity="0.55"/><rect x="368.3" y="217.8" width="1.1" height="1.1" fill="#fff" opacity="0.55"/><rect x="352.6" y="220.5" width="1.1" height="1.1" fill="#fff" opacity="0.55"/><rect x="366.6" y="224.8" width="1.1" height="1.1" fill="#fff" opacity="0.55"/><rect x="356.4" y="221.6" width="1.1" height="1.1" fill="#fff" opacity="0.55"/><rect x="371.2" y="216.5" width="1.1" height="1.1" fill="#fff" opacity="0.55"/><rect x="361.2" y="215.1" width="1.1" height="1.1" fill="#fff" opacity="0.55"/><rect x="368.3" y="219.2" width="1.1" height="1.1" fill="#fff" opacity="0.55"/><rect x="357.9" y="219.3" width="1.1" height="1.1" fill="#fff" opacity="0.55"/><rect x="366.1" y="225.1" width="1.1" height="1.1" fill="#fff" opacity="0.55"/><rect x="361.2" y="216.8" width="1.1" height="1.1" fill="#fff" opacity="0.55"/><rect x="355.6" y="223.1" width="1.1" height="1.1" fill="#fff" opacity="0.55"/><rect x="371.8" y="222.4" width="1.1" height="1.1" fill="#fff" opacity="0.55"/><rect x="358.2" y="225.4" width="1.1" height="1.1" fill="#fff" opacity="0.55"/><rect x="352.4" y="220.2" width="1.1" height="1.1" fill="#fff" opacity="0.55"/><rect x="373.1" y="218.7" width="1.1" height="1.1" fill="#fff" opacity="0.55"/><rect x="367.5" y="217.2" width="1.1" height="1.1" fill="#fff" opacity="0.55"/><rect x="349.6" y="223.5" width="1.1" height="1.1" fill="#fff" opacity="0.55"/><rect x="366.0" y="226.2" width="1.1" height="1.1" fill="#fff" opacity="0.55"/><rect x="368.4" y="224.9" width="1.1" height="1.1" fill="#fff" opacity="0.55"/></g>
<circle cx="313.0" cy="208.6" r="2.0" fill="#000"/>
<circle cx="319.7" cy="204.7" r="2.0" fill="#000"/>
<circle cx="314.1" cy="226.6" r="2.0" fill="#000"/>
<circle cx="332.9" cy="226.6" r="2.0" fill="#000"/>
<text class="s" x="281.8" y="236.0" font-size="8.2" font-weight="bold" letter-spacing="1.6" text-anchor="middle" fill="#707070">0001</text>
<text class="s" x="375.5" y="236.0" font-size="8.2" font-weight="bold" letter-spacing="1.6" text-anchor="middle" fill="#666">2110</text>
<text class="s" x="359.9" y="177.4" font-size="8.2" font-weight="bold" letter-spacing="1.6" text-anchor="middle" fill="#6a6a6a">1010</text>
<text class="r" x="311.5" y="236.8" font-size="8.6" font-weight="bold" text-anchor="middle" fill="#666">2114</text>
<text class="r" x="332.2" y="236.8" font-size="8.6" font-weight="bold" text-anchor="middle" fill="#666">2112</text>
<text class="r" x="303.1" y="206.8" font-size="8.6" font-weight="bold" text-anchor="middle" fill="#666">1012</text>
<text class="r" x="318.9" y="200.2" font-size="8.6" font-weight="bold" text-anchor="middle" fill="#666">2023</text>
<line x1="308.2" y1="229.6" x2="310.8" y2="229.6" stroke="#999" stroke-width="0.6"/>
<line x1="312.2" y1="229.6" x2="314.8" y2="229.6" stroke="#999" stroke-width="0.6"/>
<line x1="328.9" y1="229.6" x2="331.5" y2="229.6" stroke="#999" stroke-width="0.6"/>
<line x1="332.9" y1="229.6" x2="335.5" y2="229.6" stroke="#999" stroke-width="0.6"/>
<line x1="303.8" y1="200.1" x2="306.4" y2="200.1" stroke="#999" stroke-width="0.6"/>
<line x1="319.6" y1="193.5" x2="322.2" y2="193.5" stroke="#999" stroke-width="0.6"/>
<text class="s" transform="translate(285.1,193.2) scale(0.95,1)" font-size="17" fill="#111">ED</text>
<defs><radialGradient id="rg497" gradientUnits="userSpaceOnUse" cx="497.4" cy="127.0" r="93.3"><stop offset="0" stop-color="#fcfcfc"/><stop offset="0.32" stop-color="#eeeeee"/><stop offset="0.52" stop-color="#d8d8d8"/><stop offset="0.66" stop-color="#c6c6c6"/><stop offset="1" stop-color="#c0c0c0"/></radialGradient><clipPath id="cp497"><path d="M497.40,127.00 L590.70,127.00 A93.3,93.3 0 0 0 578.20,80.35 Z"/></clipPath></defs>
<path d="M497.40,127.00 L590.70,127.00 A93.3,93.3 0 0 0 578.20,80.35 Z" fill="url(#rg497)" stroke="#b4b4b4" stroke-width="0.6"/>
<g clip-path="url(#cp497)"><rect x="560.6" y="113.2" width="0.8" height="0.8" fill="#d0d0d0" opacity="0.6"/><rect x="576.3" y="92.9" width="1.4" height="1.4" fill="#d0d0d0" opacity="0.6"/><rect x="548.8" y="109.4" width="1.1" height="1.1" fill="#d0d0d0" opacity="0.6"/><rect x="569.8" y="107.4" width="1.1" height="1.1" fill="#d0d0d0" opacity="0.6"/><rect x="578.1" y="108.5" width="0.8" height="0.8" fill="#d0d0d0" opacity="0.6"/><rect x="507.6" y="126.5" width="0.8" height="0.8" fill="#bcbcbc" opacity="0.9"/><rect x="581.0" y="105.1" width="1.1" height="1.1" fill="#b8b8b8" opacity="0.6"/><rect x="578.8" y="101.2" width="1.4" height="1.4" fill="#d0d0d0" opacity="0.6"/><rect x="583.9" y="97.5" width="1.1" height="1.1" fill="#b8b8b8" opacity="0.6"/><rect x="520.3" y="120.3" width="1.1" height="1.1" fill="#ffffff" opacity="0.9"/><rect x="524.9" y="117.1" width="1.1" height="1.1" fill="#bcbcbc" opacity="0.9"/><rect x="576.8" y="101.3" width="0.8" height="0.8" fill="#b8b8b8" opacity="0.6"/><rect x="556.3" y="102.0" width="1.1" height="1.1" fill="#d0d0d0" opacity="0.6"/><rect x="579.6" y="97.2" width="1.1" height="1.1" fill="#b8b8b8" opacity="0.6"/><rect x="502.2" y="125.8" width="0.8" height="0.8" fill="#ffffff" opacity="0.9"/><rect x="561.2" y="123.5" width="1.4" height="1.4" fill="#b8b8b8" opacity="0.6"/><rect x="569.6" y="114.3" width="1.4" height="1.4" fill="#d0d0d0" opacity="0.6"/><rect x="580.3" y="109.4" width="1.4" height="1.4" fill="#b8b8b8" opacity="0.6"/><rect x="571.3" y="110.1" width="1.4" height="1.4" fill="#b8b8b8" opacity="0.6"/><rect x="568.3" y="121.6" width="1.4" height="1.4" fill="#d0d0d0" opacity="0.6"/><rect x="568.8" y="106.5" width="1.4" height="1.4" fill="#d0d0d0" opacity="0.6"/><rect x="573.3" y="121.1" width="1.4" height="1.4" fill="#b8b8b8" opacity="0.6"/><rect x="518.3" y="117.8" width="0.8" height="0.8" fill="#bcbcbc" opacity="0.9"/><rect x="534.9" y="121.8" width="1.4" height="1.4" fill="#ffffff" opacity="0.9"/><rect x="538.8" y="111.0" width="1.4" height="1.4" fill="#bcbcbc" opacity="0.9"/><rect x="575.1" y="101.1" width="0.8" height="0.8" fill="#b8b8b8" opacity="0.6"/><rect x="569.7" y="87.6" width="0.8" height="0.8" fill="#d0d0d0" opacity="0.6"/><rect x="574.6" y="85.0" width="0.8" height="0.8" fill="#b8b8b8" opacity="0.6"/><rect x="534.8" y="115.7" width="1.1" height="1.1" fill="#bcbcbc" opacity="0.9"/><rect x="510.0" y="125.2" width="1.1" height="1.1" fill="#ffffff" opacity="0.9"/><rect x="526.9" y="113.1" width="0.8" height="0.8" fill="#ffffff" opacity="0.9"/><rect x="558.5" y="94.8" width="0.8" height="0.8" fill="#d0d0d0" opacity="0.6"/><rect x="521.8" y="122.1" width="1.1" height="1.1" fill="#ffffff" opacity="0.9"/><rect x="514.2" y="118.7" width="1.1" height="1.1" fill="#ffffff" opacity="0.9"/><rect x="529.5" y="112.3" width="0.8" height="0.8" fill="#ffffff" opacity="0.9"/><rect x="579.8" y="89.8" width="0.8" height="0.8" fill="#b8b8b8" opacity="0.6"/><rect x="516.7" y="117.0" width="1.1" height="1.1" fill="#ffffff" opacity="0.9"/><rect x="572.5" y="94.8" width="1.4" height="1.4" fill="#b8b8b8" opacity="0.6"/><rect x="570.4" y="85.9" width="0.8" height="0.8" fill="#b8b8b8" opacity="0.6"/><rect x="546.3" y="108.7" width="1.4" height="1.4" fill="#ffffff" opacity="0.9"/><rect x="572.0" y="109.2" width="1.1" height="1.1" fill="#b8b8b8" opacity="0.6"/><rect x="535.3" y="114.4" width="1.1" height="1.1" fill="#bcbcbc" opacity="0.9"/><rect x="540.3" y="110.6" width="1.4" height="1.4" fill="#bcbcbc" opacity="0.9"/><rect x="538.8" y="120.3" width="0.8" height="0.8" fill="#ffffff" opacity="0.9"/><rect x="526.3" y="122.7" width="1.4" height="1.4" fill="#ffffff" opacity="0.9"/><rect x="581.4" y="120.0" width="0.8" height="0.8" fill="#d0d0d0" opacity="0.6"/><rect x="556.3" y="121.4" width="0.8" height="0.8" fill="#d0d0d0" opacity="0.6"/><rect x="578.3" y="123.1" width="1.4" height="1.4" fill="#d0d0d0" opacity="0.6"/><rect x="529.5" y="119.2" width="0.8" height="0.8" fill="#bcbcbc" opacity="0.9"/><rect x="555.4" y="113.1" width="0.8" height="0.8" fill="#d0d0d0" opacity="0.6"/><rect x="537.3" y="114.3" width="1.1" height="1.1" fill="#bcbcbc" opacity="0.9"/><rect x="576.8" y="104.3" width="1.4" height="1.4" fill="#b8b8b8" opacity="0.6"/><rect x="584.7" y="123.9" width="1.1" height="1.1" fill="#d0d0d0" opacity="0.6"/><rect x="577.1" y="118.0" width="1.1" height="1.1" fill="#d0d0d0" opacity="0.6"/><rect x="533.6" y="109.1" width="1.1" height="1.1" fill="#ffffff" opacity="0.9"/><rect x="570.9" y="123.5" width="0.8" height="0.8" fill="#d0d0d0" opacity="0.6"/><rect x="560.6" y="96.3" width="1.1" height="1.1" fill="#d0d0d0" opacity="0.6"/><rect x="555.6" y="119.9" width="1.4" height="1.4" fill="#b8b8b8" opacity="0.6"/><rect x="533.4" y="118.7" width="0.8" height="0.8" fill="#ffffff" opacity="0.9"/><rect x="549.6" y="102.5" width="1.1" height="1.1" fill="#d0d0d0" opacity="0.6"/><rect x="528.4" y="116.3" width="1.4" height="1.4" fill="#ffffff" opacity="0.9"/><rect x="555.6" y="122.2" width="1.1" height="1.1" fill="#b8b8b8" opacity="0.6"/><rect x="546.1" y="115.4" width="1.1" height="1.1" fill="#ffffff" opacity="0.9"/><rect x="577.4" y="92.6" width="1.4" height="1.4" fill="#d0d0d0" opacity="0.6"/><rect x="588.8" y="120.3" width="1.1" height="1.1" fill="#b8b8b8" opacity="0.6"/><rect x="582.5" y="108.3" width="0.8" height="0.8" fill="#d0d0d0" opacity="0.6"/><rect x="563.4" y="109.4" width="0.8" height="0.8" fill="#d0d0d0" opacity="0.6"/><rect x="508.9" y="120.4" width="1.4" height="1.4" fill="#ffffff" opacity="0.9"/><rect x="574.8" y="95.8" width="0.8" height="0.8" fill="#b8b8b8" opacity="0.6"/><rect x="589.1" y="112.0" width="0.8" height="0.8" fill="#d0d0d0" opacity="0.6"/><rect x="560.7" y="95.2" width="1.1" height="1.1" fill="#b8b8b8" opacity="0.6"/><rect x="553.7" y="123.8" width="0.8" height="0.8" fill="#d0d0d0" opacity="0.6"/><rect x="526.6" y="114.9" width="1.1" height="1.1" fill="#bcbcbc" opacity="0.9"/><rect x="564.0" y="104.1" width="0.8" height="0.8" fill="#b8b8b8" opacity="0.6"/><rect x="566.2" y="106.9" width="1.1" height="1.1" fill="#d0d0d0" opacity="0.6"/><rect x="547.6" y="98.0" width="1.4" height="1.4" fill="#d0d0d0" opacity="0.6"/><rect x="585.7" y="100.2" width="0.8" height="0.8" fill="#b8b8b8" opacity="0.6"/><rect x="581.5" y="124.5" width="1.1" height="1.1" fill="#b8b8b8" opacity="0.6"/><rect x="584.7" y="116.1" width="1.1" height="1.1" fill="#d0d0d0" opacity="0.6"/><rect x="563.2" y="108.2" width="0.8" height="0.8" fill="#b8b8b8" opacity="0.6"/><rect x="536.0" y="122.8" width="0.8" height="0.8" fill="#ffffff" opacity="0.9"/><rect x="578.7" y="89.8" width="1.1" height="1.1" fill="#d0d0d0" opacity="0.6"/><rect x="532.0" y="121.1" width="1.1" height="1.1" fill="#ffffff" opacity="0.9"/><rect x="516.3" y="122.1" width="0.8" height="0.8" fill="#bcbcbc" opacity="0.9"/><rect x="552.4" y="105.0" width="1.1" height="1.1" fill="#d0d0d0" opacity="0.6"/><rect x="542.2" y="122.6" width="0.8" height="0.8" fill="#ffffff" opacity="0.9"/><rect x="569.1" y="88.3" width="1.1" height="1.1" fill="#b8b8b8" opacity="0.6"/><rect x="529.2" y="114.5" width="1.1" height="1.1" fill="#bcbcbc" opacity="0.9"/><rect x="520.9" y="123.2" width="1.1" height="1.1" fill="#bcbcbc" opacity="0.9"/><rect x="561.7" y="104.7" width="0.8" height="0.8" fill="#b8b8b8" opacity="0.6"/><rect x="552.2" y="108.6" width="1.1" height="1.1" fill="#d0d0d0" opacity="0.6"/><rect x="553.3" y="99.7" width="1.4" height="1.4" fill="#b8b8b8" opacity="0.6"/><rect x="548.3" y="120.8" width="1.4" height="1.4" fill="#ffffff" opacity="0.9"/><rect x="537.7" y="113.1" width="1.4" height="1.4" fill="#bcbcbc" opacity="0.9"/><rect x="561.7" y="97.8" width="1.1" height="1.1" fill="#d0d0d0" opacity="0.6"/><rect x="580.3" y="101.2" width="0.8" height="0.8" fill="#b8b8b8" opacity="0.6"/><rect x="570.9" y="101.8" width="1.4" height="1.4" fill="#d0d0d0" opacity="0.6"/><rect x="536.4" y="110.0" width="1.4" height="1.4" fill="#bcbcbc" opacity="0.9"/><rect x="534.6" y="106.0" width="1.1" height="1.1" fill="#bcbcbc" opacity="0.9"/><rect x="539.7" y="116.3" width="0.8" height="0.8" fill="#bcbcbc" opacity="0.9"/><rect x="544.6" y="109.2" width="0.8" height="0.8" fill="#bcbcbc" opacity="0.9"/><rect x="555.0" y="103.7" width="1.4" height="1.4" fill="#b8b8b8" opacity="0.6"/><rect x="545.6" y="114.3" width="0.8" height="0.8" fill="#bcbcbc" opacity="0.9"/><rect x="538.3" y="120.3" width="1.1" height="1.1" fill="#ffffff" opacity="0.9"/><rect x="542.5" y="103.6" width="0.8" height="0.8" fill="#bcbcbc" opacity="0.9"/><rect x="533.4" y="112.5" width="0.8" height="0.8" fill="#ffffff" opacity="0.9"/><rect x="560.1" y="92.4" width="1.1" height="1.1" fill="#d0d0d0" opacity="0.6"/><rect x="563.7" y="117.6" width="1.1" height="1.1" fill="#b8b8b8" opacity="0.6"/><rect x="543.3" y="108.0" width="1.4" height="1.4" fill="#bcbcbc" opacity="0.9"/><rect x="548.9" y="108.5" width="1.4" height="1.4" fill="#d0d0d0" opacity="0.6"/><rect x="550.2" y="118.0" width="0.8" height="0.8" fill="#b8b8b8" opacity="0.6"/><rect x="544.5" y="118.5" width="1.4" height="1.4" fill="#bcbcbc" opacity="0.9"/><rect x="549.3" y="126.6" width="1.1" height="1.1" fill="#ffffff" opacity="0.9"/><rect x="550.7" y="108.5" width="1.1" height="1.1" fill="#d0d0d0" opacity="0.6"/><rect x="536.6" y="121.8" width="1.4" height="1.4" fill="#bcbcbc" opacity="0.9"/><rect x="562.1" y="114.4" width="1.4" height="1.4" fill="#b8b8b8" opacity="0.6"/><rect x="575.5" y="112.8" width="1.4" height="1.4" fill="#b8b8b8" opacity="0.6"/><rect x="565.2" y="109.8" width="1.1" height="1.1" fill="#b8b8b8" opacity="0.6"/><rect x="543.1" y="120.8" width="1.4" height="1.4" fill="#ffffff" opacity="0.9"/><rect x="577.6" y="86.8" width="0.8" height="0.8" fill="#d0d0d0" opacity="0.6"/><rect x="564.7" y="122.4" width="1.4" height="1.4" fill="#b8b8b8" opacity="0.6"/><rect x="550.8" y="112.7" width="1.4" height="1.4" fill="#d0d0d0" opacity="0.6"/><rect x="572.9" y="117.8" width="1.4" height="1.4" fill="#b8b8b8" opacity="0.6"/><rect x="535.0" y="112.3" width="0.8" height="0.8" fill="#ffffff" opacity="0.9"/><rect x="550.8" y="113.1" width="1.4" height="1.4" fill="#b8b8b8" opacity="0.6"/><rect x="533.0" y="111.2" width="0.8" height="0.8" fill="#ffffff" opacity="0.9"/><rect x="532.7" y="120.0" width="1.1" height="1.1" fill="#ffffff" opacity="0.9"/><rect x="576.5" y="107.1" width="1.1" height="1.1" fill="#d0d0d0" opacity="0.6"/><rect x="549.0" y="98.7" width="1.1" height="1.1" fill="#d0d0d0" opacity="0.6"/><rect x="560.7" y="110.5" width="0.8" height="0.8" fill="#b8b8b8" opacity="0.6"/><rect x="587.7" y="121.4" width="1.1" height="1.1" fill="#b8b8b8" opacity="0.6"/><rect x="574.2" y="102.0" width="0.8" height="0.8" fill="#d0d0d0" opacity="0.6"/><rect x="533.3" y="123.4" width="1.4" height="1.4" fill="#bcbcbc" opacity="0.9"/><rect x="546.6" y="108.6" width="1.1" height="1.1" fill="#d0d0d0" opacity="0.6"/><rect x="565.2" y="116.4" width="1.4" height="1.4" fill="#d0d0d0" opacity="0.6"/><rect x="578.5" y="106.6" width="1.1" height="1.1" fill="#d0d0d0" opacity="0.6"/><rect x="566.3" y="126.1" width="1.1" height="1.1" fill="#d0d0d0" opacity="0.6"/><rect x="538.9" y="119.4" width="1.4" height="1.4" fill="#ffffff" opacity="0.9"/><rect x="578.4" y="83.2" width="1.4" height="1.4" fill="#d0d0d0" opacity="0.6"/><rect x="570.1" y="97.9" width="1.4" height="1.4" fill="#d0d0d0" opacity="0.6"/><rect x="562.9" y="109.9" width="1.4" height="1.4" fill="#b8b8b8" opacity="0.6"/><rect x="539.0" y="105.3" width="1.1" height="1.1" fill="#bcbcbc" opacity="0.9"/><rect x="545.9" y="126.0" width="0.8" height="0.8" fill="#ffffff" opacity="0.9"/><rect x="535.6" y="108.5" width="0.8" height="0.8" fill="#ffffff" opacity="0.9"/><rect x="580.5" y="96.8" width="1.4" height="1.4" fill="#d0d0d0" opacity="0.6"/><rect x="561.3" y="114.7" width="0.8" height="0.8" fill="#d0d0d0" opacity="0.6"/><rect x="572.6" y="106.6" width="0.8" height="0.8" fill="#d0d0d0" opacity="0.6"/><rect x="561.8" y="96.4" width="0.8" height="0.8" fill="#d0d0d0" opacity="0.6"/><rect x="529.0" y="113.5" width="0.8" height="0.8" fill="#ffffff" opacity="0.9"/><rect x="558.4" y="99.8" width="0.8" height="0.8" fill="#b8b8b8" opacity="0.6"/><rect x="586.5" y="113.9" width="0.8" height="0.8" fill="#d0d0d0" opacity="0.6"/><rect x="557.1" y="106.0" width="1.4" height="1.4" fill="#d0d0d0" opacity="0.6"/><rect x="580.1" y="103.2" width="0.8" height="0.8" fill="#b8b8b8" opacity="0.6"/><rect x="540.7" y="126.6" width="1.1" height="1.1" fill="#ffffff" opacity="0.9"/><rect x="542.0" y="125.9" width="0.8" height="0.8" fill="#ffffff" opacity="0.9"/><rect x="584.1" y="104.5" width="1.4" height="1.4" fill="#b8b8b8" opacity="0.6"/><rect x="570.9" y="96.2" width="1.1" height="1.1" fill="#b8b8b8" opacity="0.6"/><rect x="571.4" y="121.4" width="1.4" height="1.4" fill="#b8b8b8" opacity="0.6"/><rect x="579.2" y="119.8" width="1.1" height="1.1" fill="#b8b8b8" opacity="0.6"/><rect x="539.4" y="119.6" width="0.8" height="0.8" fill="#bcbcbc" opacity="0.9"/><rect x="559.2" y="123.2" width="1.4" height="1.4" fill="#b8b8b8" opacity="0.6"/><rect x="566.3" y="97.2" width="1.4" height="1.4" fill="#b8b8b8" opacity="0.6"/><rect x="531.1" y="114.4" width="0.8" height="0.8" fill="#bcbcbc" opacity="0.9"/><rect x="566.6" y="108.7" width="1.1" height="1.1" fill="#b8b8b8" opacity="0.6"/><rect x="530.1" y="119.6" width="1.1" height="1.1" fill="#ffffff" opacity="0.9"/><rect x="541.4" y="114.7" width="1.4" height="1.4" fill="#ffffff" opacity="0.9"/><rect x="557.2" y="115.2" width="1.4" height="1.4" fill="#d0d0d0" opacity="0.6"/><rect x="508.7" y="122.5" width="1.1" height="1.1" fill="#ffffff" opacity="0.9"/><rect x="536.4" y="124.6" width="0.8" height="0.8" fill="#ffffff" opacity="0.9"/><rect x="507.8" y="121.9" width="1.4" height="1.4" fill="#ffffff" opacity="0.9"/><rect x="560.1" y="116.3" width="0.8" height="0.8" fill="#b8b8b8" opacity="0.6"/><rect x="539.9" y="111.5" width="1.1" height="1.1" fill="#ffffff" opacity="0.9"/><rect x="568.7" y="95.4" width="1.1" height="1.1" fill="#d0d0d0" opacity="0.6"/><rect x="529.1" y="123.9" width="1.1" height="1.1" fill="#ffffff" opacity="0.9"/><rect x="559.9" y="91.5" width="1.4" height="1.4" fill="#b8b8b8" opacity="0.6"/><rect x="575.4" y="83.7" width="1.1" height="1.1" fill="#b8b8b8" opacity="0.6"/><rect x="519.7" y="117.0" width="1.4" height="1.4" fill="#bcbcbc" opacity="0.9"/><rect x="570.5" y="88.0" width="1.4" height="1.4" fill="#d0d0d0" opacity="0.6"/><rect x="575.2" y="126.7" width="1.1" height="1.1" fill="#d0d0d0" opacity="0.6"/><rect x="580.8" y="93.5" width="0.8" height="0.8" fill="#b8b8b8" opacity="0.6"/><rect x="558.9" y="120.0" width="1.1" height="1.1" fill="#d0d0d0" opacity="0.6"/><rect x="563.4" y="95.7" width="1.4" height="1.4" fill="#b8b8b8" opacity="0.6"/><rect x="544.6" y="101.5" width="0.8" height="0.8" fill="#d0d0d0" opacity="0.6"/><rect x="569.9" y="122.8" width="1.1" height="1.1" fill="#b8b8b8" opacity="0.6"/><rect x="535.1" y="116.9" width="0.8" height="0.8" fill="#ffffff" opacity="0.9"/><rect x="550.0" y="121.3" width="1.1" height="1.1" fill="#b8b8b8" opacity="0.6"/><rect x="528.8" y="109.3" width="1.1" height="1.1" fill="#ffffff" opacity="0.9"/><rect x="568.1" y="116.7" width="1.4" height="1.4" fill="#d0d0d0" opacity="0.6"/><rect x="543.9" y="116.1" width="1.4" height="1.4" fill="#ffffff" opacity="0.9"/><rect x="538.2" y="124.2" width="0.8" height="0.8" fill="#bcbcbc" opacity="0.9"/><rect x="532.7" y="110.9" width="1.1" height="1.1" fill="#ffffff" opacity="0.9"/><rect x="560.3" y="113.7" width="1.1" height="1.1" fill="#b8b8b8" opacity="0.6"/><rect x="551.3" y="98.8" width="1.1" height="1.1" fill="#d0d0d0" opacity="0.6"/><rect x="585.4" y="111.5" width="0.8" height="0.8" fill="#d0d0d0" opacity="0.6"/><rect x="545.9" y="123.6" width="1.1" height="1.1" fill="#bcbcbc" opacity="0.9"/><rect x="578.8" y="104.6" width="1.4" height="1.4" fill="#d0d0d0" opacity="0.6"/><rect x="536.1" y="120.1" width="1.4" height="1.4" fill="#bcbcbc" opacity="0.9"/><rect x="542.5" y="110.4" width="1.4" height="1.4" fill="#ffffff" opacity="0.9"/><rect x="521.7" y="123.7" width="0.8" height="0.8" fill="#ffffff" opacity="0.9"/><rect x="546.5" y="113.9" width="1.4" height="1.4" fill="#ffffff" opacity="0.9"/><rect x="547.2" y="119.6" width="1.1" height="1.1" fill="#bcbcbc" opacity="0.9"/><rect x="575.3" y="124.8" width="1.4" height="1.4" fill="#b8b8b8" opacity="0.6"/><rect x="572.7" y="122.5" width="0.8" height="0.8" fill="#d0d0d0" opacity="0.6"/><rect x="560.5" y="96.3" width="0.8" height="0.8" fill="#b8b8b8" opacity="0.6"/><rect x="567.0" y="111.1" width="0.8" height="0.8" fill="#d0d0d0" opacity="0.6"/><rect x="560.2" y="98.8" width="1.1" height="1.1" fill="#d0d0d0" opacity="0.6"/><rect x="589.0" y="114.6" width="0.8" height="0.8" fill="#d0d0d0" opacity="0.6"/><rect x="573.0" y="94.2" width="1.4" height="1.4" fill="#d0d0d0" opacity="0.6"/><rect x="526.9" y="123.9" width="1.4" height="1.4" fill="#bcbcbc" opacity="0.9"/><rect x="573.6" y="115.7" width="1.1" height="1.1" fill="#b8b8b8" opacity="0.6"/><rect x="538.8" y="109.1" width="0.8" height="0.8" fill="#bcbcbc" opacity="0.9"/><rect x="552.3" y="121.6" width="1.1" height="1.1" fill="#d0d0d0" opacity="0.6"/><rect x="543.2" y="111.4" width="1.4" height="1.4" fill="#bcbcbc" opacity="0.9"/><rect x="563.6" y="116.7" width="1.4" height="1.4" fill="#b8b8b8" opacity="0.6"/><rect x="528.3" y="124.2" width="0.8" height="0.8" fill="#ffffff" opacity="0.9"/><rect x="564.1" y="122.2" width="1.4" height="1.4" fill="#d0d0d0" opacity="0.6"/><rect x="568.2" y="120.9" width="1.1" height="1.1" fill="#b8b8b8" opacity="0.6"/><rect x="509.9" y="124.9" width="0.8" height="0.8" fill="#ffffff" opacity="0.9"/><rect x="520.2" y="124.8" width="1.1" height="1.1" fill="#ffffff" opacity="0.9"/><rect x="577.9" y="96.6" width="0.8" height="0.8" fill="#b8b8b8" opacity="0.6"/><rect x="530.5" y="110.3" width="1.4" height="1.4" fill="#ffffff" opacity="0.9"/><rect x="572.1" y="114.4" width="0.8" height="0.8" fill="#d0d0d0" opacity="0.6"/><rect x="559.4" y="121.1" width="1.1" height="1.1" fill="#d0d0d0" opacity="0.6"/><rect x="563.8" y="107.2" width="1.1" height="1.1" fill="#d0d0d0" opacity="0.6"/><rect x="577.1" y="104.3" width="1.4" height="1.4" fill="#b8b8b8" opacity="0.6"/><rect x="574.3" y="86.8" width="1.4" height="1.4" fill="#b8b8b8" opacity="0.6"/><rect x="563.8" y="94.6" width="1.4" height="1.4" fill="#d0d0d0" opacity="0.6"/><rect x="523.5" y="114.1" width="1.1" height="1.1" fill="#bcbcbc" opacity="0.9"/><rect x="510.2" y="126.3" width="0.8" height="0.8" fill="#bcbcbc" opacity="0.9"/><rect x="573.5" y="93.3" width="1.1" height="1.1" fill="#d0d0d0" opacity="0.6"/><rect x="530.2" y="113.2" width="1.4" height="1.4" fill="#ffffff" opacity="0.9"/><rect x="549.2" y="108.6" width="1.1" height="1.1" fill="#d0d0d0" opacity="0.6"/><rect x="580.2" y="112.1" width="1.1" height="1.1" fill="#b8b8b8" opacity="0.6"/><rect x="526.7" y="122.1" width="0.8" height="0.8" fill="#ffffff" opacity="0.9"/><rect x="573.4" y="110.7" width="1.1" height="1.1" fill="#b8b8b8" opacity="0.6"/><rect x="565.7" y="113.9" width="1.1" height="1.1" fill="#d0d0d0" opacity="0.6"/><rect x="519.6" y="116.1" width="1.4" height="1.4" fill="#ffffff" opacity="0.9"/><rect x="533.5" y="107.1" width="0.8" height="0.8" fill="#ffffff" opacity="0.9"/><rect x="586.3" y="113.7" width="1.4" height="1.4" fill="#d0d0d0" opacity="0.6"/><rect x="583.1" y="102.2" width="0.8" height="0.8" fill="#b8b8b8" opacity="0.6"/><rect x="527.3" y="124.8" width="1.4" height="1.4" fill="#ffffff" opacity="0.9"/><rect x="564.2" y="96.0" width="0.8" height="0.8" fill="#b8b8b8" opacity="0.6"/><rect x="518.6" y="126.9" width="0.8" height="0.8" fill="#bcbcbc" opacity="0.9"/><rect x="585.5" y="109.4" width="0.8" height="0.8" fill="#d0d0d0" opacity="0.6"/><rect x="557.8" y="96.2" width="1.4" height="1.4" fill="#b8b8b8" opacity="0.6"/><rect x="581.1" y="89.3" width="0.8" height="0.8" fill="#b8b8b8" opacity="0.6"/><rect x="574.8" y="98.2" width="1.1" height="1.1" fill="#b8b8b8" opacity="0.6"/><rect x="570.5" y="88.6" width="0.8" height="0.8" fill="#d0d0d0" opacity="0.6"/><rect x="579.4" y="96.3" width="1.1" height="1.1" fill="#d0d0d0" opacity="0.6"/><rect x="565.4" y="102.5" width="1.1" height="1.1" fill="#b8b8b8" opacity="0.6"/><rect x="504.5" y="123.4" width="1.4" height="1.4" fill="#bcbcbc" opacity="0.9"/><rect x="563.9" y="107.3" width="0.8" height="0.8" fill="#d0d0d0" opacity="0.6"/><rect x="569.0" y="94.1" width="1.1" height="1.1" fill="#b8b8b8" opacity="0.6"/><rect x="512.4" y="123.0" width="0.8" height="0.8" fill="#ffffff" opacity="0.9"/><rect x="524.5" y="121.2" width="0.8" height="0.8" fill="#ffffff" opacity="0.9"/><rect x="559.8" y="124.4" width="1.4" height="1.4" fill="#b8b8b8" opacity="0.6"/><rect x="565.3" y="110.9" width="1.1" height="1.1" fill="#b8b8b8" opacity="0.6"/><rect x="563.7" y="109.7" width="1.4" height="1.4" fill="#d0d0d0" opacity="0.6"/><rect x="557.2" y="113.8" width="1.4" height="1.4" fill="#d0d0d0" opacity="0.6"/><rect x="529.7" y="119.7" width="1.4" height="1.4" fill="#bcbcbc" opacity="0.9"/><rect x="588.1" y="116.4" width="0.8" height="0.8" fill="#d0d0d0" opacity="0.6"/><rect x="555.8" y="118.2" width="0.8" height="0.8" fill="#b8b8b8" opacity="0.6"/><rect x="545.4" y="109.3" width="1.4" height="1.4" fill="#ffffff" opacity="0.9"/><rect x="570.8" y="96.1" width="1.4" height="1.4" fill="#b8b8b8" opacity="0.6"/><rect x="573.9" y="107.7" width="1.1" height="1.1" fill="#b8b8b8" opacity="0.6"/><rect x="556.4" y="124.0" width="1.4" height="1.4" fill="#d0d0d0" opacity="0.6"/><rect x="569.2" y="107.5" width="0.8" height="0.8" fill="#b8b8b8" opacity="0.6"/><rect x="578.9" y="105.7" width="0.8" height="0.8" fill="#d0d0d0" opacity="0.6"/><rect x="551.2" y="109.2" width="1.4" height="1.4" fill="#d0d0d0" opacity="0.6"/><rect x="504.7" y="125.6" width="1.1" height="1.1" fill="#ffffff" opacity="0.9"/><rect x="568.6" y="88.6" width="1.1" height="1.1" fill="#d0d0d0" opacity="0.6"/><rect x="569.3" y="94.3" width="0.8" height="0.8" fill="#d0d0d0" opacity="0.6"/><rect x="584.8" y="99.1" width="0.8" height="0.8" fill="#d0d0d0" opacity="0.6"/><rect x="588.7" y="111.9" width="0.8" height="0.8" fill="#b8b8b8" opacity="0.6"/><rect x="526.9" y="121.2" width="1.1" height="1.1" fill="#ffffff" opacity="0.9"/><rect x="587.9" y="114.9" width="0.8" height="0.8" fill="#d0d0d0" opacity="0.6"/><rect x="561.1" y="102.7" width="1.4" height="1.4" fill="#d0d0d0" opacity="0.6"/><rect x="560.0" y="93.7" width="1.1" height="1.1" fill="#b8b8b8" opacity="0.6"/><rect x="540.4" y="107.3" width="0.8" height="0.8" fill="#ffffff" opacity="0.9"/><rect x="511.8" y="124.8" width="0.8" height="0.8" fill="#ffffff" opacity="0.9"/><rect x="568.0" y="118.2" width="1.4" height="1.4" fill="#b8b8b8" opacity="0.6"/><rect x="557.5" y="107.7" width="1.1" height="1.1" fill="#d0d0d0" opacity="0.6"/><rect x="574.0" y="112.9" width="0.8" height="0.8" fill="#b8b8b8" opacity="0.6"/><rect x="571.1" y="94.9" width="1.1" height="1.1" fill="#d0d0d0" opacity="0.6"/><rect x="542.5" y="122.8" width="1.4" height="1.4" fill="#ffffff" opacity="0.9"/><rect x="544.5" y="113.9" width="1.4" height="1.4" fill="#ffffff" opacity="0.9"/><rect x="579.1" y="116.2" width="1.4" height="1.4" fill="#b8b8b8" opacity="0.6"/><rect x="582.9" y="118.1" width="0.8" height="0.8" fill="#b8b8b8" opacity="0.6"/><rect x="583.7" y="124.4" width="1.1" height="1.1" fill="#d0d0d0" opacity="0.6"/><rect x="551.3" y="101.4" width="1.1" height="1.1" fill="#d0d0d0" opacity="0.6"/><rect x="502.4" y="126.8" width="1.4" height="1.4" fill="#ffffff" opacity="0.9"/><rect x="529.9" y="119.3" width="1.4" height="1.4" fill="#bcbcbc" opacity="0.9"/><rect x="584.6" y="119.0" width="0.8" height="0.8" fill="#b8b8b8" opacity="0.6"/><rect x="511.3" y="120.4" width="1.1" height="1.1" fill="#ffffff" opacity="0.9"/><rect x="558.2" y="119.4" width="1.4" height="1.4" fill="#d0d0d0" opacity="0.6"/><rect x="552.8" y="97.6" width="1.4" height="1.4" fill="#b8b8b8" opacity="0.6"/><rect x="527.8" y="123.4" width="1.1" height="1.1" fill="#bcbcbc" opacity="0.9"/><rect x="528.0" y="119.9" width="1.1" height="1.1" fill="#bcbcbc" opacity="0.9"/><rect x="578.1" y="106.7" width="0.8" height="0.8" fill="#d0d0d0" opacity="0.6"/><rect x="580.3" y="119.0" width="0.8" height="0.8" fill="#b8b8b8" opacity="0.6"/><rect x="525.2" y="118.6" width="1.1" height="1.1" fill="#ffffff" opacity="0.9"/><rect x="573.1" y="99.3" width="1.1" height="1.1" fill="#b8b8b8" opacity="0.6"/><rect x="522.8" y="117.6" width="1.1" height="1.1" fill="#ffffff" opacity="0.9"/><rect x="557.4" y="104.5" width="1.4" height="1.4" fill="#b8b8b8" opacity="0.6"/><rect x="555.5" y="96.3" width="1.1" height="1.1" fill="#b8b8b8" opacity="0.6"/><rect x="574.0" y="83.0" width="1.4" height="1.4" fill="#d0d0d0" opacity="0.6"/><rect x="551.6" y="109.5" width="1.4" height="1.4" fill="#d0d0d0" opacity="0.6"/><rect x="554.1" y="101.1" width="1.1" height="1.1" fill="#b8b8b8" opacity="0.6"/><rect x="560.4" y="108.7" width="0.8" height="0.8" fill="#d0d0d0" opacity="0.6"/><rect x="545.1" y="100.0" width="0.8" height="0.8" fill="#d0d0d0" opacity="0.6"/><rect x="529.3" y="124.0" width="1.1" height="1.1" fill="#bcbcbc" opacity="0.9"/><rect x="581.9" y="96.1" width="0.8" height="0.8" fill="#d0d0d0" opacity="0.6"/><rect x="565.8" y="107.9" width="0.8" height="0.8" fill="#d0d0d0" opacity="0.6"/><rect x="561.4" y="105.0" width="0.8" height="0.8" fill="#b8b8b8" opacity="0.6"/><rect x="551.3" y="117.7" width="0.8" height="0.8" fill="#d0d0d0" opacity="0.6"/><rect x="567.9" y="106.4" width="1.1" height="1.1" fill="#d0d0d0" opacity="0.6"/><rect x="575.5" y="85.1" width="1.1" height="1.1" fill="#b8b8b8" opacity="0.6"/><rect x="583.1" y="124.4" width="1.4" height="1.4" fill="#d0d0d0" opacity="0.6"/><rect x="563.8" y="97.1" width="0.8" height="0.8" fill="#d0d0d0" opacity="0.6"/><rect x="577.2" y="82.3" width="1.1" height="1.1" fill="#b8b8b8" opacity="0.6"/><rect x="547.8" y="103.3" width="0.8" height="0.8" fill="#b8b8b8" opacity="0.6"/><rect x="572.1" y="98.3" width="0.8" height="0.8" fill="#b8b8b8" opacity="0.6"/><rect x="531.0" y="111.3" width="1.4" height="1.4" fill="#bcbcbc" opacity="0.9"/><rect x="549.1" y="119.7" width="1.4" height="1.4" fill="#ffffff" opacity="0.9"/><rect x="542.1" y="104.5" width="0.8" height="0.8" fill="#ffffff" opacity="0.9"/><rect x="579.5" y="85.0" width="0.8" height="0.8" fill="#b8b8b8" opacity="0.6"/><rect x="576.5" y="92.3" width="1.1" height="1.1" fill="#b8b8b8" opacity="0.6"/><rect x="573.3" y="93.6" width="0.8" height="0.8" fill="#d0d0d0" opacity="0.6"/><rect x="549.6" y="101.2" width="1.4" height="1.4" fill="#b8b8b8" opacity="0.6"/><rect x="563.9" y="118.8" width="0.8" height="0.8" fill="#d0d0d0" opacity="0.6"/><rect x="550.6" y="126.9" width="1.4" height="1.4" fill="#d0d0d0" opacity="0.6"/><rect x="572.2" y="93.6" width="1.4" height="1.4" fill="#d0d0d0" opacity="0.6"/><rect x="561.6" y="104.9" width="1.4" height="1.4" fill="#b8b8b8" opacity="0.6"/><rect x="522.1" y="116.8" width="0.8" height="0.8" fill="#ffffff" opacity="0.9"/><rect x="588.6" y="108.0" width="0.8" height="0.8" fill="#d0d0d0" opacity="0.6"/><rect x="570.9" y="107.3" width="1.1" height="1.1" fill="#d0d0d0" opacity="0.6"/><rect x="548.8" y="126.8" width="0.8" height="0.8" fill="#ffffff" opacity="0.9"/><rect x="552.9" y="104.2" width="1.4" height="1.4" fill="#b8b8b8" opacity="0.6"/><rect x="542.4" y="126.0" width="1.1" height="1.1" fill="#bcbcbc" opacity="0.9"/><rect x="566.4" y="112.0" width="1.4" height="1.4" fill="#d0d0d0" opacity="0.6"/><rect x="525.5" y="125.4" width="1.4" height="1.4" fill="#ffffff" opacity="0.9"/><rect x="516.6" y="119.4" width="1.4" height="1.4" fill="#bcbcbc" opacity="0.9"/><rect x="514.1" y="126.7" width="0.8" height="0.8" fill="#bcbcbc" opacity="0.9"/><rect x="570.3" y="118.3" width="1.4" height="1.4" fill="#d0d0d0" opacity="0.6"/><rect x="542.3" y="118.8" width="1.4" height="1.4" fill="#bcbcbc" opacity="0.9"/><rect x="562.9" y="92.2" width="0.8" height="0.8" fill="#d0d0d0" opacity="0.6"/><rect x="586.2" y="104.9" width="1.1" height="1.1" fill="#d0d0d0" opacity="0.6"/><rect x="541.3" y="120.0" width="1.4" height="1.4" fill="#bcbcbc" opacity="0.9"/><rect x="562.5" y="98.4" width="1.4" height="1.4" fill="#d0d0d0" opacity="0.6"/><rect x="499.4" y="125.9" width="1.4" height="1.4" fill="#ffffff" opacity="0.9"/><rect x="528.4" y="123.4" width="1.4" height="1.4" fill="#bcbcbc" opacity="0.9"/><rect x="582.9" y="119.8" width="0.8" height="0.8" fill="#d0d0d0" opacity="0.6"/><rect x="543.9" y="117.6" width="0.8" height="0.8" fill="#ffffff" opacity="0.9"/><rect x="576.2" y="97.4" width="1.1" height="1.1" fill="#d0d0d0" opacity="0.6"/><rect x="544.6" y="118.8" width="0.8" height="0.8" fill="#ffffff" opacity="0.9"/><rect x="576.5" y="94.8" width="1.1" height="1.1" fill="#b8b8b8" opacity="0.6"/><rect x="572.6" y="123.8" width="1.1" height="1.1" fill="#d0d0d0" opacity="0.6"/><rect x="535.8" y="109.4" width="0.8" height="0.8" fill="#ffffff" opacity="0.9"/><rect x="560.6" y="107.9" width="0.8" height="0.8" fill="#d0d0d0" opacity="0.6"/><rect x="535.8" y="115.8" width="0.8" height="0.8" fill="#bcbcbc" opacity="0.9"/><rect x="569.4" y="112.6" width="0.8" height="0.8" fill="#b8b8b8" opacity="0.6"/><rect x="536.8" y="114.8" width="1.1" height="1.1" fill="#ffffff" opacity="0.9"/><rect x="578.9" y="119.6" width="1.1" height="1.1" fill="#d0d0d0" opacity="0.6"/><rect x="558.6" y="93.0" width="1.1" height="1.1" fill="#d0d0d0" opacity="0.6"/><rect x="537.9" y="118.3" width="0.8" height="0.8" fill="#bcbcbc" opacity="0.9"/><rect x="541.6" y="118.0" width="0.8" height="0.8" fill="#ffffff" opacity="0.9"/><rect x="565.1" y="121.2" width="1.1" height="1.1" fill="#d0d0d0" opacity="0.6"/><rect x="573.1" y="121.4" width="1.4" height="1.4" fill="#b8b8b8" opacity="0.6"/><rect x="538.5" y="115.2" width="0.8" height="0.8" fill="#ffffff" opacity="0.9"/><rect x="536.7" y="118.9" width="1.1" height="1.1" fill="#ffffff" opacity="0.9"/><rect x="580.1" y="97.4" width="0.8" height="0.8" fill="#b8b8b8" opacity="0.6"/><rect x="518.2" y="116.0" width="0.8" height="0.8" fill="#ffffff" opacity="0.9"/><rect x="524.8" y="118.6" width="1.4" height="1.4" fill="#bcbcbc" opacity="0.9"/><rect x="527.1" y="121.2" width="1.4" height="1.4" fill="#ffffff" opacity="0.9"/><rect x="587.2" y="109.2" width="1.4" height="1.4" fill="#d0d0d0" opacity="0.6"/><rect x="555.7" y="110.1" width="1.4" height="1.4" fill="#b8b8b8" opacity="0.6"/><rect x="576.0" y="104.2" width="1.4" height="1.4" fill="#b8b8b8" opacity="0.6"/><rect x="587.2" y="124.9" width="1.1" height="1.1" fill="#b8b8b8" opacity="0.6"/><rect x="538.9" y="114.3" width="1.1" height="1.1" fill="#bcbcbc" opacity="0.9"/><rect x="556.8" y="112.1" width="1.4" height="1.4" fill="#b8b8b8" opacity="0.6"/><rect x="561.0" y="112.5" width="1.4" height="1.4" fill="#d0d0d0" opacity="0.6"/><rect x="542.2" y="102.1" width="1.1" height="1.1" fill="#bcbcbc" opacity="0.9"/><rect x="542.4" y="110.5" width="1.1" height="1.1" fill="#bcbcbc" opacity="0.9"/><rect x="516.1" y="122.0" width="1.4" height="1.4" fill="#ffffff" opacity="0.9"/><rect x="558.9" y="109.4" width="1.1" height="1.1" fill="#d0d0d0" opacity="0.6"/><rect x="562.6" y="124.4" width="0.8" height="0.8" fill="#d0d0d0" opacity="0.6"/><rect x="586.4" y="104.2" width="1.1" height="1.1" fill="#b8b8b8" opacity="0.6"/><rect x="555.4" y="122.9" width="0.8" height="0.8" fill="#b8b8b8" opacity="0.6"/><rect x="524.3" y="121.8" width="0.8" height="0.8" fill="#ffffff" opacity="0.9"/><rect x="546.2" y="107.0" width="1.1" height="1.1" fill="#b8b8b8" opacity="0.6"/><rect x="581.7" y="120.4" width="0.8" height="0.8" fill="#b8b8b8" opacity="0.6"/><rect x="541.0" y="119.4" width="0.8" height="0.8" fill="#bcbcbc" opacity="0.9"/><rect x="556.4" y="108.6" width="0.8" height="0.8" fill="#b8b8b8" opacity="0.6"/><rect x="562.7" y="96.8" width="1.1" height="1.1" fill="#b8b8b8" opacity="0.6"/><rect x="576.4" y="121.1" width="1.4" height="1.4" fill="#b8b8b8" opacity="0.6"/><rect x="584.8" y="112.8" width="1.1" height="1.1" fill="#b8b8b8" opacity="0.6"/><rect x="541.5" y="104.0" width="1.1" height="1.1" fill="#ffffff" opacity="0.9"/><rect x="564.0" y="118.9" width="1.1" height="1.1" fill="#d0d0d0" opacity="0.6"/><rect x="554.1" y="95.0" width="0.8" height="0.8" fill="#b8b8b8" opacity="0.6"/><rect x="554.8" y="99.0" width="1.1" height="1.1" fill="#b8b8b8" opacity="0.6"/><rect x="574.2" y="116.7" width="0.8" height="0.8" fill="#d0d0d0" opacity="0.6"/><rect x="583.9" y="110.6" width="0.8" height="0.8" fill="#d0d0d0" opacity="0.6"/><rect x="582.7" y="105.2" width="1.1" height="1.1" fill="#b8b8b8" opacity="0.6"/><rect x="586.3" y="121.1" width="0.8" height="0.8" fill="#b8b8b8" opacity="0.6"/><rect x="537.9" y="116.2" width="1.4" height="1.4" fill="#ffffff" opacity="0.9"/><rect x="560.1" y="111.3" width="0.8" height="0.8" fill="#d0d0d0" opacity="0.6"/><rect x="571.0" y="97.6" width="0.8" height="0.8" fill="#b8b8b8" opacity="0.6"/><rect x="563.0" y="95.3" width="1.1" height="1.1" fill="#b8b8b8" opacity="0.6"/><rect x="516.2" y="117.8" width="0.8" height="0.8" fill="#bcbcbc" opacity="0.9"/><rect x="568.4" y="103.3" width="1.4" height="1.4" fill="#b8b8b8" opacity="0.6"/><rect x="531.5" y="126.8" width="0.8" height="0.8" fill="#bcbcbc" opacity="0.9"/><rect x="564.9" y="116.0" width="0.8" height="0.8" fill="#b8b8b8" opacity="0.6"/><rect x="589.9" y="123.7" width="1.1" height="1.1" fill="#d0d0d0" opacity="0.6"/><rect x="531.2" y="112.4" width="0.8" height="0.8" fill="#ffffff" opacity="0.9"/><rect x="555.4" y="94.8" width="1.1" height="1.1" fill="#d0d0d0" opacity="0.6"/><rect x="548.9" y="118.2" width="1.1" height="1.1" fill="#b8b8b8" opacity="0.6"/><rect x="537.2" y="121.1" width="1.1" height="1.1" fill="#ffffff" opacity="0.9"/><rect x="570.2" y="123.4" width="0.8" height="0.8" fill="#d0d0d0" opacity="0.6"/><rect x="586.5" y="116.5" width="0.8" height="0.8" fill="#d0d0d0" opacity="0.6"/><rect x="517.8" y="126.1" width="0.8" height="0.8" fill="#bcbcbc" opacity="0.9"/><rect x="585.7" y="102.3" width="0.8" height="0.8" fill="#b8b8b8" opacity="0.6"/><rect x="514.0" y="122.4" width="1.4" height="1.4" fill="#ffffff" opacity="0.9"/><rect x="556.8" y="102.5" width="1.1" height="1.1" fill="#d0d0d0" opacity="0.6"/><rect x="550.7" y="124.6" width="1.1" height="1.1" fill="#d0d0d0" opacity="0.6"/><rect x="518.6" y="124.1" width="1.4" height="1.4" fill="#bcbcbc" opacity="0.9"/><rect x="517.3" y="123.5" width="1.1" height="1.1" fill="#ffffff" opacity="0.9"/><rect x="573.9" y="94.7" width="1.1" height="1.1" fill="#b8b8b8" opacity="0.6"/><rect x="541.9" y="115.3" width="0.8" height="0.8" fill="#ffffff" opacity="0.9"/><rect x="529.3" y="116.4" width="1.4" height="1.4" fill="#bcbcbc" opacity="0.9"/><rect x="565.4" y="89.7" width="0.8" height="0.8" fill="#b8b8b8" opacity="0.6"/><rect x="544.7" y="120.4" width="0.8" height="0.8" fill="#ffffff" opacity="0.9"/><rect x="551.1" y="120.2" width="1.4" height="1.4" fill="#b8b8b8" opacity="0.6"/><rect x="536.9" y="122.9" width="1.1" height="1.1" fill="#bcbcbc" opacity="0.9"/><rect x="564.4" y="123.0" width="0.8" height="0.8" fill="#d0d0d0" opacity="0.6"/><rect x="516.6" y="119.1" width="1.1" height="1.1" fill="#ffffff" opacity="0.9"/><rect x="577.3" y="103.5" width="1.1" height="1.1" fill="#d0d0d0" opacity="0.6"/><rect x="512.3" y="119.3" width="0.8" height="0.8" fill="#bcbcbc" opacity="0.9"/><rect x="582.1" y="110.5" width="1.1" height="1.1" fill="#d0d0d0" opacity="0.6"/><rect x="552.1" y="109.1" width="1.1" height="1.1" fill="#d0d0d0" opacity="0.6"/><rect x="567.6" y="115.1" width="1.1" height="1.1" fill="#d0d0d0" opacity="0.6"/><rect x="529.9" y="111.1" width="1.1" height="1.1" fill="#ffffff" opacity="0.9"/><rect x="563.0" y="96.9" width="1.1" height="1.1" fill="#b8b8b8" opacity="0.6"/><rect x="525.8" y="125.3" width="0.8" height="0.8" fill="#ffffff" opacity="0.9"/><rect x="565.0" y="119.1" width="1.1" height="1.1" fill="#d0d0d0" opacity="0.6"/><rect x="550.8" y="123.2" width="1.1" height="1.1" fill="#b8b8b8" opacity="0.6"/><rect x="587.0" y="115.3" width="0.8" height="0.8" fill="#b8b8b8" opacity="0.6"/><rect x="571.0" y="126.0" width="1.4" height="1.4" fill="#d0d0d0" opacity="0.6"/><rect x="570.0" y="116.9" width="1.1" height="1.1" fill="#d0d0d0" opacity="0.6"/><rect x="549.1" y="104.4" width="1.4" height="1.4" fill="#d0d0d0" opacity="0.6"/><rect x="580.0" y="121.9" width="1.4" height="1.4" fill="#d0d0d0" opacity="0.6"/><rect x="513.0" y="121.6" width="1.4" height="1.4" fill="#ffffff" opacity="0.9"/><rect x="558.0" y="103.7" width="1.1" height="1.1" fill="#d0d0d0" opacity="0.6"/><rect x="563.8" y="117.1" width="1.1" height="1.1" fill="#d0d0d0" opacity="0.6"/><rect x="586.3" y="108.4" width="1.1" height="1.1" fill="#d0d0d0" opacity="0.6"/><rect x="536.7" y="113.7" width="1.4" height="1.4" fill="#ffffff" opacity="0.9"/><rect x="552.7" y="119.7" width="0.8" height="0.8" fill="#d0d0d0" opacity="0.6"/><rect x="512.6" y="121.1" width="1.4" height="1.4" fill="#ffffff" opacity="0.9"/><rect x="570.9" y="125.3" width="1.1" height="1.1" fill="#d0d0d0" opacity="0.6"/><rect x="578.5" y="100.6" width="0.8" height="0.8" fill="#d0d0d0" opacity="0.6"/><rect x="574.2" y="123.4" width="0.8" height="0.8" fill="#d0d0d0" opacity="0.6"/><rect x="571.5" y="84.3" width="1.4" height="1.4" fill="#b8b8b8" opacity="0.6"/><rect x="588.6" y="114.1" width="1.1" height="1.1" fill="#d0d0d0" opacity="0.6"/><rect x="529.2" y="111.5" width="1.4" height="1.4" fill="#ffffff" opacity="0.9"/><rect x="525.8" y="111.9" width="1.4" height="1.4" fill="#ffffff" opacity="0.9"/><rect x="583.3" y="98.7" width="1.1" height="1.1" fill="#d0d0d0" opacity="0.6"/><rect x="551.0" y="122.8" width="1.1" height="1.1" fill="#b8b8b8" opacity="0.6"/><rect x="577.1" y="89.0" width="0.8" height="0.8" fill="#b8b8b8" opacity="0.6"/><rect x="579.1" y="123.8" width="1.4" height="1.4" fill="#b8b8b8" opacity="0.6"/><rect x="584.7" y="104.0" width="0.8" height="0.8" fill="#d0d0d0" opacity="0.6"/><rect x="578.8" y="91.4" width="1.4" height="1.4" fill="#b8b8b8" opacity="0.6"/><rect x="531.3" y="117.1" width="1.1" height="1.1" fill="#bcbcbc" opacity="0.9"/><rect x="573.7" y="108.2" width="1.1" height="1.1" fill="#b8b8b8" opacity="0.6"/><rect x="547.1" y="112.6" width="0.8" height="0.8" fill="#ffffff" opacity="0.9"/><rect x="558.5" y="105.1" width="0.8" height="0.8" fill="#b8b8b8" opacity="0.6"/><rect x="561.9" y="125.0" width="1.4" height="1.4" fill="#d0d0d0" opacity="0.6"/><rect x="523.8" y="120.1" width="1.1" height="1.1" fill="#ffffff" opacity="0.9"/><rect x="571.6" y="102.0" width="1.1" height="1.1" fill="#b8b8b8" opacity="0.6"/><rect x="538.0" y="114.2" width="0.8" height="0.8" fill="#bcbcbc" opacity="0.9"/><rect x="530.5" y="121.6" width="0.8" height="0.8" fill="#bcbcbc" opacity="0.9"/><rect x="559.5" y="102.8" width="1.1" height="1.1" fill="#d0d0d0" opacity="0.6"/><rect x="582.9" y="96.4" width="1.4" height="1.4" fill="#d0d0d0" opacity="0.6"/><rect x="513.5" y="117.8" width="0.8" height="0.8" fill="#bcbcbc" opacity="0.9"/><rect x="530.9" y="110.9" width="1.1" height="1.1" fill="#ffffff" opacity="0.9"/><rect x="528.8" y="124.4" width="1.4" height="1.4" fill="#bcbcbc" opacity="0.9"/><rect x="543.5" y="106.1" width="0.8" height="0.8" fill="#ffffff" opacity="0.9"/><rect x="556.1" y="115.7" width="0.8" height="0.8" fill="#b8b8b8" opacity="0.6"/><rect x="567.2" y="117.2" width="1.1" height="1.1" fill="#b8b8b8" opacity="0.6"/><rect x="584.9" y="123.8" width="1.1" height="1.1" fill="#d0d0d0" opacity="0.6"/><rect x="533.1" y="125.8" width="1.4" height="1.4" fill="#ffffff" opacity="0.9"/><rect x="538.8" y="111.9" width="1.1" height="1.1" fill="#ffffff" opacity="0.9"/><rect x="566.2" y="100.6" width="1.1" height="1.1" fill="#d0d0d0" opacity="0.6"/><rect x="564.2" y="123.3" width="1.1" height="1.1" fill="#d0d0d0" opacity="0.6"/><rect x="565.8" y="122.6" width="1.1" height="1.1" fill="#b8b8b8" opacity="0.6"/><rect x="553.1" y="118.9" width="0.8" height="0.8" fill="#b8b8b8" opacity="0.6"/><rect x="569.1" y="117.8" width="1.4" height="1.4" fill="#b8b8b8" opacity="0.6"/><rect x="570.8" y="111.8" width="1.1" height="1.1" fill="#d0d0d0" opacity="0.6"/><rect x="549.4" y="104.3" width="1.1" height="1.1" fill="#b8b8b8" opacity="0.6"/><rect x="550.7" y="126.8" width="1.4" height="1.4" fill="#b8b8b8" opacity="0.6"/><rect x="572.9" y="124.1" width="0.8" height="0.8" fill="#d0d0d0" opacity="0.6"/><rect x="573.9" y="106.5" width="0.8" height="0.8" fill="#d0d0d0" opacity="0.6"/><rect x="571.7" y="124.6" width="1.4" height="1.4" fill="#b8b8b8" opacity="0.6"/><rect x="564.4" y="122.4" width="1.1" height="1.1" fill="#b8b8b8" opacity="0.6"/><rect x="570.4" y="87.5" width="1.4" height="1.4" fill="#d0d0d0" opacity="0.6"/><rect x="554.6" y="98.9" width="1.4" height="1.4" fill="#b8b8b8" opacity="0.6"/><rect x="560.0" y="96.4" width="0.8" height="0.8" fill="#d0d0d0" opacity="0.6"/><rect x="576.7" y="92.6" width="1.1" height="1.1" fill="#d0d0d0" opacity="0.6"/><rect x="565.8" y="125.1" width="1.1" height="1.1" fill="#d0d0d0" opacity="0.6"/><rect x="520.2" y="114.6" width="1.1" height="1.1" fill="#bcbcbc" opacity="0.9"/><rect x="553.8" y="125.0" width="0.8" height="0.8" fill="#b8b8b8" opacity="0.6"/><rect x="557.5" y="112.2" width="1.4" height="1.4" fill="#d0d0d0" opacity="0.6"/><rect x="562.9" y="110.2" width="0.8" height="0.8" fill="#d0d0d0" opacity="0.6"/><rect x="565.2" y="124.0" width="1.1" height="1.1" fill="#d0d0d0" opacity="0.6"/><rect x="517.4" y="116.3" width="0.8" height="0.8" fill="#bcbcbc" opacity="0.9"/><rect x="565.7" y="88.7" width="1.4" height="1.4" fill="#d0d0d0" opacity="0.6"/><rect x="543.9" y="116.6" width="1.1" height="1.1" fill="#ffffff" opacity="0.9"/><rect x="556.4" y="114.4" width="1.4" height="1.4" fill="#b8b8b8" opacity="0.6"/><rect x="519.7" y="120.9" width="1.4" height="1.4" fill="#ffffff" opacity="0.9"/><rect x="565.3" y="114.4" width="1.4" height="1.4" fill="#d0d0d0" opacity="0.6"/><rect x="547.3" y="103.9" width="0.8" height="0.8" fill="#b8b8b8" opacity="0.6"/><rect x="547.2" y="115.5" width="1.1" height="1.1" fill="#ffffff" opacity="0.9"/><rect x="526.3" y="112.4" width="1.1" height="1.1" fill="#ffffff" opacity="0.9"/><rect x="575.0" y="115.1" width="1.1" height="1.1" fill="#b8b8b8" opacity="0.6"/><rect x="550.1" y="109.4" width="1.1" height="1.1" fill="#d0d0d0" opacity="0.6"/><rect x="546.5" y="114.3" width="1.1" height="1.1" fill="#ffffff" opacity="0.9"/><rect x="535.0" y="113.4" width="1.1" height="1.1" fill="#ffffff" opacity="0.9"/><rect x="575.6" y="92.2" width="0.8" height="0.8" fill="#d0d0d0" opacity="0.6"/><rect x="569.6" y="97.3" width="1.1" height="1.1" fill="#d0d0d0" opacity="0.6"/><rect x="521.8" y="120.6" width="1.4" height="1.4" fill="#bcbcbc" opacity="0.9"/><rect x="561.1" y="101.0" width="1.1" height="1.1" fill="#d0d0d0" opacity="0.6"/><rect x="587.4" y="121.5" width="0.8" height="0.8" fill="#d0d0d0" opacity="0.6"/><rect x="571.2" y="91.1" width="1.1" height="1.1" fill="#d0d0d0" opacity="0.6"/><rect x="578.1" y="80.9" width="0.8" height="0.8" fill="#d0d0d0" opacity="0.6"/><rect x="528.7" y="115.2" width="1.4" height="1.4" fill="#ffffff" opacity="0.9"/><rect x="547.3" y="99.3" width="1.1" height="1.1" fill="#b8b8b8" opacity="0.6"/><rect x="582.8" y="125.9" width="0.8" height="0.8" fill="#d0d0d0" opacity="0.6"/><rect x="553.9" y="118.5" width="1.1" height="1.1" fill="#b8b8b8" opacity="0.6"/><rect x="557.5" y="113.4" width="0.8" height="0.8" fill="#b8b8b8" opacity="0.6"/><rect x="562.6" y="120.1" width="1.1" height="1.1" fill="#b8b8b8" opacity="0.6"/><rect x="560.8" y="95.7" width="1.1" height="1.1" fill="#b8b8b8" opacity="0.6"/><rect x="572.7" y="125.4" width="0.8" height="0.8" fill="#d0d0d0" opacity="0.6"/><rect x="569.3" y="105.5" width="1.1" height="1.1" fill="#d0d0d0" opacity="0.6"/><rect x="529.9" y="109.7" width="1.4" height="1.4" fill="#ffffff" opacity="0.9"/><rect x="537.1" y="120.6" width="0.8" height="0.8" fill="#ffffff" opacity="0.9"/><rect x="571.7" y="125.8" width="0.8" height="0.8" fill="#b8b8b8" opacity="0.6"/><rect x="564.9" y="114.2" width="1.4" height="1.4" fill="#d0d0d0" opacity="0.6"/><rect x="586.0" y="108.6" width="1.4" height="1.4" fill="#d0d0d0" opacity="0.6"/><rect x="571.8" y="104.9" width="1.1" height="1.1" fill="#b8b8b8" opacity="0.6"/><rect x="567.3" y="114.2" width="1.1" height="1.1" fill="#b8b8b8" opacity="0.6"/><rect x="574.6" y="99.3" width="1.1" height="1.1" fill="#b8b8b8" opacity="0.6"/><rect x="517.8" y="119.6" width="1.4" height="1.4" fill="#ffffff" opacity="0.9"/><rect x="577.1" y="120.2" width="1.4" height="1.4" fill="#b8b8b8" opacity="0.6"/><rect x="550.1" y="102.4" width="0.8" height="0.8" fill="#b8b8b8" opacity="0.6"/><rect x="560.8" y="90.8" width="1.4" height="1.4" fill="#d0d0d0" opacity="0.6"/><rect x="535.7" y="118.7" width="1.1" height="1.1" fill="#bcbcbc" opacity="0.9"/><rect x="589.3" y="116.7" width="1.1" height="1.1" fill="#d0d0d0" opacity="0.6"/><rect x="527.2" y="113.8" width="1.4" height="1.4" fill="#bcbcbc" opacity="0.9"/><rect x="538.2" y="111.3" width="0.8" height="0.8" fill="#ffffff" opacity="0.9"/><rect x="562.1" y="124.2" width="1.1" height="1.1" fill="#b8b8b8" opacity="0.6"/><rect x="544.9" y="109.3" width="1.1" height="1.1" fill="#ffffff" opacity="0.9"/><rect x="560.3" y="107.0" width="1.4" height="1.4" fill="#b8b8b8" opacity="0.6"/><rect x="539.8" y="105.2" width="0.8" height="0.8" fill="#bcbcbc" opacity="0.9"/><rect x="546.7" y="104.4" width="1.4" height="1.4" fill="#d0d0d0" opacity="0.6"/><rect x="567.6" y="104.9" width="1.1" height="1.1" fill="#d0d0d0" opacity="0.6"/><rect x="552.9" y="100.9" width="1.4" height="1.4" fill="#b8b8b8" opacity="0.6"/><rect x="514.0" y="126.9" width="1.1" height="1.1" fill="#bcbcbc" opacity="0.9"/><rect x="565.2" y="122.5" width="0.8" height="0.8" fill="#b8b8b8" opacity="0.6"/><rect x="541.5" y="123.9" width="1.4" height="1.4" fill="#bcbcbc" opacity="0.9"/><rect x="580.3" y="125.9" width="1.1" height="1.1" fill="#b8b8b8" opacity="0.6"/><rect x="561.2" y="108.5" width="1.1" height="1.1" fill="#d0d0d0" opacity="0.6"/><rect x="534.7" y="112.4" width="1.4" height="1.4" fill="#ffffff" opacity="0.9"/><rect x="571.2" y="123.4" width="1.1" height="1.1" fill="#d0d0d0" opacity="0.6"/><rect x="526.5" y="125.6" width="1.4" height="1.4" fill="#bcbcbc" opacity="0.9"/><rect x="571.3" y="103.0" width="1.1" height="1.1" fill="#b8b8b8" opacity="0.6"/><rect x="578.6" y="106.2" width="1.1" height="1.1" fill="#d0d0d0" opacity="0.6"/><rect x="549.5" y="112.6" width="1.4" height="1.4" fill="#d0d0d0" opacity="0.6"/><rect x="551.9" y="101.7" width="1.1" height="1.1" fill="#d0d0d0" opacity="0.6"/><rect x="557.4" y="119.9" width="1.1" height="1.1" fill="#d0d0d0" opacity="0.6"/><rect x="555.1" y="99.2" width="1.4" height="1.4" fill="#d0d0d0" opacity="0.6"/><rect x="506.3" y="122.1" width="1.1" height="1.1" fill="#bcbcbc" opacity="0.9"/><rect x="547.4" y="122.6" width="0.8" height="0.8" fill="#ffffff" opacity="0.9"/><rect x="546.7" y="101.1" width="0.8" height="0.8" fill="#b8b8b8" opacity="0.6"/><rect x="516.3" y="124.3" width="1.4" height="1.4" fill="#ffffff" opacity="0.9"/><rect x="573.1" y="119.5" width="1.1" height="1.1" fill="#b8b8b8" opacity="0.6"/><rect x="582.5" y="122.1" width="1.4" height="1.4" fill="#b8b8b8" opacity="0.6"/><rect x="572.4" y="123.5" width="1.4" height="1.4" fill="#d0d0d0" opacity="0.6"/><rect x="559.2" y="95.9" width="0.8" height="0.8" fill="#b8b8b8" opacity="0.6"/><rect x="569.8" y="120.0" width="0.8" height="0.8" fill="#d0d0d0" opacity="0.6"/><rect x="577.6" y="120.7" width="1.4" height="1.4" fill="#d0d0d0" opacity="0.6"/><rect x="545.5" y="115.0" width="1.4" height="1.4" fill="#bcbcbc" opacity="0.9"/><rect x="571.5" y="95.6" width="1.1" height="1.1" fill="#d0d0d0" opacity="0.6"/><rect x="580.4" y="115.5" width="0.8" height="0.8" fill="#b8b8b8" opacity="0.6"/><rect x="573.3" y="120.3" width="0.8" height="0.8" fill="#d0d0d0" opacity="0.6"/><rect x="571.4" y="97.6" width="1.4" height="1.4" fill="#d0d0d0" opacity="0.6"/><rect x="588.4" y="125.2" width="0.8" height="0.8" fill="#d0d0d0" opacity="0.6"/><rect x="513.5" y="120.2" width="0.8" height="0.8" fill="#ffffff" opacity="0.9"/><rect x="542.2" y="109.9" width="0.8" height="0.8" fill="#ffffff" opacity="0.9"/><rect x="523.7" y="120.4" width="1.1" height="1.1" fill="#ffffff" opacity="0.9"/><rect x="526.0" y="114.6" width="1.4" height="1.4" fill="#bcbcbc" opacity="0.9"/><rect x="531.6" y="109.2" width="0.8" height="0.8" fill="#bcbcbc" opacity="0.9"/><rect x="564.9" y="121.0" width="1.1" height="1.1" fill="#d0d0d0" opacity="0.6"/><rect x="575.4" y="113.2" width="0.8" height="0.8" fill="#d0d0d0" opacity="0.6"/><rect x="575.5" y="102.8" width="1.1" height="1.1" fill="#d0d0d0" opacity="0.6"/><rect x="580.3" y="104.4" width="1.4" height="1.4" fill="#b8b8b8" opacity="0.6"/><rect x="576.4" y="84.6" width="1.4" height="1.4" fill="#b8b8b8" opacity="0.6"/><rect x="568.5" y="121.8" width="1.1" height="1.1" fill="#b8b8b8" opacity="0.6"/><rect x="582.1" y="120.4" width="1.4" height="1.4" fill="#d0d0d0" opacity="0.6"/><rect x="524.2" y="126.9" width="1.4" height="1.4" fill="#ffffff" opacity="0.9"/><rect x="578.1" y="123.9" width="1.4" height="1.4" fill="#d0d0d0" opacity="0.6"/><rect x="580.5" y="95.1" width="1.1" height="1.1" fill="#d0d0d0" opacity="0.6"/><rect x="537.5" y="106.7" width="1.1" height="1.1" fill="#bcbcbc" opacity="0.9"/><rect x="502.3" y="124.3" width="1.1" height="1.1" fill="#bcbcbc" opacity="0.9"/><rect x="505.1" y="122.9" width="1.4" height="1.4" fill="#bcbcbc" opacity="0.9"/><rect x="565.9" y="89.3" width="1.1" height="1.1" fill="#b8b8b8" opacity="0.6"/><rect x="542.0" y="104.0" width="1.4" height="1.4" fill="#ffffff" opacity="0.9"/><rect x="534.6" y="117.1" width="0.8" height="0.8" fill="#ffffff" opacity="0.9"/><rect x="568.2" y="92.7" width="0.8" height="0.8" fill="#d0d0d0" opacity="0.6"/><rect x="582.0" y="115.9" width="1.4" height="1.4" fill="#b8b8b8" opacity="0.6"/><rect x="554.1" y="98.0" width="1.1" height="1.1" fill="#b8b8b8" opacity="0.6"/><rect x="572.5" y="99.5" width="1.1" height="1.1" fill="#b8b8b8" opacity="0.6"/><rect x="561.9" y="108.3" width="1.1" height="1.1" fill="#d0d0d0" opacity="0.6"/><rect x="533.9" y="120.4" width="1.1" height="1.1" fill="#bcbcbc" opacity="0.9"/><rect x="561.1" y="107.3" width="1.4" height="1.4" fill="#b8b8b8" opacity="0.6"/><rect x="585.7" y="113.2" width="1.1" height="1.1" fill="#d0d0d0" opacity="0.6"/><rect x="561.1" y="124.4" width="1.1" height="1.1" fill="#d0d0d0" opacity="0.6"/><rect x="533.1" y="121.4" width="1.4" height="1.4" fill="#bcbcbc" opacity="0.9"/><rect x="583.5" y="115.3" width="1.1" height="1.1" fill="#d0d0d0" opacity="0.6"/><rect x="552.4" y="97.1" width="1.4" height="1.4" fill="#d0d0d0" opacity="0.6"/><rect x="507.1" y="126.6" width="1.4" height="1.4" fill="#ffffff" opacity="0.9"/><rect x="525.0" y="114.3" width="0.8" height="0.8" fill="#bcbcbc" opacity="0.9"/><rect x="565.9" y="97.1" width="1.4" height="1.4" fill="#b8b8b8" opacity="0.6"/><rect x="573.3" y="88.2" width="1.4" height="1.4" fill="#b8b8b8" opacity="0.6"/><rect x="576.4" y="102.2" width="1.4" height="1.4" fill="#b8b8b8" opacity="0.6"/><rect x="537.5" y="107.5" width="1.4" height="1.4" fill="#ffffff" opacity="0.9"/><rect x="536.6" y="125.1" width="1.1" height="1.1" fill="#ffffff" opacity="0.9"/><rect x="566.9" y="122.8" width="1.4" height="1.4" fill="#d0d0d0" opacity="0.6"/><rect x="585.2" y="121.1" width="1.4" height="1.4" fill="#b8b8b8" opacity="0.6"/><rect x="577.1" y="93.9" width="1.4" height="1.4" fill="#b8b8b8" opacity="0.6"/><rect x="569.2" y="112.2" width="1.4" height="1.4" fill="#d0d0d0" opacity="0.6"/><rect x="587.4" y="112.3" width="1.1" height="1.1" fill="#b8b8b8" opacity="0.6"/><rect x="579.6" y="85.6" width="1.4" height="1.4" fill="#d0d0d0" opacity="0.6"/><rect x="565.8" y="91.0" width="1.4" height="1.4" fill="#b8b8b8" opacity="0.6"/><rect x="583.3" y="122.2" width="1.4" height="1.4" fill="#d0d0d0" opacity="0.6"/><rect x="575.5" y="112.3" width="0.8" height="0.8" fill="#d0d0d0" opacity="0.6"/><rect x="581.0" y="101.2" width="1.1" height="1.1" fill="#d0d0d0" opacity="0.6"/><rect x="528.2" y="113.1" width="1.4" height="1.4" fill="#bcbcbc" opacity="0.9"/><rect x="546.4" y="119.9" width="0.8" height="0.8" fill="#bcbcbc" opacity="0.9"/><rect x="565.9" y="126.0" width="0.8" height="0.8" fill="#d0d0d0" opacity="0.6"/><rect x="547.2" y="101.5" width="1.4" height="1.4" fill="#b8b8b8" opacity="0.6"/><rect x="589.2" y="112.3" width="0.8" height="0.8" fill="#b8b8b8" opacity="0.6"/><rect x="535.2" y="105.5" width="1.4" height="1.4" fill="#ffffff" opacity="0.9"/><rect x="557.5" y="104.6" width="0.8" height="0.8" fill="#b8b8b8" opacity="0.6"/><rect x="556.3" y="96.1" width="0.8" height="0.8" fill="#d0d0d0" opacity="0.6"/><rect x="524.8" y="114.8" width="1.4" height="1.4" fill="#ffffff" opacity="0.9"/><rect x="573.1" y="91.2" width="1.4" height="1.4" fill="#b8b8b8" opacity="0.6"/><rect x="527.7" y="120.5" width="1.1" height="1.1" fill="#ffffff" opacity="0.9"/><rect x="588.0" y="116.5" width="1.4" height="1.4" fill="#d0d0d0" opacity="0.6"/><rect x="524.4" y="117.5" width="0.8" height="0.8" fill="#bcbcbc" opacity="0.9"/><rect x="546.5" y="114.3" width="1.1" height="1.1" fill="#ffffff" opacity="0.9"/><rect x="536.0" y="108.1" width="1.4" height="1.4" fill="#bcbcbc" opacity="0.9"/><rect x="581.5" y="119.4" width="1.1" height="1.1" fill="#b8b8b8" opacity="0.6"/><rect x="576.8" y="105.1" width="1.4" height="1.4" fill="#b8b8b8" opacity="0.6"/><rect x="574.5" y="104.1" width="1.1" height="1.1" fill="#d0d0d0" opacity="0.6"/><rect x="564.0" y="119.5" width="0.8" height="0.8" fill="#d0d0d0" opacity="0.6"/><rect x="566.5" y="95.4" width="0.8" height="0.8" fill="#d0d0d0" opacity="0.6"/><rect x="560.8" y="107.0" width="1.4" height="1.4" fill="#d0d0d0" opacity="0.6"/><rect x="575.3" y="84.4" width="1.1" height="1.1" fill="#b8b8b8" opacity="0.6"/><rect x="558.8" y="100.3" width="1.4" height="1.4" fill="#d0d0d0" opacity="0.6"/><rect x="576.0" y="109.8" width="1.1" height="1.1" fill="#d0d0d0" opacity="0.6"/><rect x="562.0" y="117.0" width="0.8" height="0.8" fill="#b8b8b8" opacity="0.6"/><rect x="550.5" y="106.6" width="1.1" height="1.1" fill="#d0d0d0" opacity="0.6"/><rect x="562.3" y="91.4" width="1.1" height="1.1" fill="#b8b8b8" opacity="0.6"/><rect x="525.3" y="113.7" width="1.4" height="1.4" fill="#ffffff" opacity="0.9"/><rect x="579.2" y="108.9" width="1.1" height="1.1" fill="#d0d0d0" opacity="0.6"/><rect x="576.9" y="109.5" width="1.1" height="1.1" fill="#b8b8b8" opacity="0.6"/><rect x="578.7" y="119.5" width="1.1" height="1.1" fill="#d0d0d0" opacity="0.6"/><rect x="519.2" y="123.3" width="0.8" height="0.8" fill="#bcbcbc" opacity="0.9"/><rect x="558.4" y="103.1" width="1.4" height="1.4" fill="#d0d0d0" opacity="0.6"/><rect x="540.8" y="110.7" width="1.1" height="1.1" fill="#ffffff" opacity="0.9"/><rect x="582.0" y="117.7" width="1.4" height="1.4" fill="#b8b8b8" opacity="0.6"/><rect x="547.5" y="120.0" width="1.4" height="1.4" fill="#ffffff" opacity="0.9"/><rect x="500.8" y="125.3" width="0.8" height="0.8" fill="#ffffff" opacity="0.9"/><rect x="518.4" y="123.9" width="1.1" height="1.1" fill="#bcbcbc" opacity="0.9"/><rect x="573.3" y="101.5" width="1.4" height="1.4" fill="#d0d0d0" opacity="0.6"/><rect x="582.4" y="91.9" width="1.4" height="1.4" fill="#d0d0d0" opacity="0.6"/><rect x="544.0" y="125.2" width="1.4" height="1.4" fill="#bcbcbc" opacity="0.9"/><rect x="536.2" y="108.5" width="0.8" height="0.8" fill="#bcbcbc" opacity="0.9"/><rect x="579.4" y="114.6" width="0.8" height="0.8" fill="#d0d0d0" opacity="0.6"/><rect x="531.7" y="120.1" width="1.1" height="1.1" fill="#ffffff" opacity="0.9"/><rect x="576.9" y="103.7" width="1.1" height="1.1" fill="#b8b8b8" opacity="0.6"/><rect x="514.8" y="121.8" width="0.8" height="0.8" fill="#ffffff" opacity="0.9"/><rect x="578.5" y="118.5" width="1.1" height="1.1" fill="#b8b8b8" opacity="0.6"/><rect x="575.4" y="96.9" width="0.8" height="0.8" fill="#d0d0d0" opacity="0.6"/><rect x="576.9" y="125.4" width="1.1" height="1.1" fill="#b8b8b8" opacity="0.6"/><rect x="533.1" y="116.7" width="1.4" height="1.4" fill="#ffffff" opacity="0.9"/><rect x="543.0" y="115.4" width="1.1" height="1.1" fill="#bcbcbc" opacity="0.9"/><rect x="505.5" y="123.2" width="1.4" height="1.4" fill="#ffffff" opacity="0.9"/><rect x="560.8" y="104.5" width="1.4" height="1.4" fill="#b8b8b8" opacity="0.6"/><rect x="552.2" y="95.7" width="0.8" height="0.8" fill="#d0d0d0" opacity="0.6"/><rect x="562.7" y="119.9" width="1.1" height="1.1" fill="#d0d0d0" opacity="0.6"/><rect x="576.4" y="91.9" width="0.8" height="0.8" fill="#b8b8b8" opacity="0.6"/><circle cx="578.20" cy="80.35" r="25.7" fill="#f40f1c"/></g>
<circle cx="530.5" cy="108.2" r="2.0" fill="#000"/>
<circle cx="537.2" cy="104.3" r="2.0" fill="#000"/>
<circle cx="531.6" cy="126.2" r="2.0" fill="#000"/>
<circle cx="550.4" cy="126.2" r="2.0" fill="#000"/>
<text class="s" x="499.3" y="135.6" font-size="8.2" font-weight="bold" letter-spacing="1.6" text-anchor="middle" fill="#707070">0001</text>
<text class="s" x="593.0" y="135.6" font-size="8.2" font-weight="bold" letter-spacing="1.6" text-anchor="middle" fill="#666">2110</text>
<text class="s" x="577.4" y="77.0" font-size="8.2" font-weight="bold" letter-spacing="1.6" text-anchor="middle" fill="#6a6a6a">1010</text>
<text class="r" x="529.0" y="136.4" font-size="8.6" font-weight="bold" text-anchor="middle" fill="#666">2114</text>
<text class="r" x="549.7" y="136.4" font-size="8.6" font-weight="bold" text-anchor="middle" fill="#666">2112</text>
<text class="r" x="520.6" y="106.4" font-size="8.6" font-weight="bold" text-anchor="middle" fill="#666">1012</text>
<text class="r" x="536.4" y="99.8" font-size="8.6" font-weight="bold" text-anchor="middle" fill="#666">2023</text>
<line x1="525.7" y1="129.2" x2="528.3" y2="129.2" stroke="#999" stroke-width="0.6"/>
<line x1="529.7" y1="129.2" x2="532.3" y2="129.2" stroke="#999" stroke-width="0.6"/>
<line x1="546.4" y1="129.2" x2="549.0" y2="129.2" stroke="#999" stroke-width="0.6"/>
<line x1="550.4" y1="129.2" x2="553.0" y2="129.2" stroke="#999" stroke-width="0.6"/>
<line x1="521.3" y1="99.7" x2="523.9" y2="99.7" stroke="#999" stroke-width="0.6"/>
<line x1="537.1" y1="93.1" x2="539.7" y2="93.1" stroke="#999" stroke-width="0.6"/>
<text class="s" transform="translate(502.6,92.8) scale(0.95,1)" font-size="17" fill="#111">ED</text>
<path d="M201.7,278.4 L215.7,278.4 L215.7,290.2 L222.3,290.2 L208.7,302.3 L195.0,290.2 L201.7,290.2 Z" fill="none" stroke="#000" stroke-width="2.1" stroke-linejoin="miter"/>
<path d="M325.3,245.3 L339.2,245.3 L339.2,257.4 L346.4,257.4 L332.2,269.6 L318.5,257.4 L325.3,257.4 Z" fill="none" stroke="#000" stroke-width="2.1" stroke-linejoin="miter"/>
<path d="M470.6,164.9 L466.4,147.4 L471.8,151.4 L479,141.6 L490.4,149.4 L483.4,159.1 L489.0,162.9 Z" fill="none" stroke="#000" stroke-width="2.1"/>
</svg></body></html>
